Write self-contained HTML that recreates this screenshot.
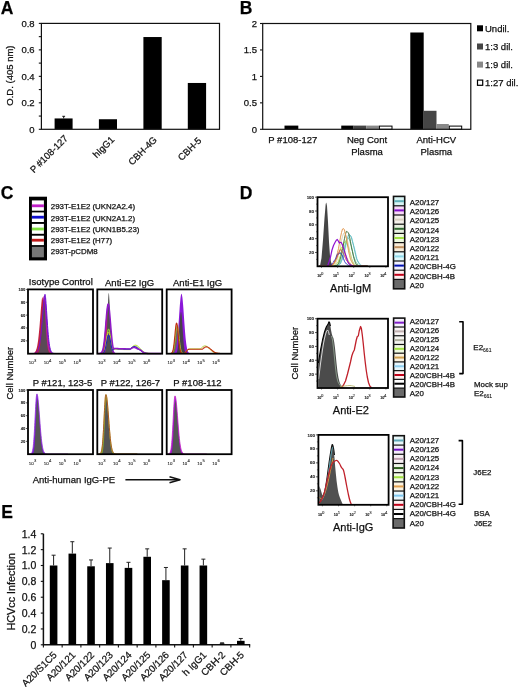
<!DOCTYPE html>
<html><head><meta charset="utf-8"><style>
html,body{margin:0;padding:0;background:#fff;}
svg{display:block;will-change:transform;}
text{font-family:"Liberation Sans",sans-serif;}

text{stroke:#111;stroke-width:0.25px;}
</style></head><body>
<svg width="520" height="687" viewBox="0 0 520 687" font-family="Liberation Sans, sans-serif">
<rect width="520" height="687" fill="#fff"/>
<text x="0.8" y="13.6" font-size="17.5" text-anchor="start" font-weight="bold" fill="#000" >A</text>
<text x="239.7" y="13.6" font-size="17.5" text-anchor="start" font-weight="bold" fill="#000" >B</text>
<text x="0.7" y="198.7" font-size="17.5" text-anchor="start" font-weight="bold" fill="#000" >C</text>
<text x="239.7" y="198.8" font-size="17.5" text-anchor="start" font-weight="bold" fill="#000" >D</text>
<text x="1.2" y="517.8" font-size="17.5" text-anchor="start" font-weight="bold" fill="#000" >E</text>
<line x1="38.8" y1="129.3" x2="41.4" y2="129.3" stroke="#111" stroke-width="1.1"/>
<line x1="38.8" y1="116.06250000000001" x2="41.4" y2="116.06250000000001" stroke="#111" stroke-width="1.1"/>
<line x1="38.8" y1="102.82500000000002" x2="41.4" y2="102.82500000000002" stroke="#111" stroke-width="1.1"/>
<line x1="38.8" y1="89.5875" x2="41.4" y2="89.5875" stroke="#111" stroke-width="1.1"/>
<line x1="38.8" y1="76.35000000000001" x2="41.4" y2="76.35000000000001" stroke="#111" stroke-width="1.1"/>
<line x1="38.8" y1="63.11250000000001" x2="41.4" y2="63.11250000000001" stroke="#111" stroke-width="1.1"/>
<line x1="38.8" y1="49.875000000000014" x2="41.4" y2="49.875000000000014" stroke="#111" stroke-width="1.1"/>
<line x1="38.8" y1="36.63750000000002" x2="41.4" y2="36.63750000000002" stroke="#111" stroke-width="1.1"/>
<line x1="38.8" y1="23.400000000000006" x2="41.4" y2="23.400000000000006" stroke="#111" stroke-width="1.1"/>
<text x="34.6" y="132.70000000000002" font-size="9.5" text-anchor="end" font-weight="normal" fill="#111" >0</text>
<text x="34.6" y="106.22500000000002" font-size="9.5" text-anchor="end" font-weight="normal" fill="#111" >0.2</text>
<text x="34.6" y="79.75000000000001" font-size="9.5" text-anchor="end" font-weight="normal" fill="#111" >0.4</text>
<text x="34.6" y="53.27500000000001" font-size="9.5" text-anchor="end" font-weight="normal" fill="#111" >0.6</text>
<text x="34.6" y="26.800000000000004" font-size="9.5" text-anchor="end" font-weight="normal" fill="#111" >0.8</text>
<rect x="54.6" y="118.44525000000002" width="17.999999999999993" height="10.854749999999996" fill="#000" stroke="none" stroke-width="0"/>
<rect x="98.9" y="119.2395" width="18.099999999999994" height="10.060500000000005" fill="#000" stroke="none" stroke-width="0"/>
<rect x="143.4" y="37.03462500000002" width="18.299999999999983" height="92.26537499999999" fill="#000" stroke="none" stroke-width="0"/>
<rect x="187.8" y="82.96875000000001" width="18.299999999999983" height="46.33125" fill="#000" stroke="none" stroke-width="0"/>
<line x1="63.7" y1="118.44525000000002" x2="63.7" y2="116.3" stroke="#111" stroke-width="1"/>
<line x1="62.3" y1="116.3" x2="65.1" y2="116.3" stroke="#111" stroke-width="1"/>
<rect x="41.4" y="23.4" width="178.1" height="105.9" fill="none" stroke="#111" stroke-width="1.2"/>
<text x="0" y="0" font-size="9.5" text-anchor="middle" font-weight="normal" fill="#111" transform="translate(12.6,75.6) rotate(-90)">O.D. (405 nm)</text>
<text x="0" y="0" font-size="9.5" text-anchor="end" font-weight="normal" fill="#111" transform="translate(68.5,139.0) rotate(-45)">P #108-127</text>
<text x="0" y="0" font-size="9.5" text-anchor="end" font-weight="normal" fill="#111" transform="translate(115,140.3) rotate(-45)">hIgG1</text>
<text x="0" y="0" font-size="9.5" text-anchor="end" font-weight="normal" fill="#111" transform="translate(157.6,140.4) rotate(-45)">CBH-4G</text>
<text x="0" y="0" font-size="9.5" text-anchor="end" font-weight="normal" fill="#111" transform="translate(202,141.2) rotate(-45)">CBH-5</text>
<line x1="260" y1="129.3" x2="262.7" y2="129.3" stroke="#111" stroke-width="1.1"/>
<text x="257" y="132.60000000000002" font-size="9.5" text-anchor="end" font-weight="normal" fill="#111" >0</text>
<line x1="260" y1="102.85000000000001" x2="262.7" y2="102.85000000000001" stroke="#111" stroke-width="1.1"/>
<text x="257" y="106.15" font-size="9.5" text-anchor="end" font-weight="normal" fill="#111" >0.5</text>
<line x1="260" y1="76.4" x2="262.7" y2="76.4" stroke="#111" stroke-width="1.1"/>
<text x="257" y="79.7" font-size="9.5" text-anchor="end" font-weight="normal" fill="#111" >1</text>
<line x1="260" y1="49.95" x2="262.7" y2="49.95" stroke="#111" stroke-width="1.1"/>
<text x="257" y="53.25" font-size="9.5" text-anchor="end" font-weight="normal" fill="#111" >1.5</text>
<line x1="260" y1="23.5" x2="262.7" y2="23.5" stroke="#111" stroke-width="1.1"/>
<text x="257" y="26.8" font-size="9.5" text-anchor="end" font-weight="normal" fill="#111" >2</text>
<rect x="284.5" y="125.59700000000001" width="13.8" height="3.703000000000003" fill="#000" stroke="none" stroke-width="0"/>
<rect x="341.25" y="125.59700000000001" width="12.350000000000023" height="3.703000000000003" fill="#000" stroke="none" stroke-width="0"/>
<rect x="353.6" y="125.59700000000001" width="12.599999999999966" height="3.703000000000003" fill="#454545" stroke="none" stroke-width="0"/>
<rect x="366.2" y="125.59700000000001" width="12.699999999999989" height="3.703000000000003" fill="#888" stroke="none" stroke-width="0"/>
<rect x="379.4" y="126.09700000000001" width="12.600000000000023" height="3.203000000000003" fill="#fff" stroke="#000" stroke-width="1"/>
<rect x="410.3" y="32.492999999999995" width="13.399999999999977" height="96.80700000000002" fill="#000" stroke="none" stroke-width="0"/>
<rect x="423.7" y="110.78500000000001" width="12.800000000000011" height="18.515" fill="#454545" stroke="none" stroke-width="0"/>
<rect x="436.5" y="124.01" width="12.300000000000011" height="5.290000000000006" fill="#888" stroke="none" stroke-width="0"/>
<rect x="449.3" y="126.09700000000001" width="12.399999999999977" height="3.203000000000003" fill="#fff" stroke="#000" stroke-width="1"/>
<rect x="262.7" y="23.5" width="208.10000000000002" height="105.80000000000001" fill="none" stroke="#111" stroke-width="1.2"/>
<rect x="477" y="25.3" width="6" height="6" fill="#000" stroke="none" stroke-width="0"/>
<text x="485" y="32" font-size="9.5" text-anchor="start" font-weight="normal" fill="#111" >Undil.</text>
<rect x="477" y="43.5" width="6" height="6" fill="#454545" stroke="none" stroke-width="0"/>
<text x="485" y="50" font-size="9.5" text-anchor="start" font-weight="normal" fill="#111" >1:3 dil.</text>
<rect x="477" y="61.6" width="6" height="6" fill="#888" stroke="none" stroke-width="0"/>
<text x="485" y="68" font-size="9.5" text-anchor="start" font-weight="normal" fill="#111" >1:9 dil.</text>
<rect x="477.5" y="80.1" width="5.2" height="5.2" fill="#fff" stroke="#000" stroke-width="1.2"/>
<text x="485" y="86" font-size="9.5" text-anchor="start" font-weight="normal" fill="#111" >1:27 dil.</text>
<text x="292.8" y="143.2" font-size="9.5" text-anchor="middle" font-weight="normal" fill="#111" >P #108-127</text>
<text x="367" y="142.9" font-size="9.5" text-anchor="middle" font-weight="normal" fill="#111" >Neg Cont</text>
<text x="367" y="154.5" font-size="9.5" text-anchor="middle" font-weight="normal" fill="#111" >Plasma</text>
<text x="436.3" y="142.9" font-size="9.5" text-anchor="middle" font-weight="normal" fill="#111" >Anti-HCV</text>
<text x="436.3" y="154.5" font-size="9.5" text-anchor="middle" font-weight="normal" fill="#111" >Plasma</text>
<rect x="29" y="196.7" width="18" height="63.7" fill="#000" stroke="none" stroke-width="0"/>
<rect x="31.9" y="200.4" width="12" height="10.299999999999983" fill="#fff" stroke="none" stroke-width="0"/>
<rect x="31.9" y="204.4" width="12" height="2.8" fill="#c020c8" stroke="none" stroke-width="0"/>
<rect x="31.9" y="212.4" width="12" height="9.599999999999994" fill="#fff" stroke="none" stroke-width="0"/>
<rect x="31.9" y="215.79999999999998" width="12" height="2.8" fill="#1010d0" stroke="none" stroke-width="0"/>
<rect x="31.9" y="223.9" width="12" height="9.900000000000006" fill="#fff" stroke="none" stroke-width="0"/>
<rect x="31.9" y="227.6" width="12" height="2.8" fill="#80e040" stroke="none" stroke-width="0"/>
<rect x="31.9" y="235.7" width="12" height="9.400000000000006" fill="#fff" stroke="none" stroke-width="0"/>
<rect x="31.9" y="238.79999999999998" width="12" height="2.8" fill="#c01818" stroke="none" stroke-width="0"/>
<rect x="31.9" y="246.8" width="12" height="10.5" fill="#777" stroke="none" stroke-width="0"/>
<text x="50.8" y="209.4" font-size="7.9" text-anchor="start" font-weight="normal" fill="#111" >293T-E1E2 (UKN2A2.4)</text>
<text x="50.8" y="220.6" font-size="7.9" text-anchor="start" font-weight="normal" fill="#111" >293T-E1E2 (UKN2A1.2)</text>
<text x="50.8" y="231.9" font-size="7.9" text-anchor="start" font-weight="normal" fill="#111" >293T-E1E2 (UKN1B5.23)</text>
<text x="50.8" y="243" font-size="7.9" text-anchor="start" font-weight="normal" fill="#111" >293T-E1E2 (H77)</text>
<text x="50.8" y="254" font-size="7.9" text-anchor="start" font-weight="normal" fill="#111" >293T-pCDM8</text>
<text x="60.8" y="285" font-size="9.5" text-anchor="middle" font-weight="normal" fill="#111" >Isotype Control</text>
<text x="129.6" y="285.6" font-size="9.5" text-anchor="middle" font-weight="normal" fill="#111" >Anti-E2 IgG</text>
<text x="197.6" y="285.6" font-size="9.5" text-anchor="middle" font-weight="normal" fill="#111" >Anti-E1 IgG</text>
<text x="62.5" y="386.3" font-size="9.5" text-anchor="middle" font-weight="normal" fill="#111" >P #121, 123-5</text>
<text x="130.4" y="386.3" font-size="9.5" text-anchor="middle" font-weight="normal" fill="#111" >P #122, 126-7</text>
<text x="197.4" y="386.3" font-size="9.5" text-anchor="middle" font-weight="normal" fill="#111" >P #108-112</text>
<path d="M29.00,353.5 L29.00,353.50 C29.08,353.50 29.32,353.50 29.49,353.50 C29.65,353.50 29.81,353.50 29.98,353.50 C30.14,353.50 30.30,353.50 30.46,353.50 C30.62,353.50 30.79,353.50 30.95,353.50 C31.11,353.49 31.27,353.49 31.44,353.49 C31.60,353.49 31.76,353.49 31.93,353.49 C32.09,353.48 32.25,353.48 32.41,353.48 C32.58,353.47 32.74,353.47 32.90,353.46 C33.06,353.45 33.23,353.45 33.39,353.43 C33.55,353.42 33.71,353.41 33.88,353.39 C34.04,353.38 34.20,353.36 34.36,353.33 C34.52,353.31 34.69,353.28 34.85,353.24 C35.01,353.20 35.17,353.15 35.34,353.09 C35.50,353.03 35.66,352.97 35.83,352.88 C35.99,352.79 36.15,352.70 36.31,352.57 C36.48,352.45 36.64,352.31 36.80,352.13 C36.96,351.95 37.12,351.76 37.29,351.51 C37.45,351.27 37.61,350.99 37.77,350.66 C37.94,350.33 38.10,349.96 38.26,349.51 C38.43,349.06 38.59,348.57 38.75,347.99 C38.91,347.40 39.07,346.76 39.24,346.01 C39.40,345.27 39.56,344.44 39.73,343.51 C39.89,342.58 40.05,341.55 40.21,340.41 C40.38,339.27 40.54,338.02 40.70,336.66 C40.86,335.30 41.02,333.82 41.19,332.25 C41.35,330.68 41.51,328.98 41.67,327.22 C41.84,325.45 42.00,323.57 42.16,321.66 C42.33,319.75 42.49,317.73 42.65,315.76 C42.81,313.78 42.98,311.72 43.14,309.78 C43.30,307.84 43.46,305.87 43.62,304.10 C43.79,302.33 43.95,300.59 44.11,299.18 C44.27,297.76 44.44,296.39 44.60,295.60 C44.76,294.81 44.92,294.09 45.09,294.44 C45.25,294.80 45.41,296.23 45.58,297.75 C45.74,299.27 45.90,301.43 46.06,303.58 C46.23,305.74 46.39,308.26 46.55,310.69 C46.71,313.12 46.88,315.72 47.04,318.16 C47.20,320.61 47.36,323.07 47.52,325.34 C47.69,327.61 47.85,329.80 48.01,331.79 C48.18,333.78 48.34,335.62 48.50,337.28 C48.66,338.94 48.82,340.41 48.99,341.74 C49.15,343.06 49.31,344.20 49.48,345.21 C49.64,346.22 49.80,347.07 49.96,347.82 C50.12,348.57 50.29,349.17 50.45,349.71 C50.61,350.25 50.77,350.67 50.94,351.04 C51.10,351.41 51.26,351.69 51.42,351.94 C51.59,352.19 51.75,352.37 51.91,352.54 C52.08,352.70 52.24,352.81 52.40,352.92 C52.56,353.02 52.73,353.09 52.89,353.16 C53.05,353.22 53.21,353.26 53.38,353.30 C53.54,353.34 53.70,353.37 53.86,353.39 C54.02,353.41 54.19,353.43 54.35,353.44 C54.51,353.45 54.67,353.46 54.84,353.47 C55.00,353.47 55.16,353.48 55.33,353.48 C55.49,353.49 55.65,353.49 55.81,353.49 C55.98,353.49 56.14,353.49 56.30,353.50 C56.46,353.50 56.62,353.50 56.79,353.50 C56.95,353.50 57.11,353.50 57.27,353.50 C57.44,353.50 57.60,353.50 57.76,353.50 C57.93,353.50 58.09,353.50 58.25,353.50 C58.41,353.50 58.57,353.50 58.74,353.50 C58.90,353.50 59.06,353.50 59.23,353.50 C59.39,353.50 59.55,353.50 59.71,353.50 C59.88,353.50 60.04,353.50 60.20,353.50 C60.36,353.50 60.52,353.50 60.69,353.50 C60.85,353.50 61.01,353.50 61.17,353.50 C61.34,353.50 61.50,353.50 61.66,353.50 C61.83,353.50 61.99,353.50 62.15,353.50 C62.31,353.50 62.48,353.50 62.64,353.50 C62.80,353.50 62.96,353.50 63.12,353.50 C63.29,353.50 63.45,353.50 63.61,353.50 C63.77,353.50 63.94,353.50 64.10,353.50 C64.26,353.50 64.43,353.50 64.59,353.50 C64.75,353.50 64.91,353.50 65.08,353.50 C65.24,353.50 65.40,353.50 65.56,353.50 C65.72,353.50 65.89,353.50 66.05,353.50 C66.21,353.50 66.38,353.50 66.54,353.50 C66.70,353.50 66.86,353.50 67.03,353.50 C67.19,353.50 67.35,353.50 67.51,353.50 C67.67,353.50 67.92,353.50 68.00,353.50 L68.00,353.5 Z" fill="#8a10d8" stroke="none" stroke-width="1" stroke-linejoin="round" />
<path d="M29.00,353.5 L29.00,353.50 C29.08,353.50 29.32,353.50 29.49,353.50 C29.65,353.50 29.81,353.50 29.98,353.50 C30.14,353.50 30.30,353.50 30.46,353.50 C30.62,353.50 30.79,353.50 30.95,353.49 C31.11,353.49 31.27,353.49 31.44,353.49 C31.60,353.49 31.76,353.49 31.93,353.48 C32.09,353.48 32.25,353.48 32.41,353.47 C32.58,353.47 32.74,353.46 32.90,353.45 C33.06,353.44 33.23,353.43 33.39,353.41 C33.55,353.40 33.71,353.38 33.88,353.36 C34.04,353.33 34.20,353.31 34.36,353.27 C34.52,353.23 34.69,353.19 34.85,353.13 C35.01,353.07 35.17,353.00 35.34,352.91 C35.50,352.82 35.66,352.72 35.83,352.58 C35.99,352.45 36.15,352.30 36.31,352.10 C36.48,351.91 36.64,351.69 36.80,351.41 C36.96,351.14 37.12,350.83 37.29,350.44 C37.45,350.06 37.61,349.62 37.77,349.10 C37.94,348.58 38.10,347.99 38.26,347.30 C38.43,346.60 38.59,345.83 38.75,344.93 C38.91,344.04 39.07,343.04 39.24,341.91 C39.40,340.79 39.56,339.55 39.73,338.17 C39.89,336.80 40.05,335.29 40.21,333.67 C40.38,332.05 40.54,330.29 40.70,328.44 C40.86,326.59 41.02,324.61 41.19,322.60 C41.35,320.58 41.51,318.45 41.67,316.36 C41.84,314.27 42.00,312.10 42.16,310.07 C42.33,308.04 42.49,305.99 42.65,304.20 C42.81,302.42 42.98,300.67 43.14,299.36 C43.30,298.06 43.46,296.75 43.62,296.36 C43.79,295.97 43.95,296.27 44.11,297.03 C44.27,297.79 44.44,299.35 44.60,300.93 C44.76,302.50 44.92,304.49 45.09,306.47 C45.25,308.46 45.41,310.70 45.58,312.86 C45.74,315.03 45.90,317.31 46.06,319.46 C46.23,321.62 46.39,323.79 46.55,325.81 C46.71,327.83 46.88,329.78 47.04,331.58 C47.20,333.38 47.36,335.06 47.52,336.59 C47.69,338.12 47.85,339.52 48.01,340.78 C48.18,342.04 48.34,343.16 48.50,344.16 C48.66,345.16 48.82,346.02 48.99,346.80 C49.15,347.57 49.31,348.22 49.48,348.80 C49.64,349.38 49.80,349.85 49.96,350.27 C50.12,350.70 50.29,351.03 50.45,351.33 C50.61,351.63 50.77,351.87 50.94,352.07 C51.10,352.28 51.26,352.44 51.42,352.58 C51.59,352.72 51.75,352.83 51.91,352.92 C52.08,353.01 52.24,353.08 52.40,353.14 C52.56,353.20 52.73,353.24 52.89,353.28 C53.05,353.32 53.21,353.35 53.38,353.37 C53.54,353.39 53.70,353.41 53.86,353.42 C54.02,353.44 54.19,353.45 54.35,353.46 C54.51,353.46 54.67,353.47 54.84,353.48 C55.00,353.48 55.16,353.48 55.33,353.49 C55.49,353.49 55.65,353.49 55.81,353.49 C55.98,353.49 56.14,353.50 56.30,353.50 C56.46,353.50 56.62,353.50 56.79,353.50 C56.95,353.50 57.11,353.50 57.27,353.50 C57.44,353.50 57.60,353.50 57.76,353.50 C57.93,353.50 58.09,353.50 58.25,353.50 C58.41,353.50 58.57,353.50 58.74,353.50 C58.90,353.50 59.06,353.50 59.23,353.50 C59.39,353.50 59.55,353.50 59.71,353.50 C59.88,353.50 60.04,353.50 60.20,353.50 C60.36,353.50 60.52,353.50 60.69,353.50 C60.85,353.50 61.01,353.50 61.17,353.50 C61.34,353.50 61.50,353.50 61.66,353.50 C61.83,353.50 61.99,353.50 62.15,353.50 C62.31,353.50 62.48,353.50 62.64,353.50 C62.80,353.50 62.96,353.50 63.12,353.50 C63.29,353.50 63.45,353.50 63.61,353.50 C63.77,353.50 63.94,353.50 64.10,353.50 C64.26,353.50 64.43,353.50 64.59,353.50 C64.75,353.50 64.91,353.50 65.08,353.50 C65.24,353.50 65.40,353.50 65.56,353.50 C65.72,353.50 65.89,353.50 66.05,353.50 C66.21,353.50 66.38,353.50 66.54,353.50 C66.70,353.50 66.86,353.50 67.03,353.50 C67.19,353.50 67.35,353.50 67.51,353.50 C67.67,353.50 67.92,353.50 68.00,353.50 L68.00,353.5 Z" fill="#c02090" stroke="none" stroke-width="1" stroke-linejoin="round" />
<path d="M29.00,353.5 L29.00,353.50 C29.08,353.50 29.32,353.50 29.49,353.50 C29.65,353.49 29.81,353.49 29.98,353.49 C30.14,353.49 30.30,353.49 30.46,353.48 C30.62,353.48 30.79,353.48 30.95,353.47 C31.11,353.47 31.27,353.46 31.44,353.45 C31.60,353.45 31.76,353.44 31.93,353.42 C32.09,353.41 32.25,353.39 32.41,353.37 C32.58,353.35 32.74,353.32 32.90,353.29 C33.06,353.25 33.23,353.21 33.39,353.15 C33.55,353.10 33.71,353.04 33.88,352.95 C34.04,352.87 34.20,352.77 34.36,352.65 C34.52,352.52 34.69,352.38 34.85,352.20 C35.01,352.02 35.17,351.81 35.34,351.55 C35.50,351.29 35.66,351.00 35.83,350.63 C35.99,350.27 36.15,349.86 36.31,349.37 C36.48,348.87 36.64,348.32 36.80,347.66 C36.96,347.00 37.12,346.27 37.29,345.41 C37.45,344.56 37.61,343.61 37.77,342.54 C37.94,341.46 38.10,340.27 38.26,338.95 C38.43,337.63 38.59,336.19 38.75,334.62 C38.91,333.06 39.07,331.36 39.24,329.57 C39.40,327.78 39.56,325.86 39.73,323.90 C39.89,321.94 40.05,319.85 40.21,317.80 C40.38,315.75 40.54,313.61 40.70,311.61 C40.86,309.60 41.02,307.55 41.19,305.76 C41.35,303.96 41.51,302.19 41.67,300.83 C41.84,299.47 42.00,298.11 42.16,297.59 C42.33,297.08 42.49,297.09 42.65,297.75 C42.81,298.42 42.98,299.99 43.14,301.57 C43.30,303.15 43.46,305.20 43.62,307.24 C43.79,309.28 43.95,311.60 44.11,313.82 C44.27,316.05 44.44,318.40 44.60,320.61 C44.76,322.82 44.92,325.04 45.09,327.09 C45.25,329.14 45.41,331.11 45.58,332.91 C45.74,334.72 45.90,336.39 46.06,337.90 C46.23,339.42 46.39,340.78 46.55,342.00 C46.71,343.22 46.88,344.29 47.04,345.24 C47.20,346.19 47.36,347.00 47.52,347.71 C47.69,348.43 47.85,349.02 48.01,349.55 C48.18,350.07 48.34,350.49 48.50,350.86 C48.66,351.23 48.82,351.52 48.99,351.78 C49.15,352.04 49.31,352.23 49.48,352.40 C49.64,352.58 49.80,352.70 49.96,352.82 C50.12,352.93 50.29,353.01 50.45,353.08 C50.61,353.16 50.77,353.21 50.94,353.25 C51.10,353.30 51.26,353.33 51.42,353.35 C51.59,353.38 51.75,353.40 51.91,353.42 C52.08,353.43 52.24,353.44 52.40,353.45 C52.56,353.46 52.73,353.47 52.89,353.47 C53.05,353.48 53.21,353.48 53.38,353.49 C53.54,353.49 53.70,353.49 53.86,353.49 C54.02,353.49 54.19,353.50 54.35,353.50 C54.51,353.50 54.67,353.50 54.84,353.50 C55.00,353.50 55.16,353.50 55.33,353.50 C55.49,353.50 55.65,353.50 55.81,353.50 C55.98,353.50 56.14,353.50 56.30,353.50 C56.46,353.50 56.62,353.50 56.79,353.50 C56.95,353.50 57.11,353.50 57.27,353.50 C57.44,353.50 57.60,353.50 57.76,353.50 C57.93,353.50 58.09,353.50 58.25,353.50 C58.41,353.50 58.57,353.50 58.74,353.50 C58.90,353.50 59.06,353.50 59.23,353.50 C59.39,353.50 59.55,353.50 59.71,353.50 C59.88,353.50 60.04,353.50 60.20,353.50 C60.36,353.50 60.52,353.50 60.69,353.50 C60.85,353.50 61.01,353.50 61.17,353.50 C61.34,353.50 61.50,353.50 61.66,353.50 C61.83,353.50 61.99,353.50 62.15,353.50 C62.31,353.50 62.48,353.50 62.64,353.50 C62.80,353.50 62.96,353.50 63.12,353.50 C63.29,353.50 63.45,353.50 63.61,353.50 C63.77,353.50 63.94,353.50 64.10,353.50 C64.26,353.50 64.43,353.50 64.59,353.50 C64.75,353.50 64.91,353.50 65.08,353.50 C65.24,353.50 65.40,353.50 65.56,353.50 C65.72,353.50 65.89,353.50 66.05,353.50 C66.21,353.50 66.38,353.50 66.54,353.50 C66.70,353.50 66.86,353.50 67.03,353.50 C67.19,353.50 67.35,353.50 67.51,353.50 C67.67,353.50 67.92,353.50 68.00,353.50 L68.00,353.5 Z" fill="#c02040" stroke="none" stroke-width="1" stroke-linejoin="round" />
<path d="M29.00,353.5 L29.00,353.50 C29.08,353.50 29.32,353.50 29.49,353.50 C29.65,353.50 29.81,353.50 29.98,353.50 C30.14,353.50 30.30,353.50 30.46,353.50 C30.62,353.50 30.79,353.50 30.95,353.50 C31.11,353.50 31.27,353.50 31.44,353.50 C31.60,353.50 31.76,353.50 31.93,353.50 C32.09,353.50 32.25,353.50 32.41,353.50 C32.58,353.50 32.74,353.50 32.90,353.50 C33.06,353.50 33.23,353.50 33.39,353.50 C33.55,353.50 33.71,353.50 33.88,353.50 C34.04,353.50 34.20,353.50 34.36,353.50 C34.52,353.50 34.69,353.50 34.85,353.50 C35.01,353.49 35.17,353.49 35.34,353.49 C35.50,353.49 35.66,353.48 35.83,353.47 C35.99,353.47 36.15,353.46 36.31,353.44 C36.48,353.43 36.64,353.41 36.80,353.38 C36.96,353.35 37.12,353.31 37.29,353.25 C37.45,353.19 37.61,353.12 37.77,353.01 C37.94,352.89 38.10,352.77 38.26,352.57 C38.43,352.37 38.59,352.14 38.75,351.81 C38.91,351.47 39.07,351.09 39.24,350.56 C39.40,350.02 39.56,349.41 39.73,348.60 C39.89,347.80 40.05,346.87 40.21,345.71 C40.38,344.55 40.54,343.22 40.70,341.65 C40.86,340.09 41.02,338.30 41.19,336.31 C41.35,334.32 41.51,332.08 41.67,329.73 C41.84,327.39 42.00,324.79 42.16,322.25 C42.33,319.72 42.49,316.98 42.65,314.53 C42.81,312.07 42.98,309.54 43.14,307.54 C43.30,305.54 43.46,303.59 43.62,302.54 C43.79,301.48 43.95,300.76 44.11,301.22 C44.27,301.68 44.44,303.41 44.60,305.30 C44.76,307.20 44.92,309.94 45.09,312.59 C45.25,315.24 45.41,318.36 45.58,321.21 C45.74,324.05 45.90,327.04 46.06,329.67 C46.23,332.30 46.39,334.81 46.55,336.99 C46.71,339.17 46.88,341.09 47.04,342.74 C47.20,344.39 47.36,345.74 47.52,346.89 C47.69,348.04 47.85,348.91 48.01,349.66 C48.18,350.41 48.34,350.94 48.50,351.39 C48.66,351.85 48.82,352.14 48.99,352.41 C49.15,352.67 49.31,352.82 49.48,352.96 C49.64,353.10 49.80,353.18 49.96,353.25 C50.12,353.32 50.29,353.35 50.45,353.39 C50.61,353.42 50.77,353.44 50.94,353.45 C51.10,353.47 51.26,353.47 51.42,353.48 C51.59,353.49 51.75,353.49 51.91,353.49 C52.08,353.50 52.24,353.50 52.40,353.50 C52.56,353.50 52.73,353.50 52.89,353.50 C53.05,353.50 53.21,353.50 53.38,353.50 C53.54,353.50 53.70,353.50 53.86,353.50 C54.02,353.50 54.19,353.50 54.35,353.50 C54.51,353.50 54.67,353.50 54.84,353.50 C55.00,353.50 55.16,353.50 55.33,353.50 C55.49,353.50 55.65,353.50 55.81,353.50 C55.98,353.50 56.14,353.50 56.30,353.50 C56.46,353.50 56.62,353.50 56.79,353.50 C56.95,353.50 57.11,353.50 57.27,353.50 C57.44,353.50 57.60,353.50 57.76,353.50 C57.93,353.50 58.09,353.50 58.25,353.50 C58.41,353.50 58.57,353.50 58.74,353.50 C58.90,353.50 59.06,353.50 59.23,353.50 C59.39,353.50 59.55,353.50 59.71,353.50 C59.88,353.50 60.04,353.50 60.20,353.50 C60.36,353.50 60.52,353.50 60.69,353.50 C60.85,353.50 61.01,353.50 61.17,353.50 C61.34,353.50 61.50,353.50 61.66,353.50 C61.83,353.50 61.99,353.50 62.15,353.50 C62.31,353.50 62.48,353.50 62.64,353.50 C62.80,353.50 62.96,353.50 63.12,353.50 C63.29,353.50 63.45,353.50 63.61,353.50 C63.77,353.50 63.94,353.50 64.10,353.50 C64.26,353.50 64.43,353.50 64.59,353.50 C64.75,353.50 64.91,353.50 65.08,353.50 C65.24,353.50 65.40,353.50 65.56,353.50 C65.72,353.50 65.89,353.50 66.05,353.50 C66.21,353.50 66.38,353.50 66.54,353.50 C66.70,353.50 66.86,353.50 67.03,353.50 C67.19,353.50 67.35,353.50 67.51,353.50 C67.67,353.50 67.92,353.50 68.00,353.50 L68.00,353.5 Z" fill="#5a4a55" stroke="none" stroke-width="1" stroke-linejoin="round" />
<path d="M29.00,353.50 C29.08,353.50 29.32,353.50 29.49,353.50 C29.65,353.50 29.81,353.50 29.98,353.50 C30.14,353.50 30.30,353.50 30.46,353.50 C30.62,353.50 30.79,353.50 30.95,353.50 C31.11,353.49 31.27,353.49 31.44,353.49 C31.60,353.49 31.76,353.49 31.93,353.49 C32.09,353.48 32.25,353.48 32.41,353.48 C32.58,353.47 32.74,353.47 32.90,353.46 C33.06,353.45 33.23,353.45 33.39,353.43 C33.55,353.42 33.71,353.41 33.88,353.39 C34.04,353.38 34.20,353.36 34.36,353.33 C34.52,353.31 34.69,353.28 34.85,353.24 C35.01,353.20 35.17,353.15 35.34,353.09 C35.50,353.03 35.66,352.97 35.83,352.88 C35.99,352.79 36.15,352.70 36.31,352.57 C36.48,352.45 36.64,352.31 36.80,352.13 C36.96,351.95 37.12,351.76 37.29,351.51 C37.45,351.27 37.61,350.99 37.77,350.66 C37.94,350.33 38.10,349.96 38.26,349.51 C38.43,349.06 38.59,348.57 38.75,347.99 C38.91,347.40 39.07,346.76 39.24,346.01 C39.40,345.27 39.56,344.44 39.73,343.51 C39.89,342.58 40.05,341.55 40.21,340.41 C40.38,339.27 40.54,338.02 40.70,336.66 C40.86,335.30 41.02,333.82 41.19,332.25 C41.35,330.68 41.51,328.98 41.67,327.22 C41.84,325.45 42.00,323.57 42.16,321.66 C42.33,319.75 42.49,317.73 42.65,315.76 C42.81,313.78 42.98,311.72 43.14,309.78 C43.30,307.84 43.46,305.87 43.62,304.10 C43.79,302.33 43.95,300.59 44.11,299.18 C44.27,297.76 44.44,296.39 44.60,295.60 C44.76,294.81 44.92,294.09 45.09,294.44 C45.25,294.80 45.41,296.23 45.58,297.75 C45.74,299.27 45.90,301.43 46.06,303.58 C46.23,305.74 46.39,308.26 46.55,310.69 C46.71,313.12 46.88,315.72 47.04,318.16 C47.20,320.61 47.36,323.07 47.52,325.34 C47.69,327.61 47.85,329.80 48.01,331.79 C48.18,333.78 48.34,335.62 48.50,337.28 C48.66,338.94 48.82,340.41 48.99,341.74 C49.15,343.06 49.31,344.20 49.48,345.21 C49.64,346.22 49.80,347.07 49.96,347.82 C50.12,348.57 50.29,349.17 50.45,349.71 C50.61,350.25 50.77,350.67 50.94,351.04 C51.10,351.41 51.26,351.69 51.42,351.94 C51.59,352.19 51.75,352.37 51.91,352.54 C52.08,352.70 52.24,352.81 52.40,352.92 C52.56,353.02 52.73,353.09 52.89,353.16 C53.05,353.22 53.21,353.26 53.38,353.30 C53.54,353.34 53.70,353.37 53.86,353.39 C54.02,353.41 54.19,353.43 54.35,353.44 C54.51,353.45 54.67,353.46 54.84,353.47 C55.00,353.47 55.16,353.48 55.33,353.48 C55.49,353.49 55.65,353.49 55.81,353.49 C55.98,353.49 56.14,353.49 56.30,353.50 C56.46,353.50 56.62,353.50 56.79,353.50 C56.95,353.50 57.11,353.50 57.27,353.50 C57.44,353.50 57.60,353.50 57.76,353.50 C57.93,353.50 58.09,353.50 58.25,353.50 C58.41,353.50 58.57,353.50 58.74,353.50 C58.90,353.50 59.06,353.50 59.23,353.50 C59.39,353.50 59.55,353.50 59.71,353.50 C59.88,353.50 60.04,353.50 60.20,353.50 C60.36,353.50 60.52,353.50 60.69,353.50 C60.85,353.50 61.01,353.50 61.17,353.50 C61.34,353.50 61.50,353.50 61.66,353.50 C61.83,353.50 61.99,353.50 62.15,353.50 C62.31,353.50 62.48,353.50 62.64,353.50 C62.80,353.50 62.96,353.50 63.12,353.50 C63.29,353.50 63.45,353.50 63.61,353.50 C63.77,353.50 63.94,353.50 64.10,353.50 C64.26,353.50 64.43,353.50 64.59,353.50 C64.75,353.50 64.91,353.50 65.08,353.50 C65.24,353.50 65.40,353.50 65.56,353.50 C65.72,353.50 65.89,353.50 66.05,353.50 C66.21,353.50 66.38,353.50 66.54,353.50 C66.70,353.50 66.86,353.50 67.03,353.50 C67.19,353.50 67.35,353.50 67.51,353.50 C67.67,353.50 67.92,353.50 68.00,353.50" fill="none" stroke="#7010d0" stroke-width="1" stroke-linejoin="round" />
<path d="M98.30,353.5 L98.30,353.49 C98.42,353.48 98.77,353.47 99.00,353.46 C99.23,353.44 99.46,353.42 99.70,353.38 C99.93,353.33 100.16,353.28 100.40,353.17 C100.63,353.06 100.86,352.95 101.10,352.71 C101.33,352.47 101.56,352.21 101.79,351.75 C102.03,351.29 102.26,350.76 102.49,349.94 C102.73,349.12 102.96,348.16 103.19,346.84 C103.43,345.53 103.66,343.97 103.89,342.07 C104.12,340.17 104.36,337.91 104.59,335.46 C104.82,333.01 105.06,330.15 105.29,327.35 C105.52,324.55 105.75,321.41 105.99,318.67 C106.22,315.93 106.45,313.06 106.69,310.88 C106.92,308.70 107.15,306.74 107.39,305.60 C107.62,304.45 107.85,303.87 108.08,304.03 C108.32,304.19 108.55,305.14 108.78,306.57 C109.02,307.99 109.25,310.23 109.48,312.59 C109.72,314.96 109.95,317.94 110.18,320.75 C110.41,323.55 110.65,326.66 110.88,329.41 C111.11,332.15 111.35,334.89 111.58,337.22 C111.81,339.55 112.04,341.64 112.28,343.39 C112.51,345.14 112.74,346.55 112.98,347.73 C113.21,348.91 113.44,349.76 113.68,350.48 C113.91,351.20 114.14,351.65 114.37,352.05 C114.61,352.44 114.84,352.66 115.07,352.86 C115.31,353.06 115.54,353.15 115.77,353.24 C116.01,353.33 116.24,353.36 116.47,353.40 C116.70,353.44 116.94,353.45 117.17,353.47 C117.40,353.48 117.64,353.48 117.87,353.49 C118.10,353.49 118.33,353.50 118.57,353.50 C118.80,353.50 119.03,353.50 119.27,353.50 C119.50,353.50 119.73,353.50 119.97,353.50 C120.20,353.50 120.43,353.50 120.66,353.50 C120.90,353.50 121.13,353.50 121.36,353.50 C121.60,353.50 121.83,353.50 122.06,353.50 C122.30,353.50 122.53,353.50 122.76,353.50 C122.99,353.50 123.23,353.50 123.46,353.50 C123.69,353.50 123.93,353.50 124.16,353.50 C124.39,353.50 124.62,353.50 124.86,353.50 C125.09,353.50 125.32,353.50 125.56,353.50 C125.79,353.50 126.02,353.50 126.26,353.50 C126.49,353.50 126.72,353.50 126.95,353.50 C127.19,353.50 127.42,353.50 127.65,353.50 C127.89,353.50 128.12,353.50 128.35,353.50 C128.59,353.50 128.82,353.50 129.05,353.50 C129.28,353.50 129.52,353.50 129.75,353.50 C129.98,353.50 130.22,353.50 130.45,353.50 C130.68,353.50 130.91,353.50 131.15,353.50 C131.38,353.50 131.61,353.50 131.85,353.50 C132.08,353.50 132.31,353.50 132.55,353.50 C132.78,353.50 133.01,353.50 133.24,353.50 C133.48,353.50 133.71,353.50 133.94,353.50 C134.18,353.50 134.41,353.50 134.64,353.50 C134.88,353.50 135.11,353.50 135.34,353.50 C135.57,353.50 135.81,353.50 136.04,353.50 C136.27,353.50 136.51,353.50 136.74,353.50 C136.97,353.50 137.20,353.50 137.44,353.50 C137.67,353.50 137.90,353.50 138.14,353.50 C138.37,353.50 138.60,353.50 138.84,353.50 C139.07,353.50 139.30,353.50 139.53,353.50 C139.77,353.50 140.00,353.50 140.23,353.50 C140.47,353.50 140.70,353.50 140.93,353.50 C141.17,353.50 141.40,353.50 141.63,353.50 C141.86,353.50 142.10,353.50 142.33,353.50 C142.56,353.50 142.80,353.50 143.03,353.50 C143.26,353.50 143.49,353.50 143.73,353.50 C143.96,353.50 144.19,353.50 144.43,353.50 C144.66,353.50 144.89,353.50 145.13,353.50 C145.36,353.50 145.59,353.50 145.82,353.50 C146.06,353.50 146.29,353.50 146.52,353.50 C146.76,353.50 146.99,353.50 147.22,353.50 C147.46,353.50 147.69,353.50 147.92,353.50 C148.15,353.50 148.39,353.50 148.62,353.50 C148.85,353.50 149.09,353.50 149.32,353.50 C149.55,353.50 149.78,353.50 150.02,353.50 C150.25,353.50 150.48,353.50 150.72,353.50 C150.95,353.50 151.18,353.50 151.42,353.50 C151.65,353.50 151.88,353.50 152.11,353.50 C152.35,353.50 152.58,353.50 152.81,353.50 C153.05,353.50 153.28,353.50 153.51,353.50 C153.75,353.50 153.98,353.50 154.21,353.50 C154.44,353.50 154.68,353.50 154.91,353.50 C155.14,353.50 155.38,353.50 155.61,353.50 C155.84,353.50 156.07,353.50 156.31,353.50 C156.54,353.50 156.77,353.50 157.01,353.50 C157.24,353.50 157.47,353.50 157.71,353.50 C157.94,353.50 158.17,353.50 158.40,353.50 C158.64,353.50 158.87,353.50 159.10,353.50 C159.34,353.50 159.57,353.50 159.80,353.50 C160.04,353.50 160.27,353.50 160.50,353.50 C160.73,353.50 161.08,353.50 161.20,353.50 L161.20,353.5 Z" fill="#9018c8" stroke="none" stroke-width="1" stroke-linejoin="round" />
<path d="M98.30,353.5 L98.30,353.50 C98.42,353.50 98.77,353.50 99.00,353.49 C99.23,353.49 99.46,353.49 99.70,353.47 C99.93,353.45 100.16,353.44 100.40,353.39 C100.63,353.34 100.86,353.30 101.10,353.16 C101.33,353.02 101.56,352.89 101.79,352.56 C102.03,352.23 102.26,351.87 102.49,351.19 C102.73,350.51 102.96,349.70 103.19,348.46 C103.43,347.23 103.66,345.71 103.89,343.79 C104.12,341.87 104.36,339.48 104.59,336.93 C104.82,334.37 105.06,331.28 105.29,328.47 C105.52,325.65 105.75,322.46 105.99,320.04 C106.22,317.61 106.45,315.24 106.69,313.91 C106.92,312.57 107.15,311.84 107.39,312.04 C107.62,312.23 107.85,313.42 108.08,315.07 C108.32,316.73 108.55,319.39 108.78,321.98 C109.02,324.57 109.25,327.81 109.48,330.62 C109.72,333.42 109.95,336.38 110.18,338.80 C110.41,341.22 110.65,343.39 110.88,345.14 C111.11,346.89 111.35,348.21 111.58,349.29 C111.81,350.37 112.04,351.05 112.28,351.63 C112.51,352.20 112.74,352.49 112.98,352.76 C113.21,353.03 113.44,353.13 113.68,353.24 C113.91,353.35 114.14,353.38 114.37,353.42 C114.61,353.46 114.84,353.47 115.07,353.48 C115.31,353.49 115.54,353.49 115.77,353.49 C116.01,353.50 116.24,353.50 116.47,353.50 C116.70,353.50 116.94,353.50 117.17,353.50 C117.40,353.50 117.64,353.50 117.87,353.50 C118.10,353.50 118.33,353.50 118.57,353.50 C118.80,353.50 119.03,353.50 119.27,353.50 C119.50,353.50 119.73,353.50 119.97,353.50 C120.20,353.50 120.43,353.50 120.66,353.50 C120.90,353.50 121.13,353.50 121.36,353.50 C121.60,353.50 121.83,353.50 122.06,353.50 C122.30,353.50 122.53,353.50 122.76,353.50 C122.99,353.50 123.23,353.50 123.46,353.50 C123.69,353.50 123.93,353.50 124.16,353.50 C124.39,353.50 124.62,353.50 124.86,353.50 C125.09,353.50 125.32,353.50 125.56,353.50 C125.79,353.50 126.02,353.50 126.26,353.50 C126.49,353.50 126.72,353.50 126.95,353.50 C127.19,353.50 127.42,353.50 127.65,353.50 C127.89,353.50 128.12,353.50 128.35,353.50 C128.59,353.50 128.82,353.50 129.05,353.50 C129.28,353.50 129.52,353.50 129.75,353.50 C129.98,353.50 130.22,353.50 130.45,353.50 C130.68,353.50 130.91,353.50 131.15,353.50 C131.38,353.50 131.61,353.50 131.85,353.50 C132.08,353.50 132.31,353.50 132.55,353.50 C132.78,353.50 133.01,353.50 133.24,353.50 C133.48,353.50 133.71,353.50 133.94,353.50 C134.18,353.50 134.41,353.50 134.64,353.50 C134.88,353.50 135.11,353.50 135.34,353.50 C135.57,353.50 135.81,353.50 136.04,353.50 C136.27,353.50 136.51,353.50 136.74,353.50 C136.97,353.50 137.20,353.50 137.44,353.50 C137.67,353.50 137.90,353.50 138.14,353.50 C138.37,353.50 138.60,353.50 138.84,353.50 C139.07,353.50 139.30,353.50 139.53,353.50 C139.77,353.50 140.00,353.50 140.23,353.50 C140.47,353.50 140.70,353.50 140.93,353.50 C141.17,353.50 141.40,353.50 141.63,353.50 C141.86,353.50 142.10,353.50 142.33,353.50 C142.56,353.50 142.80,353.50 143.03,353.50 C143.26,353.50 143.49,353.50 143.73,353.50 C143.96,353.50 144.19,353.50 144.43,353.50 C144.66,353.50 144.89,353.50 145.13,353.50 C145.36,353.50 145.59,353.50 145.82,353.50 C146.06,353.50 146.29,353.50 146.52,353.50 C146.76,353.50 146.99,353.50 147.22,353.50 C147.46,353.50 147.69,353.50 147.92,353.50 C148.15,353.50 148.39,353.50 148.62,353.50 C148.85,353.50 149.09,353.50 149.32,353.50 C149.55,353.50 149.78,353.50 150.02,353.50 C150.25,353.50 150.48,353.50 150.72,353.50 C150.95,353.50 151.18,353.50 151.42,353.50 C151.65,353.50 151.88,353.50 152.11,353.50 C152.35,353.50 152.58,353.50 152.81,353.50 C153.05,353.50 153.28,353.50 153.51,353.50 C153.75,353.50 153.98,353.50 154.21,353.50 C154.44,353.50 154.68,353.50 154.91,353.50 C155.14,353.50 155.38,353.50 155.61,353.50 C155.84,353.50 156.07,353.50 156.31,353.50 C156.54,353.50 156.77,353.50 157.01,353.50 C157.24,353.50 157.47,353.50 157.71,353.50 C157.94,353.50 158.17,353.50 158.40,353.50 C158.64,353.50 158.87,353.50 159.10,353.50 C159.34,353.50 159.57,353.50 159.80,353.50 C160.04,353.50 160.27,353.50 160.50,353.50 C160.73,353.50 161.08,353.50 161.20,353.50 L161.20,353.5 Z" fill="#c02070" stroke="none" stroke-width="1" stroke-linejoin="round" />
<path d="M98.30,353.5 L98.30,353.50 C98.42,353.50 98.77,353.50 99.00,353.50 C99.23,353.50 99.46,353.50 99.70,353.50 C99.93,353.50 100.16,353.50 100.40,353.50 C100.63,353.50 100.86,353.50 101.10,353.50 C101.33,353.50 101.56,353.50 101.79,353.50 C102.03,353.50 102.26,353.50 102.49,353.50 C102.73,353.50 102.96,353.50 103.19,353.49 C103.43,353.49 103.66,353.50 103.89,353.45 C104.12,353.40 104.36,353.44 104.59,353.18 C104.82,352.93 105.06,352.84 105.29,351.92 C105.52,351.01 105.75,350.10 105.99,347.67 C106.22,345.24 106.45,341.97 106.69,337.36 C106.92,332.75 107.15,326.00 107.39,320.03 C107.62,314.05 107.85,306.01 108.08,301.50 C108.32,297.00 108.55,293.13 108.78,293.00 C109.02,292.88 109.25,296.43 109.48,300.78 C109.72,305.13 109.95,313.11 110.18,319.09 C110.41,325.07 110.65,331.97 110.88,336.68 C111.11,341.39 111.35,344.82 111.58,347.34 C111.81,349.86 112.04,350.84 112.28,351.81 C112.51,352.78 112.74,352.88 112.98,353.15 C113.21,353.43 113.44,353.39 113.68,353.45 C113.91,353.50 114.14,353.49 114.37,353.49 C114.61,353.50 114.84,353.50 115.07,353.50 C115.31,353.50 115.54,353.50 115.77,353.50 C116.01,353.50 116.24,353.50 116.47,353.50 C116.70,353.50 116.94,353.50 117.17,353.50 C117.40,353.50 117.64,353.50 117.87,353.50 C118.10,353.50 118.33,353.50 118.57,353.50 C118.80,353.50 119.03,353.50 119.27,353.50 C119.50,353.50 119.73,353.50 119.97,353.50 C120.20,353.50 120.43,353.50 120.66,353.50 C120.90,353.50 121.13,353.50 121.36,353.50 C121.60,353.50 121.83,353.50 122.06,353.50 C122.30,353.50 122.53,353.50 122.76,353.50 C122.99,353.50 123.23,353.50 123.46,353.50 C123.69,353.50 123.93,353.50 124.16,353.50 C124.39,353.50 124.62,353.50 124.86,353.50 C125.09,353.50 125.32,353.50 125.56,353.50 C125.79,353.50 126.02,353.50 126.26,353.50 C126.49,353.50 126.72,353.50 126.95,353.50 C127.19,353.50 127.42,353.50 127.65,353.50 C127.89,353.50 128.12,353.50 128.35,353.50 C128.59,353.50 128.82,353.50 129.05,353.50 C129.28,353.50 129.52,353.50 129.75,353.50 C129.98,353.50 130.22,353.50 130.45,353.50 C130.68,353.50 130.91,353.50 131.15,353.50 C131.38,353.50 131.61,353.50 131.85,353.50 C132.08,353.50 132.31,353.50 132.55,353.50 C132.78,353.50 133.01,353.50 133.24,353.50 C133.48,353.50 133.71,353.50 133.94,353.50 C134.18,353.50 134.41,353.50 134.64,353.50 C134.88,353.50 135.11,353.50 135.34,353.50 C135.57,353.50 135.81,353.50 136.04,353.50 C136.27,353.50 136.51,353.50 136.74,353.50 C136.97,353.50 137.20,353.50 137.44,353.50 C137.67,353.50 137.90,353.50 138.14,353.50 C138.37,353.50 138.60,353.50 138.84,353.50 C139.07,353.50 139.30,353.50 139.53,353.50 C139.77,353.50 140.00,353.50 140.23,353.50 C140.47,353.50 140.70,353.50 140.93,353.50 C141.17,353.50 141.40,353.50 141.63,353.50 C141.86,353.50 142.10,353.50 142.33,353.50 C142.56,353.50 142.80,353.50 143.03,353.50 C143.26,353.50 143.49,353.50 143.73,353.50 C143.96,353.50 144.19,353.50 144.43,353.50 C144.66,353.50 144.89,353.50 145.13,353.50 C145.36,353.50 145.59,353.50 145.82,353.50 C146.06,353.50 146.29,353.50 146.52,353.50 C146.76,353.50 146.99,353.50 147.22,353.50 C147.46,353.50 147.69,353.50 147.92,353.50 C148.15,353.50 148.39,353.50 148.62,353.50 C148.85,353.50 149.09,353.50 149.32,353.50 C149.55,353.50 149.78,353.50 150.02,353.50 C150.25,353.50 150.48,353.50 150.72,353.50 C150.95,353.50 151.18,353.50 151.42,353.50 C151.65,353.50 151.88,353.50 152.11,353.50 C152.35,353.50 152.58,353.50 152.81,353.50 C153.05,353.50 153.28,353.50 153.51,353.50 C153.75,353.50 153.98,353.50 154.21,353.50 C154.44,353.50 154.68,353.50 154.91,353.50 C155.14,353.50 155.38,353.50 155.61,353.50 C155.84,353.50 156.07,353.50 156.31,353.50 C156.54,353.50 156.77,353.50 157.01,353.50 C157.24,353.50 157.47,353.50 157.71,353.50 C157.94,353.50 158.17,353.50 158.40,353.50 C158.64,353.50 158.87,353.50 159.10,353.50 C159.34,353.50 159.57,353.50 159.80,353.50 C160.04,353.50 160.27,353.50 160.50,353.50 C160.73,353.50 161.08,353.50 161.20,353.50 L161.20,353.5 Z" fill="#505050" stroke="none" stroke-width="1" stroke-linejoin="round" />
<path d="M98.30,353.50 C98.42,353.50 98.77,353.50 99.00,353.50 C99.23,353.50 99.46,353.50 99.70,353.50 C99.93,353.50 100.16,353.50 100.40,353.49 C100.63,353.49 100.86,353.49 101.10,353.48 C101.33,353.47 101.56,353.46 101.79,353.43 C102.03,353.39 102.26,353.36 102.49,353.27 C102.73,353.18 102.96,353.08 103.19,352.87 C103.43,352.65 103.66,352.41 103.89,351.97 C104.12,351.53 104.36,351.00 104.59,350.22 C104.82,349.44 105.06,348.47 105.29,347.28 C105.52,346.08 105.75,344.61 105.99,343.06 C106.22,341.51 106.45,339.65 106.69,338.00 C106.92,336.34 107.15,334.49 107.39,333.12 C107.62,331.76 107.85,330.47 108.08,329.80 C108.32,329.13 108.55,328.86 108.78,329.10 C109.02,329.35 109.25,330.19 109.48,331.27 C109.72,332.35 109.95,334.00 110.18,335.58 C110.41,337.15 110.65,339.07 110.88,340.71 C111.11,342.35 111.35,344.04 111.58,345.42 C111.81,346.80 112.04,348.19 112.28,348.98 C112.51,349.77 112.74,350.09 112.98,350.15 C113.21,350.21 113.44,349.54 113.68,349.35 C113.91,349.16 114.14,349.09 114.37,349.02 C114.61,348.96 114.84,348.96 115.07,348.95 C115.31,348.94 115.54,348.96 115.77,348.97 C116.01,348.98 116.24,349.00 116.47,349.02 C116.70,349.04 116.94,349.06 117.17,349.08 C117.40,349.10 117.64,349.11 117.87,349.13 C118.10,349.15 118.33,349.16 118.57,349.18 C118.80,349.19 119.03,349.21 119.27,349.22 C119.50,349.23 119.73,349.24 119.97,349.26 C120.20,349.27 120.43,349.28 120.66,349.29 C120.90,349.30 121.13,349.31 121.36,349.32 C121.60,349.32 121.83,349.33 122.06,349.34 C122.30,349.35 122.53,349.35 122.76,349.36 C122.99,349.37 123.23,349.37 123.46,349.38 C123.69,349.38 123.93,349.39 124.16,349.39 C124.39,349.40 124.62,349.40 124.86,349.41 C125.09,349.41 125.32,349.42 125.56,349.42 C125.79,349.42 126.02,349.43 126.26,349.43 C126.49,349.43 126.72,349.44 126.95,349.44 C127.19,349.44 127.42,349.45 127.65,349.45 C127.89,349.45 128.12,349.45 128.35,349.45 C128.59,349.46 128.82,349.46 129.05,349.46 C129.28,349.46 129.52,349.55 129.75,349.47 C129.98,349.38 130.22,349.17 130.45,348.96 C130.68,348.75 130.91,348.45 131.15,348.19 C131.38,347.94 131.61,347.69 131.85,347.45 C132.08,347.20 132.31,346.96 132.55,346.75 C132.78,346.53 133.01,346.32 133.24,346.14 C133.48,345.96 133.71,345.79 133.94,345.66 C134.18,345.53 134.41,345.42 134.64,345.34 C134.88,345.27 135.11,345.22 135.34,345.20 C135.57,345.19 135.81,345.21 136.04,345.26 C136.27,345.31 136.51,345.39 136.74,345.50 C136.97,345.60 137.20,345.74 137.44,345.90 C137.67,346.07 137.90,346.26 138.14,346.46 C138.37,346.66 138.60,346.89 138.84,347.12 C139.07,347.35 139.30,347.60 139.53,347.85 C139.77,348.10 140.00,348.36 140.23,348.61 C140.47,348.86 140.70,349.12 140.93,349.37 C141.17,349.61 141.40,349.86 141.63,350.09 C141.86,350.31 142.10,350.54 142.33,350.74 C142.56,350.95 142.80,351.15 143.03,351.33 C143.26,351.51 143.49,351.67 143.73,351.82 C143.96,351.98 144.19,352.11 144.43,352.24 C144.66,352.36 144.89,352.47 145.13,352.57 C145.36,352.67 145.59,352.75 145.82,352.83 C146.06,352.91 146.29,352.97 146.52,353.03 C146.76,353.09 146.99,353.13 147.22,353.18 C147.46,353.22 147.69,353.25 147.92,353.28 C148.15,353.31 148.39,353.34 148.62,353.36 C148.85,353.38 149.09,353.39 149.32,353.41 C149.55,353.42 149.78,353.43 150.02,353.44 C150.25,353.45 150.48,353.46 150.72,353.47 C150.95,353.47 151.18,353.48 151.42,353.48 C151.65,353.48 151.88,353.49 152.11,353.49 C152.35,353.49 152.58,353.49 152.81,353.49 C153.05,353.49 153.28,353.50 153.51,353.50 C153.75,353.50 153.98,353.50 154.21,353.50 C154.44,353.50 154.68,353.50 154.91,353.50 C155.14,353.50 155.38,353.50 155.61,353.50 C155.84,353.50 156.07,353.50 156.31,353.50 C156.54,353.50 156.77,353.50 157.01,353.50 C157.24,353.50 157.47,353.50 157.71,353.50 C157.94,353.50 158.17,353.50 158.40,353.50 C158.64,353.50 158.87,353.50 159.10,353.50 C159.34,353.50 159.57,353.50 159.80,353.50 C160.04,353.50 160.27,353.50 160.50,353.50 C160.73,353.50 161.08,353.50 161.20,353.50" fill="none" stroke="#a0e030" stroke-width="1" stroke-linejoin="round" />
<path d="M98.30,353.50 C98.42,353.50 98.77,353.50 99.00,353.50 C99.23,353.50 99.46,353.50 99.70,353.50 C99.93,353.50 100.16,353.50 100.40,353.50 C100.63,353.49 100.86,353.49 101.10,353.48 C101.33,353.47 101.56,353.46 101.79,353.43 C102.03,353.40 102.26,353.38 102.49,353.30 C102.73,353.22 102.96,353.13 103.19,352.94 C103.43,352.75 103.66,352.54 103.89,352.16 C104.12,351.77 104.36,351.31 104.59,350.62 C104.82,349.93 105.06,349.09 105.29,348.04 C105.52,346.99 105.75,345.70 105.99,344.34 C106.22,342.98 106.45,341.35 106.69,339.89 C106.92,338.44 107.15,336.82 107.39,335.62 C107.62,334.42 107.85,333.29 108.08,332.70 C108.32,332.11 108.55,331.88 108.78,332.09 C109.02,332.31 109.25,333.05 109.48,333.99 C109.72,334.94 109.95,336.39 110.18,337.77 C110.41,339.15 110.65,340.83 110.88,342.27 C111.11,343.71 111.35,345.20 111.58,346.41 C111.81,347.62 112.04,348.89 112.28,349.54 C112.51,350.18 112.74,350.29 112.98,350.29 C113.21,350.28 113.44,349.70 113.68,349.52 C113.91,349.34 114.14,349.27 114.37,349.21 C114.61,349.15 114.84,349.15 115.07,349.14 C115.31,349.14 115.54,349.15 115.77,349.17 C116.01,349.18 116.24,349.20 116.47,349.22 C116.70,349.24 116.94,349.26 117.17,349.28 C117.40,349.30 117.64,349.31 117.87,349.33 C118.10,349.35 118.33,349.36 118.57,349.38 C118.80,349.39 119.03,349.41 119.27,349.42 C119.50,349.43 119.73,349.44 119.97,349.46 C120.20,349.47 120.43,349.48 120.66,349.49 C120.90,349.50 121.13,349.51 121.36,349.52 C121.60,349.52 121.83,349.53 122.06,349.54 C122.30,349.55 122.53,349.55 122.76,349.56 C122.99,349.57 123.23,349.57 123.46,349.58 C123.69,349.58 123.93,349.59 124.16,349.59 C124.39,349.60 124.62,349.60 124.86,349.61 C125.09,349.61 125.32,349.62 125.56,349.62 C125.79,349.62 126.02,349.63 126.26,349.63 C126.49,349.63 126.72,349.64 126.95,349.64 C127.19,349.64 127.42,349.65 127.65,349.65 C127.89,349.65 128.12,349.65 128.35,349.65 C128.59,349.66 128.82,349.67 129.05,349.66 C129.28,349.65 129.52,349.72 129.75,349.59 C129.98,349.46 130.22,349.13 130.45,348.90 C130.68,348.67 130.91,348.44 131.15,348.22 C131.38,348.00 131.61,347.77 131.85,347.57 C132.08,347.37 132.31,347.17 132.55,347.00 C132.78,346.82 133.01,346.66 133.24,346.53 C133.48,346.39 133.71,346.28 133.94,346.20 C134.18,346.11 134.41,346.05 134.64,346.02 C134.88,345.99 135.11,345.99 135.34,346.02 C135.57,346.05 135.81,346.11 136.04,346.19 C136.27,346.27 136.51,346.38 136.74,346.52 C136.97,346.65 137.20,346.81 137.44,346.98 C137.67,347.16 137.90,347.35 138.14,347.56 C138.37,347.76 138.60,347.98 138.84,348.20 C139.07,348.42 139.30,348.66 139.53,348.89 C139.77,349.11 140.00,349.35 140.23,349.57 C140.47,349.80 140.70,350.02 140.93,350.23 C141.17,350.45 141.40,350.65 141.63,350.85 C141.86,351.04 142.10,351.22 142.33,351.39 C142.56,351.56 142.80,351.72 143.03,351.86 C143.26,352.01 143.49,352.14 143.73,352.26 C143.96,352.38 144.19,352.49 144.43,352.58 C144.66,352.68 144.89,352.76 145.13,352.83 C145.36,352.91 145.59,352.97 145.82,353.03 C146.06,353.09 146.29,353.13 146.52,353.17 C146.76,353.22 146.99,353.25 147.22,353.28 C147.46,353.31 147.69,353.33 147.92,353.35 C148.15,353.38 148.39,353.39 148.62,353.41 C148.85,353.42 149.09,353.43 149.32,353.44 C149.55,353.45 149.78,353.46 150.02,353.46 C150.25,353.47 150.48,353.47 150.72,353.48 C150.95,353.48 151.18,353.48 151.42,353.49 C151.65,353.49 151.88,353.49 152.11,353.49 C152.35,353.49 152.58,353.49 152.81,353.50 C153.05,353.50 153.28,353.50 153.51,353.50 C153.75,353.50 153.98,353.50 154.21,353.50 C154.44,353.50 154.68,353.50 154.91,353.50 C155.14,353.50 155.38,353.50 155.61,353.50 C155.84,353.50 156.07,353.50 156.31,353.50 C156.54,353.50 156.77,353.50 157.01,353.50 C157.24,353.50 157.47,353.50 157.71,353.50 C157.94,353.50 158.17,353.50 158.40,353.50 C158.64,353.50 158.87,353.50 159.10,353.50 C159.34,353.50 159.57,353.50 159.80,353.50 C160.04,353.50 160.27,353.50 160.50,353.50 C160.73,353.50 161.08,353.50 161.20,353.50" fill="none" stroke="#e0d040" stroke-width="0.8" stroke-linejoin="round" />
<path d="M98.30,353.50 C98.42,353.50 98.77,353.50 99.00,353.50 C99.23,353.50 99.46,353.50 99.70,353.50 C99.93,353.50 100.16,353.50 100.40,353.50 C100.63,353.49 100.86,353.49 101.10,353.48 C101.33,353.48 101.56,353.47 101.79,353.44 C102.03,353.42 102.26,353.40 102.49,353.33 C102.73,353.25 102.96,353.19 103.19,353.02 C103.43,352.86 103.66,352.68 103.89,352.34 C104.12,352.01 104.36,351.61 104.59,351.02 C104.82,350.43 105.06,349.70 105.29,348.80 C105.52,347.90 105.75,346.78 105.99,345.62 C106.22,344.45 106.45,343.04 106.69,341.79 C106.92,340.54 107.15,339.15 107.39,338.11 C107.62,337.08 107.85,336.11 108.08,335.60 C108.32,335.10 108.55,334.89 108.78,335.08 C109.02,335.26 109.25,335.90 109.48,336.72 C109.72,337.53 109.95,338.78 110.18,339.96 C110.41,341.15 110.65,342.60 110.88,343.84 C111.11,345.08 111.35,346.36 111.58,347.40 C111.81,348.44 112.04,349.66 112.28,350.09 C112.51,350.51 112.74,350.12 112.98,349.95 C113.21,349.78 113.44,349.30 113.68,349.10 C113.91,348.90 114.14,348.81 114.37,348.74 C114.61,348.67 114.84,348.66 115.07,348.65 C115.31,348.64 115.54,348.66 115.77,348.67 C116.01,348.68 116.24,348.70 116.47,348.72 C116.70,348.74 116.94,348.76 117.17,348.78 C117.40,348.80 117.64,348.81 117.87,348.83 C118.10,348.85 118.33,348.86 118.57,348.88 C118.80,348.89 119.03,348.91 119.27,348.92 C119.50,348.93 119.73,348.94 119.97,348.96 C120.20,348.97 120.43,348.98 120.66,348.99 C120.90,349.00 121.13,349.01 121.36,349.02 C121.60,349.02 121.83,349.03 122.06,349.04 C122.30,349.05 122.53,349.05 122.76,349.06 C122.99,349.07 123.23,349.07 123.46,349.08 C123.69,349.08 123.93,349.09 124.16,349.09 C124.39,349.10 124.62,349.10 124.86,349.11 C125.09,349.11 125.32,349.12 125.56,349.12 C125.79,349.12 126.02,349.13 126.26,349.13 C126.49,349.13 126.72,349.14 126.95,349.14 C127.19,349.14 127.42,349.15 127.65,349.15 C127.89,349.15 128.12,349.15 128.35,349.15 C128.59,349.16 128.82,349.16 129.05,349.16 C129.28,349.16 129.52,349.20 129.75,349.17 C129.98,349.14 130.22,349.12 130.45,348.98 C130.68,348.85 130.91,348.54 131.15,348.34 C131.38,348.13 131.61,347.93 131.85,347.75 C132.08,347.57 132.31,347.39 132.55,347.25 C132.78,347.10 133.01,346.97 133.24,346.88 C133.48,346.78 133.71,346.70 133.94,346.66 C134.18,346.61 134.41,346.59 134.64,346.60 C134.88,346.62 135.11,346.66 135.34,346.72 C135.57,346.79 135.81,346.89 136.04,347.01 C136.27,347.13 136.51,347.28 136.74,347.44 C136.97,347.60 137.20,347.79 137.44,347.98 C137.67,348.17 137.90,348.38 138.14,348.60 C138.37,348.81 138.60,349.07 138.84,349.25 C139.07,349.44 139.30,349.59 139.53,349.72 C139.77,349.85 140.00,349.91 140.23,350.04 C140.47,350.16 140.70,350.32 140.93,350.48 C141.17,350.65 141.40,350.84 141.63,351.03 C141.86,351.22 142.10,351.44 142.33,351.63 C142.56,351.82 142.80,352.02 143.03,352.19 C143.26,352.35 143.49,352.51 143.73,352.64 C143.96,352.77 144.19,352.88 144.43,352.96 C144.66,353.04 144.89,353.08 145.13,353.13 C145.36,353.17 145.59,353.21 145.82,353.25 C146.06,353.28 146.29,353.31 146.52,353.34 C146.76,353.36 146.99,353.38 147.22,353.39 C147.46,353.41 147.69,353.42 147.92,353.43 C148.15,353.45 148.39,353.45 148.62,353.46 C148.85,353.47 149.09,353.47 149.32,353.48 C149.55,353.48 149.78,353.48 150.02,353.49 C150.25,353.49 150.48,353.49 150.72,353.49 C150.95,353.49 151.18,353.49 151.42,353.50 C151.65,353.50 151.88,353.50 152.11,353.50 C152.35,353.50 152.58,353.50 152.81,353.50 C153.05,353.50 153.28,353.50 153.51,353.50 C153.75,353.50 153.98,353.50 154.21,353.50 C154.44,353.50 154.68,353.50 154.91,353.50 C155.14,353.50 155.38,353.50 155.61,353.50 C155.84,353.50 156.07,353.50 156.31,353.50 C156.54,353.50 156.77,353.50 157.01,353.50 C157.24,353.50 157.47,353.50 157.71,353.50 C157.94,353.50 158.17,353.50 158.40,353.50 C158.64,353.50 158.87,353.50 159.10,353.50 C159.34,353.50 159.57,353.50 159.80,353.50 C160.04,353.50 160.27,353.50 160.50,353.50 C160.73,353.50 161.08,353.50 161.20,353.50" fill="none" stroke="#2020c0" stroke-width="1.1" stroke-linejoin="round" />
<path d="M98.30,353.49 C98.42,353.49 98.77,353.48 99.00,353.47 C99.23,353.45 99.46,353.44 99.70,353.41 C99.93,353.37 100.16,353.34 100.40,353.25 C100.63,353.16 100.86,353.07 101.10,352.88 C101.33,352.69 101.56,352.48 101.79,352.09 C102.03,351.71 102.26,351.27 102.49,350.57 C102.73,349.87 102.96,349.04 103.19,347.89 C103.43,346.73 103.66,345.35 103.89,343.62 C104.12,341.90 104.36,339.84 104.59,337.53 C104.82,335.22 105.06,332.51 105.29,329.78 C105.52,327.05 105.75,323.94 105.99,321.13 C106.22,318.32 106.45,315.32 106.69,312.92 C106.92,310.53 107.15,308.25 107.39,306.77 C107.62,305.29 107.85,304.28 108.08,304.06 C108.32,303.84 108.55,304.35 108.78,305.44 C109.02,306.53 109.25,308.44 109.48,310.58 C109.72,312.73 109.95,315.56 110.18,318.29 C110.41,321.02 110.65,324.16 110.88,326.96 C111.11,329.77 111.35,332.65 111.58,335.13 C111.81,337.60 112.04,339.89 112.28,341.81 C112.51,343.74 112.74,345.50 112.98,346.67 C113.21,347.84 113.44,348.54 113.68,348.84 C113.91,349.14 114.14,348.54 114.37,348.46 C114.61,348.38 114.84,348.37 115.07,348.36 C115.31,348.35 115.54,348.36 115.77,348.37 C116.01,348.38 116.24,348.41 116.47,348.42 C116.70,348.44 116.94,348.46 117.17,348.48 C117.40,348.50 117.64,348.51 117.87,348.53 C118.10,348.55 118.33,348.56 118.57,348.58 C118.80,348.59 119.03,348.61 119.27,348.62 C119.50,348.63 119.73,348.64 119.97,348.66 C120.20,348.67 120.43,348.68 120.66,348.69 C120.90,348.70 121.13,348.71 121.36,348.72 C121.60,348.72 121.83,348.73 122.06,348.74 C122.30,348.75 122.53,348.75 122.76,348.76 C122.99,348.77 123.23,348.77 123.46,348.78 C123.69,348.78 123.93,348.79 124.16,348.79 C124.39,348.80 124.62,348.80 124.86,348.81 C125.09,348.81 125.32,348.82 125.56,348.82 C125.79,348.82 126.02,348.83 126.26,348.83 C126.49,348.83 126.72,348.84 126.95,348.84 C127.19,348.84 127.42,348.85 127.65,348.85 C127.89,348.85 128.12,348.85 128.35,348.85 C128.59,348.86 128.82,348.86 129.05,348.86 C129.28,348.86 129.52,348.86 129.75,348.87 C129.98,348.87 130.22,348.91 130.45,348.87 C130.68,348.83 130.91,348.75 131.15,348.64 C131.38,348.52 131.61,348.31 131.85,348.18 C132.08,348.04 132.31,347.92 132.55,347.82 C132.78,347.72 133.01,347.64 133.24,347.59 C133.48,347.53 133.71,347.50 133.94,347.50 C134.18,347.50 134.41,347.52 134.64,347.56 C134.88,347.61 135.11,347.68 135.34,347.77 C135.57,347.86 135.81,347.98 136.04,348.11 C136.27,348.24 136.51,348.41 136.74,348.56 C136.97,348.71 137.20,348.92 137.44,349.01 C137.67,349.10 137.90,349.06 138.14,349.09 C138.37,349.13 138.60,349.17 138.84,349.23 C139.07,349.29 139.30,349.36 139.53,349.46 C139.77,349.55 140.00,349.66 140.23,349.80 C140.47,349.93 140.70,350.09 140.93,350.27 C141.17,350.45 141.40,350.66 141.63,350.86 C141.86,351.07 142.10,351.29 142.33,351.50 C142.56,351.71 142.80,351.92 143.03,352.10 C143.26,352.28 143.49,352.44 143.73,352.58 C143.96,352.71 144.19,352.83 144.43,352.92 C144.66,353.02 144.89,353.09 145.13,353.15 C145.36,353.21 145.59,353.26 145.82,353.29 C146.06,353.33 146.29,353.36 146.52,353.38 C146.76,353.40 146.99,353.42 147.22,353.43 C147.46,353.44 147.69,353.45 147.92,353.46 C148.15,353.47 148.39,353.47 148.62,353.48 C148.85,353.48 149.09,353.48 149.32,353.49 C149.55,353.49 149.78,353.49 150.02,353.49 C150.25,353.49 150.48,353.49 150.72,353.50 C150.95,353.50 151.18,353.50 151.42,353.50 C151.65,353.50 151.88,353.50 152.11,353.50 C152.35,353.50 152.58,353.50 152.81,353.50 C153.05,353.50 153.28,353.50 153.51,353.50 C153.75,353.50 153.98,353.50 154.21,353.50 C154.44,353.50 154.68,353.50 154.91,353.50 C155.14,353.50 155.38,353.50 155.61,353.50 C155.84,353.50 156.07,353.50 156.31,353.50 C156.54,353.50 156.77,353.50 157.01,353.50 C157.24,353.50 157.47,353.50 157.71,353.50 C157.94,353.50 158.17,353.50 158.40,353.50 C158.64,353.50 158.87,353.50 159.10,353.50 C159.34,353.50 159.57,353.50 159.80,353.50 C160.04,353.50 160.27,353.50 160.50,353.50 C160.73,353.50 161.08,353.50 161.20,353.50" fill="none" stroke="#9018c8" stroke-width="1.4" stroke-linejoin="round" />
<path d="M167.70,353.5 L167.70,353.50 C167.82,353.50 168.17,353.50 168.40,353.50 C168.63,353.50 168.86,353.50 169.10,353.49 C169.33,353.49 169.56,353.49 169.80,353.47 C170.03,353.45 170.26,353.44 170.50,353.39 C170.73,353.33 170.96,353.29 171.19,353.15 C171.43,353.00 171.66,352.86 171.89,352.52 C172.13,352.18 172.36,351.80 172.59,351.13 C172.83,350.46 173.06,349.64 173.29,348.50 C173.52,347.36 173.76,345.93 173.99,344.29 C174.22,342.65 174.46,340.61 174.69,338.67 C174.92,336.72 175.15,334.44 175.39,332.64 C175.62,330.84 175.85,328.98 176.09,327.87 C176.32,326.77 176.55,326.02 176.79,326.00 C177.02,325.98 177.25,326.66 177.48,327.73 C177.72,328.79 177.95,330.62 178.18,332.40 C178.42,334.18 178.65,336.47 178.88,338.42 C179.12,340.36 179.35,342.42 179.58,344.08 C179.81,345.74 180.05,347.20 180.28,348.36 C180.51,349.52 180.75,350.36 180.98,351.05 C181.21,351.74 181.44,352.13 181.68,352.48 C181.91,352.83 182.14,352.98 182.38,353.13 C182.61,353.28 182.84,353.33 183.08,353.38 C183.31,353.44 183.54,353.45 183.77,353.47 C184.01,353.49 184.24,353.49 184.47,353.49 C184.71,353.50 184.94,353.50 185.17,353.50 C185.41,353.50 185.64,353.50 185.87,353.50 C186.10,353.50 186.34,353.50 186.57,353.50 C186.80,353.50 187.04,353.50 187.27,353.50 C187.50,353.50 187.73,353.50 187.97,353.50 C188.20,353.50 188.43,353.50 188.67,353.50 C188.90,353.50 189.13,353.50 189.37,353.50 C189.60,353.50 189.83,353.50 190.06,353.50 C190.30,353.50 190.53,353.50 190.76,353.50 C191.00,353.50 191.23,353.50 191.46,353.50 C191.70,353.50 191.93,353.50 192.16,353.50 C192.39,353.50 192.63,353.50 192.86,353.50 C193.09,353.50 193.33,353.50 193.56,353.50 C193.79,353.50 194.02,353.50 194.26,353.50 C194.49,353.50 194.72,353.50 194.96,353.50 C195.19,353.50 195.42,353.50 195.66,353.50 C195.89,353.50 196.12,353.50 196.35,353.50 C196.59,353.50 196.82,353.50 197.05,353.50 C197.29,353.50 197.52,353.50 197.75,353.50 C197.99,353.50 198.22,353.50 198.45,353.50 C198.68,353.50 198.92,353.50 199.15,353.50 C199.38,353.50 199.62,353.50 199.85,353.50 C200.08,353.50 200.31,353.50 200.55,353.50 C200.78,353.50 201.01,353.50 201.25,353.50 C201.48,353.50 201.71,353.50 201.95,353.50 C202.18,353.50 202.41,353.50 202.64,353.50 C202.88,353.50 203.11,353.50 203.34,353.50 C203.58,353.50 203.81,353.50 204.04,353.50 C204.28,353.50 204.51,353.50 204.74,353.50 C204.97,353.50 205.21,353.50 205.44,353.50 C205.67,353.50 205.91,353.50 206.14,353.50 C206.37,353.50 206.60,353.50 206.84,353.50 C207.07,353.50 207.30,353.50 207.54,353.50 C207.77,353.50 208.00,353.50 208.24,353.50 C208.47,353.50 208.70,353.50 208.93,353.50 C209.17,353.50 209.40,353.50 209.63,353.50 C209.87,353.50 210.10,353.50 210.33,353.50 C210.57,353.50 210.80,353.50 211.03,353.50 C211.26,353.50 211.50,353.50 211.73,353.50 C211.96,353.50 212.20,353.50 212.43,353.50 C212.66,353.50 212.89,353.50 213.13,353.50 C213.36,353.50 213.59,353.50 213.83,353.50 C214.06,353.50 214.29,353.50 214.53,353.50 C214.76,353.50 214.99,353.50 215.22,353.50 C215.46,353.50 215.69,353.50 215.92,353.50 C216.16,353.50 216.39,353.50 216.62,353.50 C216.86,353.50 217.09,353.50 217.32,353.50 C217.55,353.50 217.79,353.50 218.02,353.50 C218.25,353.50 218.49,353.50 218.72,353.50 C218.95,353.50 219.18,353.50 219.42,353.50 C219.65,353.50 219.88,353.50 220.12,353.50 C220.35,353.50 220.58,353.50 220.82,353.50 C221.05,353.50 221.28,353.50 221.51,353.50 C221.75,353.50 221.98,353.50 222.21,353.50 C222.45,353.50 222.68,353.50 222.91,353.50 C223.15,353.50 223.38,353.50 223.61,353.50 C223.84,353.50 224.08,353.50 224.31,353.50 C224.54,353.50 224.78,353.50 225.01,353.50 C225.24,353.50 225.47,353.50 225.71,353.50 C225.94,353.50 226.17,353.50 226.41,353.50 C226.64,353.50 226.87,353.50 227.11,353.50 C227.34,353.50 227.57,353.50 227.80,353.50 C228.04,353.50 228.27,353.50 228.50,353.50 C228.74,353.50 228.97,353.50 229.20,353.50 C229.44,353.50 229.67,353.50 229.90,353.50 C230.13,353.50 230.48,353.50 230.60,353.50 L230.60,353.5 Z" fill="#6a6a58" stroke="none" stroke-width="1" stroke-linejoin="round" />
<path d="M167.70,353.5 L167.70,353.50 C167.82,353.50 168.17,353.50 168.40,353.50 C168.63,353.50 168.86,353.50 169.10,353.50 C169.33,353.50 169.56,353.50 169.80,353.50 C170.03,353.50 170.26,353.50 170.50,353.50 C170.73,353.49 170.96,353.49 171.19,353.49 C171.43,353.48 171.66,353.48 171.89,353.46 C172.13,353.45 172.36,353.43 172.59,353.40 C172.83,353.36 173.06,353.32 173.29,353.23 C173.52,353.14 173.76,353.04 173.99,352.84 C174.22,352.65 174.46,352.43 174.69,352.04 C174.92,351.65 175.15,351.21 175.39,350.49 C175.62,349.78 175.85,348.95 176.09,347.77 C176.32,346.59 176.55,345.20 176.79,343.41 C177.02,341.63 177.25,339.51 177.48,337.07 C177.72,334.62 177.95,331.75 178.18,328.74 C178.42,325.73 178.65,322.28 178.88,318.99 C179.12,315.71 179.35,312.11 179.58,309.03 C179.81,305.95 180.05,302.83 180.28,300.50 C180.51,298.18 180.75,296.17 180.98,295.08 C181.21,293.99 181.44,293.57 181.68,293.95 C181.91,294.33 182.14,295.59 182.38,297.36 C182.61,299.13 182.84,301.77 183.08,304.55 C183.31,307.33 183.54,310.78 183.77,314.03 C184.01,317.28 184.24,320.87 184.47,324.07 C184.71,327.26 184.94,330.45 185.17,333.20 C185.41,335.95 185.64,338.44 185.87,340.55 C186.10,342.66 186.34,344.40 186.57,345.86 C186.80,347.33 187.04,348.41 187.27,349.33 C187.50,350.26 187.73,350.87 187.97,351.40 C188.20,351.93 188.43,352.24 188.67,352.52 C188.90,352.80 189.13,352.94 189.37,353.08 C189.60,353.21 189.83,353.27 190.06,353.33 C190.30,353.39 190.53,353.41 190.76,353.44 C191.00,353.46 191.23,353.47 191.46,353.48 C191.70,353.49 191.93,353.49 192.16,353.49 C192.39,353.50 192.63,353.50 192.86,353.50 C193.09,353.50 193.33,353.50 193.56,353.50 C193.79,353.50 194.02,353.50 194.26,353.50 C194.49,353.50 194.72,353.50 194.96,353.50 C195.19,353.50 195.42,353.50 195.66,353.50 C195.89,353.50 196.12,353.50 196.35,353.50 C196.59,353.50 196.82,353.50 197.05,353.50 C197.29,353.50 197.52,353.50 197.75,353.50 C197.99,353.50 198.22,353.50 198.45,353.50 C198.68,353.50 198.92,353.50 199.15,353.50 C199.38,353.50 199.62,353.50 199.85,353.50 C200.08,353.50 200.31,353.50 200.55,353.50 C200.78,353.50 201.01,353.50 201.25,353.50 C201.48,353.50 201.71,353.50 201.95,353.50 C202.18,353.50 202.41,353.50 202.64,353.50 C202.88,353.50 203.11,353.50 203.34,353.50 C203.58,353.50 203.81,353.50 204.04,353.50 C204.28,353.50 204.51,353.50 204.74,353.50 C204.97,353.50 205.21,353.50 205.44,353.50 C205.67,353.50 205.91,353.50 206.14,353.50 C206.37,353.50 206.60,353.50 206.84,353.50 C207.07,353.50 207.30,353.50 207.54,353.50 C207.77,353.50 208.00,353.50 208.24,353.50 C208.47,353.50 208.70,353.50 208.93,353.50 C209.17,353.50 209.40,353.50 209.63,353.50 C209.87,353.50 210.10,353.50 210.33,353.50 C210.57,353.50 210.80,353.50 211.03,353.50 C211.26,353.50 211.50,353.50 211.73,353.50 C211.96,353.50 212.20,353.50 212.43,353.50 C212.66,353.50 212.89,353.50 213.13,353.50 C213.36,353.50 213.59,353.50 213.83,353.50 C214.06,353.50 214.29,353.50 214.53,353.50 C214.76,353.50 214.99,353.50 215.22,353.50 C215.46,353.50 215.69,353.50 215.92,353.50 C216.16,353.50 216.39,353.50 216.62,353.50 C216.86,353.50 217.09,353.50 217.32,353.50 C217.55,353.50 217.79,353.50 218.02,353.50 C218.25,353.50 218.49,353.50 218.72,353.50 C218.95,353.50 219.18,353.50 219.42,353.50 C219.65,353.50 219.88,353.50 220.12,353.50 C220.35,353.50 220.58,353.50 220.82,353.50 C221.05,353.50 221.28,353.50 221.51,353.50 C221.75,353.50 221.98,353.50 222.21,353.50 C222.45,353.50 222.68,353.50 222.91,353.50 C223.15,353.50 223.38,353.50 223.61,353.50 C223.84,353.50 224.08,353.50 224.31,353.50 C224.54,353.50 224.78,353.50 225.01,353.50 C225.24,353.50 225.47,353.50 225.71,353.50 C225.94,353.50 226.17,353.50 226.41,353.50 C226.64,353.50 226.87,353.50 227.11,353.50 C227.34,353.50 227.57,353.50 227.80,353.50 C228.04,353.50 228.27,353.50 228.50,353.50 C228.74,353.50 228.97,353.50 229.20,353.50 C229.44,353.50 229.67,353.50 229.90,353.50 C230.13,353.50 230.48,353.50 230.60,353.50 L230.60,353.5 Z" fill="#8a18d8" stroke="none" stroke-width="1" stroke-linejoin="round" />
<path d="M167.70,353.5 L167.70,353.50 C167.82,353.50 168.17,353.50 168.40,353.50 C168.63,353.50 168.86,353.50 169.10,353.50 C169.33,353.50 169.56,353.50 169.80,353.50 C170.03,353.50 170.26,353.50 170.50,353.50 C170.73,353.50 170.96,353.50 171.19,353.50 C171.43,353.50 171.66,353.50 171.89,353.50 C172.13,353.50 172.36,353.50 172.59,353.50 C172.83,353.50 173.06,353.50 173.29,353.50 C173.52,353.50 173.76,353.50 173.99,353.50 C174.22,353.49 174.46,353.50 174.69,353.48 C174.92,353.47 175.15,353.47 175.39,353.41 C175.62,353.35 175.85,353.33 176.09,353.13 C176.32,352.93 176.55,352.76 176.79,352.21 C177.02,351.65 177.25,351.04 177.48,349.79 C177.72,348.53 177.95,346.95 178.18,344.69 C178.42,342.43 178.65,339.42 178.88,336.22 C179.12,333.02 179.35,328.86 179.58,325.49 C179.81,322.12 180.05,318.24 180.28,316.00 C180.51,313.75 180.75,312.08 180.98,312.00 C181.21,311.93 181.44,313.42 181.68,315.56 C181.91,317.70 182.14,321.50 182.38,324.84 C182.61,328.18 182.84,332.37 183.08,335.61 C183.31,338.85 183.54,341.95 183.77,344.27 C184.01,346.60 184.24,348.26 184.47,349.57 C184.71,350.87 184.94,351.53 185.17,352.11 C185.41,352.70 185.64,352.88 185.87,353.10 C186.10,353.31 186.34,353.34 186.57,353.40 C186.80,353.47 187.04,353.47 187.27,353.48 C187.50,353.50 187.73,353.49 187.97,353.50 C188.20,353.50 188.43,353.50 188.67,353.50 C188.90,353.50 189.13,353.50 189.37,353.50 C189.60,353.50 189.83,353.50 190.06,353.50 C190.30,353.50 190.53,353.50 190.76,353.50 C191.00,353.50 191.23,353.50 191.46,353.50 C191.70,353.50 191.93,353.50 192.16,353.50 C192.39,353.50 192.63,353.50 192.86,353.50 C193.09,353.50 193.33,353.50 193.56,353.50 C193.79,353.50 194.02,353.50 194.26,353.50 C194.49,353.50 194.72,353.50 194.96,353.50 C195.19,353.50 195.42,353.50 195.66,353.50 C195.89,353.50 196.12,353.50 196.35,353.50 C196.59,353.50 196.82,353.50 197.05,353.50 C197.29,353.50 197.52,353.50 197.75,353.50 C197.99,353.50 198.22,353.50 198.45,353.50 C198.68,353.50 198.92,353.50 199.15,353.50 C199.38,353.50 199.62,353.50 199.85,353.50 C200.08,353.50 200.31,353.50 200.55,353.50 C200.78,353.50 201.01,353.50 201.25,353.50 C201.48,353.50 201.71,353.50 201.95,353.50 C202.18,353.50 202.41,353.50 202.64,353.50 C202.88,353.50 203.11,353.50 203.34,353.50 C203.58,353.50 203.81,353.50 204.04,353.50 C204.28,353.50 204.51,353.50 204.74,353.50 C204.97,353.50 205.21,353.50 205.44,353.50 C205.67,353.50 205.91,353.50 206.14,353.50 C206.37,353.50 206.60,353.50 206.84,353.50 C207.07,353.50 207.30,353.50 207.54,353.50 C207.77,353.50 208.00,353.50 208.24,353.50 C208.47,353.50 208.70,353.50 208.93,353.50 C209.17,353.50 209.40,353.50 209.63,353.50 C209.87,353.50 210.10,353.50 210.33,353.50 C210.57,353.50 210.80,353.50 211.03,353.50 C211.26,353.50 211.50,353.50 211.73,353.50 C211.96,353.50 212.20,353.50 212.43,353.50 C212.66,353.50 212.89,353.50 213.13,353.50 C213.36,353.50 213.59,353.50 213.83,353.50 C214.06,353.50 214.29,353.50 214.53,353.50 C214.76,353.50 214.99,353.50 215.22,353.50 C215.46,353.50 215.69,353.50 215.92,353.50 C216.16,353.50 216.39,353.50 216.62,353.50 C216.86,353.50 217.09,353.50 217.32,353.50 C217.55,353.50 217.79,353.50 218.02,353.50 C218.25,353.50 218.49,353.50 218.72,353.50 C218.95,353.50 219.18,353.50 219.42,353.50 C219.65,353.50 219.88,353.50 220.12,353.50 C220.35,353.50 220.58,353.50 220.82,353.50 C221.05,353.50 221.28,353.50 221.51,353.50 C221.75,353.50 221.98,353.50 222.21,353.50 C222.45,353.50 222.68,353.50 222.91,353.50 C223.15,353.50 223.38,353.50 223.61,353.50 C223.84,353.50 224.08,353.50 224.31,353.50 C224.54,353.50 224.78,353.50 225.01,353.50 C225.24,353.50 225.47,353.50 225.71,353.50 C225.94,353.50 226.17,353.50 226.41,353.50 C226.64,353.50 226.87,353.50 227.11,353.50 C227.34,353.50 227.57,353.50 227.80,353.50 C228.04,353.50 228.27,353.50 228.50,353.50 C228.74,353.50 228.97,353.50 229.20,353.50 C229.44,353.50 229.67,353.50 229.90,353.50 C230.13,353.50 230.48,353.50 230.60,353.50 L230.60,353.5 Z" fill="#48404a" stroke="none" stroke-width="1" stroke-linejoin="round" />
<path d="M167.70,353.50 C167.82,353.50 168.17,353.50 168.40,353.50 C168.63,353.50 168.86,353.50 169.10,353.50 C169.33,353.50 169.56,353.50 169.80,353.49 C170.03,353.49 170.26,353.49 170.50,353.47 C170.73,353.46 170.96,353.45 171.19,353.39 C171.43,353.33 171.66,353.29 171.89,353.13 C172.13,352.97 172.36,352.81 172.59,352.42 C172.83,352.04 173.06,351.59 173.29,350.80 C173.52,350.01 173.76,349.03 173.99,347.69 C174.22,346.34 174.46,344.62 174.69,342.73 C174.92,340.84 175.15,338.46 175.39,336.33 C175.62,334.20 175.85,331.73 176.09,329.96 C176.32,328.20 176.55,326.51 176.79,325.75 C177.02,324.98 177.25,324.82 177.48,325.35 C177.72,325.89 177.95,327.33 178.18,328.95 C178.42,330.57 178.65,332.97 178.88,335.08 C179.12,337.20 179.35,339.65 179.58,341.62 C179.81,343.59 180.05,345.45 180.28,346.91 C180.51,348.36 180.75,349.47 180.98,350.35 C181.21,351.24 181.44,351.76 181.68,352.21 C181.91,352.66 182.14,352.85 182.38,353.04 C182.61,353.24 182.84,353.29 183.08,353.36 C183.31,353.43 183.54,353.48 183.77,353.46 C184.01,353.45 184.24,353.38 184.47,353.29 C184.71,353.20 184.94,353.13 185.17,352.95 C185.41,352.77 185.64,352.52 185.87,352.21 C186.10,351.90 186.34,351.45 186.57,351.08 C186.80,350.71 187.04,350.29 187.27,350.00 C187.50,349.72 187.73,349.51 187.97,349.36 C188.20,349.20 188.43,349.14 188.67,349.07 C188.90,349.01 189.13,348.99 189.37,348.96 C189.60,348.94 189.83,348.93 190.06,348.92 C190.30,348.91 190.53,348.91 190.76,348.91 C191.00,348.90 191.23,348.90 191.46,348.90 C191.70,348.90 191.93,348.90 192.16,348.90 C192.39,348.90 192.63,348.90 192.86,348.90 C193.09,348.90 193.33,348.90 193.56,348.90 C193.79,348.90 194.02,348.90 194.26,348.90 C194.49,348.90 194.72,348.90 194.96,348.90 C195.19,348.90 195.42,348.90 195.66,348.90 C195.89,348.90 196.12,348.90 196.35,348.90 C196.59,348.90 196.82,348.90 197.05,348.90 C197.29,348.90 197.52,348.90 197.75,348.90 C197.99,348.90 198.22,348.90 198.45,348.90 C198.68,348.90 198.92,348.90 199.15,348.90 C199.38,348.90 199.62,348.91 199.85,348.90 C200.08,348.89 200.31,348.97 200.55,348.84 C200.78,348.71 201.01,348.36 201.25,348.13 C201.48,347.90 201.71,347.67 201.95,347.46 C202.18,347.25 202.41,347.05 202.64,346.87 C202.88,346.70 203.11,346.53 203.34,346.40 C203.58,346.26 203.81,346.15 204.04,346.07 C204.28,345.99 204.51,345.93 204.74,345.91 C204.97,345.89 205.21,345.90 205.44,345.94 C205.67,345.97 205.91,346.04 206.14,346.14 C206.37,346.23 206.60,346.36 206.84,346.51 C207.07,346.65 207.30,346.83 207.54,347.02 C207.77,347.20 208.00,347.41 208.24,347.63 C208.47,347.85 208.70,348.08 208.93,348.31 C209.17,348.55 209.40,348.79 209.63,349.03 C209.87,349.26 210.10,349.51 210.33,349.73 C210.57,349.95 210.80,350.15 211.03,350.35 C211.26,350.55 211.50,350.75 211.73,350.95 C211.96,351.15 212.20,351.38 212.43,351.55 C212.66,351.73 212.89,351.87 213.13,352.01 C213.36,352.15 213.59,352.28 213.83,352.39 C214.06,352.50 214.29,352.60 214.53,352.69 C214.76,352.78 214.99,352.86 215.22,352.92 C215.46,352.99 215.69,353.05 215.92,353.10 C216.16,353.15 216.39,353.19 216.62,353.23 C216.86,353.27 217.09,353.30 217.32,353.32 C217.55,353.35 217.79,353.37 218.02,353.38 C218.25,353.40 218.49,353.42 218.72,353.43 C218.95,353.44 219.18,353.45 219.42,353.46 C219.65,353.46 219.88,353.47 220.12,353.47 C220.35,353.48 220.58,353.48 220.82,353.48 C221.05,353.49 221.28,353.49 221.51,353.49 C221.75,353.49 221.98,353.49 222.21,353.49 C222.45,353.50 222.68,353.50 222.91,353.50 C223.15,353.50 223.38,353.50 223.61,353.50 C223.84,353.50 224.08,353.50 224.31,353.50 C224.54,353.50 224.78,353.50 225.01,353.50 C225.24,353.50 225.47,353.50 225.71,353.50 C225.94,353.50 226.17,353.50 226.41,353.50 C226.64,353.50 226.87,353.50 227.11,353.50 C227.34,353.50 227.57,353.50 227.80,353.50 C228.04,353.50 228.27,353.50 228.50,353.50 C228.74,353.50 228.97,353.50 229.20,353.50 C229.44,353.50 229.67,353.50 229.90,353.50 C230.13,353.50 230.48,353.50 230.60,353.50" fill="none" stroke="#b0d030" stroke-width="1" stroke-linejoin="round" />
<path d="M167.70,353.50 C167.82,353.50 168.17,353.50 168.40,353.50 C168.63,353.50 168.86,353.50 169.10,353.50 C169.33,353.50 169.56,353.50 169.80,353.49 C170.03,353.48 170.26,353.48 170.50,353.45 C170.73,353.42 170.96,353.41 171.19,353.31 C171.43,353.20 171.66,353.12 171.89,352.84 C172.13,352.56 172.36,352.26 172.59,351.61 C172.83,350.95 173.06,350.16 173.29,348.91 C173.52,347.66 173.76,346.05 173.99,344.11 C174.22,342.18 174.46,339.66 174.69,337.29 C174.92,334.91 175.15,332.00 175.39,329.85 C175.62,327.69 175.85,325.47 176.09,324.36 C176.32,323.25 176.55,322.76 176.79,323.18 C177.02,323.60 177.25,325.10 177.48,326.86 C177.72,328.62 177.95,331.36 178.18,333.73 C178.42,336.11 178.65,338.91 178.88,341.11 C179.12,343.32 179.35,345.37 179.58,346.95 C179.81,348.52 180.05,349.66 180.28,350.57 C180.51,351.48 180.75,351.97 180.98,352.39 C181.21,352.82 181.44,352.98 181.68,353.15 C181.91,353.32 182.14,353.35 182.38,353.41 C182.61,353.46 182.84,353.46 183.08,353.48 C183.31,353.49 183.54,353.52 183.77,353.50 C184.01,353.47 184.24,353.39 184.47,353.30 C184.71,353.22 184.94,353.15 185.17,352.98 C185.41,352.82 185.64,352.59 185.87,352.30 C186.10,352.00 186.34,351.58 186.57,351.24 C186.80,350.89 187.04,350.50 187.27,350.23 C187.50,349.96 187.73,349.77 187.97,349.63 C188.20,349.48 188.43,349.42 188.67,349.36 C188.90,349.30 189.13,349.28 189.37,349.26 C189.60,349.23 189.83,349.23 190.06,349.22 C190.30,349.21 190.53,349.21 190.76,349.21 C191.00,349.20 191.23,349.20 191.46,349.20 C191.70,349.20 191.93,349.20 192.16,349.20 C192.39,349.20 192.63,349.20 192.86,349.20 C193.09,349.20 193.33,349.20 193.56,349.20 C193.79,349.20 194.02,349.20 194.26,349.20 C194.49,349.20 194.72,349.20 194.96,349.20 C195.19,349.20 195.42,349.20 195.66,349.20 C195.89,349.20 196.12,349.20 196.35,349.20 C196.59,349.20 196.82,349.20 197.05,349.20 C197.29,349.20 197.52,349.20 197.75,349.20 C197.99,349.20 198.22,349.20 198.45,349.20 C198.68,349.20 198.92,349.20 199.15,349.20 C199.38,349.20 199.62,349.20 199.85,349.20 C200.08,349.20 200.31,349.20 200.55,349.20 C200.78,349.20 201.01,349.20 201.25,349.20 C201.48,349.20 201.71,349.25 201.95,349.20 C202.18,349.16 202.41,349.07 202.64,348.93 C202.88,348.78 203.11,348.53 203.34,348.34 C203.58,348.15 203.81,347.97 204.04,347.81 C204.28,347.66 204.51,347.51 204.74,347.39 C204.97,347.26 205.21,347.16 205.44,347.08 C205.67,347.00 205.91,346.95 206.14,346.92 C206.37,346.89 206.60,346.89 206.84,346.92 C207.07,346.94 207.30,347.00 207.54,347.07 C207.77,347.15 208.00,347.25 208.24,347.37 C208.47,347.49 208.70,347.64 208.93,347.80 C209.17,347.96 209.40,348.14 209.63,348.32 C209.87,348.51 210.10,348.71 210.33,348.91 C210.57,349.11 210.80,349.32 211.03,349.52 C211.26,349.73 211.50,349.94 211.73,350.14 C211.96,350.34 212.20,350.54 212.43,350.73 C212.66,350.92 212.89,351.10 213.13,351.27 C213.36,351.44 213.59,351.60 213.83,351.75 C214.06,351.89 214.29,352.03 214.53,352.15 C214.76,352.28 214.99,352.39 215.22,352.49 C215.46,352.59 215.69,352.68 215.92,352.76 C216.16,352.84 216.39,352.91 216.62,352.97 C216.86,353.04 217.09,353.09 217.32,353.13 C217.55,353.18 217.79,353.22 218.02,353.25 C218.25,353.28 218.49,353.31 218.72,353.33 C218.95,353.36 219.18,353.38 219.42,353.39 C219.65,353.41 219.88,353.42 220.12,353.43 C220.35,353.44 220.58,353.45 220.82,353.46 C221.05,353.47 221.28,353.47 221.51,353.47 C221.75,353.48 221.98,353.48 222.21,353.49 C222.45,353.49 222.68,353.49 222.91,353.49 C223.15,353.49 223.38,353.49 223.61,353.50 C223.84,353.50 224.08,353.50 224.31,353.50 C224.54,353.50 224.78,353.50 225.01,353.50 C225.24,353.50 225.47,353.50 225.71,353.50 C225.94,353.50 226.17,353.50 226.41,353.50 C226.64,353.50 226.87,353.50 227.11,353.50 C227.34,353.50 227.57,353.50 227.80,353.50 C228.04,353.50 228.27,353.50 228.50,353.50 C228.74,353.50 228.97,353.50 229.20,353.50 C229.44,353.50 229.67,353.50 229.90,353.50 C230.13,353.50 230.48,353.50 230.60,353.50" fill="none" stroke="#c03010" stroke-width="1.1" stroke-linejoin="round" />
<path d="M29.00,454.0 L29.00,454.00 C29.11,453.99 29.43,453.99 29.65,453.98 C29.87,453.97 30.08,453.97 30.30,453.93 C30.52,453.89 30.73,453.86 30.95,453.75 C31.17,453.63 31.38,453.53 31.60,453.21 C31.82,452.90 32.03,452.58 32.25,451.87 C32.47,451.15 32.68,450.33 32.90,448.92 C33.12,447.51 33.33,445.78 33.55,443.38 C33.77,440.98 33.98,437.98 34.20,434.52 C34.42,431.06 34.63,426.77 34.85,422.63 C35.07,418.49 35.28,413.60 35.50,409.66 C35.72,405.72 35.93,401.58 36.15,398.99 C36.37,396.39 36.58,394.72 36.80,394.09 C37.02,393.47 37.23,394.31 37.45,395.23 C37.67,396.16 37.88,397.76 38.10,399.64 C38.32,401.53 38.53,404.01 38.75,406.55 C38.97,409.10 39.18,412.07 39.40,414.92 C39.62,417.76 39.83,420.82 40.05,423.62 C40.27,426.42 40.48,429.22 40.70,431.71 C40.92,434.21 41.13,436.54 41.35,438.57 C41.57,440.61 41.78,442.39 42.00,443.92 C42.22,445.46 42.43,446.71 42.65,447.79 C42.87,448.86 43.08,449.68 43.30,450.39 C43.52,451.09 43.73,451.58 43.95,452.02 C44.17,452.45 44.38,452.72 44.60,452.97 C44.82,453.22 45.03,453.36 45.25,453.50 C45.47,453.63 45.68,453.70 45.90,453.77 C46.12,453.83 46.33,453.87 46.55,453.90 C46.77,453.93 46.98,453.94 47.20,453.96 C47.42,453.97 47.63,453.98 47.85,453.98 C48.07,453.99 48.28,453.99 48.50,453.99 C48.72,454.00 48.93,454.00 49.15,454.00 C49.37,454.00 49.58,454.00 49.80,454.00 C50.02,454.00 50.23,454.00 50.45,454.00 C50.67,454.00 50.88,454.00 51.10,454.00 C51.32,454.00 51.53,454.00 51.75,454.00 C51.97,454.00 52.18,454.00 52.40,454.00 C52.62,454.00 52.83,454.00 53.05,454.00 C53.27,454.00 53.48,454.00 53.70,454.00 C53.92,454.00 54.13,454.00 54.35,454.00 C54.57,454.00 54.78,454.00 55.00,454.00 C55.22,454.00 55.43,454.00 55.65,454.00 C55.87,454.00 56.08,454.00 56.30,454.00 C56.52,454.00 56.73,454.00 56.95,454.00 C57.17,454.00 57.38,454.00 57.60,454.00 C57.82,454.00 58.03,454.00 58.25,454.00 C58.47,454.00 58.68,454.00 58.90,454.00 C59.12,454.00 59.33,454.00 59.55,454.00 C59.77,454.00 59.98,454.00 60.20,454.00 C60.42,454.00 60.63,454.00 60.85,454.00 C61.07,454.00 61.28,454.00 61.50,454.00 C61.72,454.00 61.93,454.00 62.15,454.00 C62.37,454.00 62.58,454.00 62.80,454.00 C63.02,454.00 63.23,454.00 63.45,454.00 C63.67,454.00 63.88,454.00 64.10,454.00 C64.32,454.00 64.53,454.00 64.75,454.00 C64.97,454.00 65.18,454.00 65.40,454.00 C65.62,454.00 65.83,454.00 66.05,454.00 C66.27,454.00 66.48,454.00 66.70,454.00 C66.92,454.00 67.13,454.00 67.35,454.00 C67.57,454.00 67.89,454.00 68.00,454.00 L68.00,454.0 Z" fill="#7a18e0" stroke="none" stroke-width="1" stroke-linejoin="round" />
<path d="M29.00,454.0 L29.00,454.00 C29.11,454.00 29.43,454.00 29.65,454.00 C29.87,454.00 30.08,454.00 30.30,454.00 C30.52,454.00 30.73,454.00 30.95,454.00 C31.17,454.00 31.38,454.00 31.60,453.99 C31.82,453.97 32.03,453.98 32.25,453.92 C32.47,453.85 32.68,453.85 32.90,453.61 C33.12,453.37 33.33,453.20 33.55,452.48 C33.77,451.75 33.98,450.99 34.20,449.26 C34.42,447.53 34.63,445.33 34.85,442.11 C35.07,438.88 35.28,434.49 35.50,429.93 C35.72,425.37 35.93,419.34 36.15,414.75 C36.37,410.16 36.58,405.00 36.80,402.40 C37.02,399.79 37.23,399.11 37.45,399.13 C37.67,399.15 37.88,400.75 38.10,402.52 C38.32,404.29 38.53,406.97 38.75,409.74 C38.97,412.51 39.18,415.95 39.40,419.13 C39.62,422.31 39.83,425.78 40.05,428.82 C40.27,431.85 40.48,434.83 40.70,437.34 C40.92,439.85 41.13,442.06 41.35,443.90 C41.57,445.74 41.78,447.18 42.00,448.39 C42.22,449.59 42.43,450.43 42.65,451.14 C42.87,451.85 43.08,452.28 43.30,452.67 C43.52,453.05 43.73,453.24 43.95,453.43 C44.17,453.61 44.38,453.69 44.60,453.78 C44.82,453.86 45.03,453.89 45.25,453.92 C45.47,453.95 45.68,453.96 45.90,453.97 C46.12,453.99 46.33,453.99 46.55,453.99 C46.77,454.00 46.98,454.00 47.20,454.00 C47.42,454.00 47.63,454.00 47.85,454.00 C48.07,454.00 48.28,454.00 48.50,454.00 C48.72,454.00 48.93,454.00 49.15,454.00 C49.37,454.00 49.58,454.00 49.80,454.00 C50.02,454.00 50.23,454.00 50.45,454.00 C50.67,454.00 50.88,454.00 51.10,454.00 C51.32,454.00 51.53,454.00 51.75,454.00 C51.97,454.00 52.18,454.00 52.40,454.00 C52.62,454.00 52.83,454.00 53.05,454.00 C53.27,454.00 53.48,454.00 53.70,454.00 C53.92,454.00 54.13,454.00 54.35,454.00 C54.57,454.00 54.78,454.00 55.00,454.00 C55.22,454.00 55.43,454.00 55.65,454.00 C55.87,454.00 56.08,454.00 56.30,454.00 C56.52,454.00 56.73,454.00 56.95,454.00 C57.17,454.00 57.38,454.00 57.60,454.00 C57.82,454.00 58.03,454.00 58.25,454.00 C58.47,454.00 58.68,454.00 58.90,454.00 C59.12,454.00 59.33,454.00 59.55,454.00 C59.77,454.00 59.98,454.00 60.20,454.00 C60.42,454.00 60.63,454.00 60.85,454.00 C61.07,454.00 61.28,454.00 61.50,454.00 C61.72,454.00 61.93,454.00 62.15,454.00 C62.37,454.00 62.58,454.00 62.80,454.00 C63.02,454.00 63.23,454.00 63.45,454.00 C63.67,454.00 63.88,454.00 64.10,454.00 C64.32,454.00 64.53,454.00 64.75,454.00 C64.97,454.00 65.18,454.00 65.40,454.00 C65.62,454.00 65.83,454.00 66.05,454.00 C66.27,454.00 66.48,454.00 66.70,454.00 C66.92,454.00 67.13,454.00 67.35,454.00 C67.57,454.00 67.89,454.00 68.00,454.00 L68.00,454.0 Z" fill="#555" stroke="none" stroke-width="1" stroke-linejoin="round" />
<path d="M29.00,454.00 C29.11,453.99 29.43,453.99 29.65,453.98 C29.87,453.97 30.08,453.97 30.30,453.93 C30.52,453.89 30.73,453.86 30.95,453.75 C31.17,453.63 31.38,453.53 31.60,453.21 C31.82,452.90 32.03,452.58 32.25,451.87 C32.47,451.15 32.68,450.33 32.90,448.92 C33.12,447.51 33.33,445.78 33.55,443.38 C33.77,440.98 33.98,437.98 34.20,434.52 C34.42,431.06 34.63,426.77 34.85,422.63 C35.07,418.49 35.28,413.60 35.50,409.66 C35.72,405.72 35.93,401.58 36.15,398.99 C36.37,396.39 36.58,394.72 36.80,394.09 C37.02,393.47 37.23,394.31 37.45,395.23 C37.67,396.16 37.88,397.76 38.10,399.64 C38.32,401.53 38.53,404.01 38.75,406.55 C38.97,409.10 39.18,412.07 39.40,414.92 C39.62,417.76 39.83,420.82 40.05,423.62 C40.27,426.42 40.48,429.22 40.70,431.71 C40.92,434.21 41.13,436.54 41.35,438.57 C41.57,440.61 41.78,442.39 42.00,443.92 C42.22,445.46 42.43,446.71 42.65,447.79 C42.87,448.86 43.08,449.68 43.30,450.39 C43.52,451.09 43.73,451.58 43.95,452.02 C44.17,452.45 44.38,452.72 44.60,452.97 C44.82,453.22 45.03,453.36 45.25,453.50 C45.47,453.63 45.68,453.70 45.90,453.77 C46.12,453.83 46.33,453.87 46.55,453.90 C46.77,453.93 46.98,453.94 47.20,453.96 C47.42,453.97 47.63,453.98 47.85,453.98 C48.07,453.99 48.28,453.99 48.50,453.99 C48.72,454.00 48.93,454.00 49.15,454.00 C49.37,454.00 49.58,454.00 49.80,454.00 C50.02,454.00 50.23,454.00 50.45,454.00 C50.67,454.00 50.88,454.00 51.10,454.00 C51.32,454.00 51.53,454.00 51.75,454.00 C51.97,454.00 52.18,454.00 52.40,454.00 C52.62,454.00 52.83,454.00 53.05,454.00 C53.27,454.00 53.48,454.00 53.70,454.00 C53.92,454.00 54.13,454.00 54.35,454.00 C54.57,454.00 54.78,454.00 55.00,454.00 C55.22,454.00 55.43,454.00 55.65,454.00 C55.87,454.00 56.08,454.00 56.30,454.00 C56.52,454.00 56.73,454.00 56.95,454.00 C57.17,454.00 57.38,454.00 57.60,454.00 C57.82,454.00 58.03,454.00 58.25,454.00 C58.47,454.00 58.68,454.00 58.90,454.00 C59.12,454.00 59.33,454.00 59.55,454.00 C59.77,454.00 59.98,454.00 60.20,454.00 C60.42,454.00 60.63,454.00 60.85,454.00 C61.07,454.00 61.28,454.00 61.50,454.00 C61.72,454.00 61.93,454.00 62.15,454.00 C62.37,454.00 62.58,454.00 62.80,454.00 C63.02,454.00 63.23,454.00 63.45,454.00 C63.67,454.00 63.88,454.00 64.10,454.00 C64.32,454.00 64.53,454.00 64.75,454.00 C64.97,454.00 65.18,454.00 65.40,454.00 C65.62,454.00 65.83,454.00 66.05,454.00 C66.27,454.00 66.48,454.00 66.70,454.00 C66.92,454.00 67.13,454.00 67.35,454.00 C67.57,454.00 67.89,454.00 68.00,454.00" fill="none" stroke="#9030d0" stroke-width="0.8" stroke-linejoin="round" />
<path d="M98.30,454.0 L98.30,453.99 C98.41,453.99 98.73,453.99 98.95,453.97 C99.17,453.95 99.38,453.94 99.60,453.87 C99.82,453.80 100.03,453.76 100.25,453.57 C100.47,453.38 100.68,453.21 100.90,452.74 C101.12,452.28 101.33,451.78 101.55,450.79 C101.77,449.80 101.98,448.63 102.20,446.81 C102.42,444.98 102.63,442.72 102.85,439.84 C103.07,436.96 103.28,433.36 103.50,429.54 C103.72,425.72 103.93,421.06 104.15,416.91 C104.37,412.76 104.58,408.06 104.80,404.63 C105.02,401.20 105.23,397.99 105.45,396.33 C105.67,394.67 105.88,394.49 106.10,394.66 C106.32,394.84 106.53,395.99 106.75,397.38 C106.97,398.77 107.18,400.79 107.40,403.01 C107.62,405.22 107.83,407.96 108.05,410.67 C108.27,413.37 108.48,416.41 108.70,419.25 C108.92,422.09 109.13,425.04 109.35,427.70 C109.57,430.36 109.78,432.94 110.00,435.22 C110.22,437.49 110.43,439.55 110.65,441.34 C110.87,443.13 111.08,444.64 111.30,445.95 C111.52,447.25 111.73,448.28 111.95,449.17 C112.17,450.05 112.38,450.70 112.60,451.26 C112.82,451.82 113.03,452.20 113.25,452.54 C113.47,452.87 113.68,453.08 113.90,453.26 C114.12,453.45 114.33,453.55 114.55,453.65 C114.77,453.75 114.98,453.79 115.20,453.84 C115.42,453.89 115.63,453.91 115.85,453.93 C116.07,453.95 116.28,453.96 116.50,453.97 C116.72,453.98 116.93,453.99 117.15,453.99 C117.37,453.99 117.58,453.99 117.80,454.00 C118.02,454.00 118.23,454.00 118.45,454.00 C118.67,454.00 118.88,454.00 119.10,454.00 C119.32,454.00 119.53,454.00 119.75,454.00 C119.97,454.00 120.18,454.00 120.40,454.00 C120.62,454.00 120.83,454.00 121.05,454.00 C121.27,454.00 121.48,454.00 121.70,454.00 C121.92,454.00 122.13,454.00 122.35,454.00 C122.57,454.00 122.78,454.00 123.00,454.00 C123.22,454.00 123.43,454.00 123.65,454.00 C123.87,454.00 124.08,454.00 124.30,454.00 C124.52,454.00 124.73,454.00 124.95,454.00 C125.17,454.00 125.38,454.00 125.60,454.00 C125.82,454.00 126.03,454.00 126.25,454.00 C126.47,454.00 126.68,454.00 126.90,454.00 C127.12,454.00 127.33,454.00 127.55,454.00 C127.77,454.00 127.98,454.00 128.20,454.00 C128.42,454.00 128.63,454.00 128.85,454.00 C129.07,454.00 129.28,454.00 129.50,454.00 C129.72,454.00 129.93,454.00 130.15,454.00 C130.37,454.00 130.58,454.00 130.80,454.00 C131.02,454.00 131.23,454.00 131.45,454.00 C131.67,454.00 131.88,454.00 132.10,454.00 C132.32,454.00 132.53,454.00 132.75,454.00 C132.97,454.00 133.18,454.00 133.40,454.00 C133.62,454.00 133.83,454.00 134.05,454.00 C134.27,454.00 134.48,454.00 134.70,454.00 C134.92,454.00 135.13,454.00 135.35,454.00 C135.57,454.00 135.78,454.00 136.00,454.00 C136.22,454.00 136.43,454.00 136.65,454.00 C136.87,454.00 137.19,454.00 137.30,454.00 L137.30,454.0 Z" fill="#80b030" stroke="none" stroke-width="1" stroke-linejoin="round" />
<path d="M98.30,454.0 L98.30,454.00 C98.41,454.00 98.73,454.00 98.95,454.00 C99.17,454.00 99.38,454.00 99.60,454.00 C99.82,454.00 100.03,454.00 100.25,454.00 C100.47,453.99 100.68,454.00 100.90,453.97 C101.12,453.94 101.33,453.95 101.55,453.83 C101.77,453.71 101.98,453.66 102.20,453.25 C102.42,452.84 102.63,452.49 102.85,451.38 C103.07,450.28 103.28,448.98 103.50,446.62 C103.72,444.27 103.93,441.13 104.15,437.24 C104.37,433.35 104.58,428.06 104.80,423.30 C105.02,418.54 105.23,412.55 105.45,408.67 C105.67,404.80 105.88,401.39 106.10,400.05 C106.32,398.71 106.53,399.65 106.75,400.63 C106.97,401.60 107.18,403.63 107.40,405.90 C107.62,408.18 107.83,411.27 108.05,414.28 C108.27,417.29 108.48,420.80 108.70,423.94 C108.92,427.09 109.13,430.35 109.35,433.15 C109.57,435.95 109.78,438.56 110.00,440.75 C110.22,442.94 110.43,444.76 110.65,446.28 C110.87,447.80 111.08,448.93 111.30,449.88 C111.52,450.83 111.73,451.45 111.95,451.99 C112.17,452.52 112.38,452.82 112.60,453.10 C112.82,453.37 113.03,453.50 113.25,453.63 C113.47,453.76 113.68,453.81 113.90,453.86 C114.12,453.91 114.33,453.93 114.55,453.95 C114.77,453.97 114.98,453.98 115.20,453.98 C115.42,453.99 115.63,453.99 115.85,454.00 C116.07,454.00 116.28,454.00 116.50,454.00 C116.72,454.00 116.93,454.00 117.15,454.00 C117.37,454.00 117.58,454.00 117.80,454.00 C118.02,454.00 118.23,454.00 118.45,454.00 C118.67,454.00 118.88,454.00 119.10,454.00 C119.32,454.00 119.53,454.00 119.75,454.00 C119.97,454.00 120.18,454.00 120.40,454.00 C120.62,454.00 120.83,454.00 121.05,454.00 C121.27,454.00 121.48,454.00 121.70,454.00 C121.92,454.00 122.13,454.00 122.35,454.00 C122.57,454.00 122.78,454.00 123.00,454.00 C123.22,454.00 123.43,454.00 123.65,454.00 C123.87,454.00 124.08,454.00 124.30,454.00 C124.52,454.00 124.73,454.00 124.95,454.00 C125.17,454.00 125.38,454.00 125.60,454.00 C125.82,454.00 126.03,454.00 126.25,454.00 C126.47,454.00 126.68,454.00 126.90,454.00 C127.12,454.00 127.33,454.00 127.55,454.00 C127.77,454.00 127.98,454.00 128.20,454.00 C128.42,454.00 128.63,454.00 128.85,454.00 C129.07,454.00 129.28,454.00 129.50,454.00 C129.72,454.00 129.93,454.00 130.15,454.00 C130.37,454.00 130.58,454.00 130.80,454.00 C131.02,454.00 131.23,454.00 131.45,454.00 C131.67,454.00 131.88,454.00 132.10,454.00 C132.32,454.00 132.53,454.00 132.75,454.00 C132.97,454.00 133.18,454.00 133.40,454.00 C133.62,454.00 133.83,454.00 134.05,454.00 C134.27,454.00 134.48,454.00 134.70,454.00 C134.92,454.00 135.13,454.00 135.35,454.00 C135.57,454.00 135.78,454.00 136.00,454.00 C136.22,454.00 136.43,454.00 136.65,454.00 C136.87,454.00 137.19,454.00 137.30,454.00 L137.30,454.0 Z" fill="#555" stroke="none" stroke-width="1" stroke-linejoin="round" />
<path d="M98.30,453.99 C98.41,453.99 98.73,453.99 98.95,453.97 C99.17,453.95 99.38,453.94 99.60,453.87 C99.82,453.80 100.03,453.76 100.25,453.57 C100.47,453.38 100.68,453.21 100.90,452.74 C101.12,452.28 101.33,451.78 101.55,450.79 C101.77,449.80 101.98,448.63 102.20,446.81 C102.42,444.98 102.63,442.72 102.85,439.84 C103.07,436.96 103.28,433.36 103.50,429.54 C103.72,425.72 103.93,421.06 104.15,416.91 C104.37,412.76 104.58,408.06 104.80,404.63 C105.02,401.20 105.23,397.99 105.45,396.33 C105.67,394.67 105.88,394.49 106.10,394.66 C106.32,394.84 106.53,395.99 106.75,397.38 C106.97,398.77 107.18,400.79 107.40,403.01 C107.62,405.22 107.83,407.96 108.05,410.67 C108.27,413.37 108.48,416.41 108.70,419.25 C108.92,422.09 109.13,425.04 109.35,427.70 C109.57,430.36 109.78,432.94 110.00,435.22 C110.22,437.49 110.43,439.55 110.65,441.34 C110.87,443.13 111.08,444.64 111.30,445.95 C111.52,447.25 111.73,448.28 111.95,449.17 C112.17,450.05 112.38,450.70 112.60,451.26 C112.82,451.82 113.03,452.20 113.25,452.54 C113.47,452.87 113.68,453.08 113.90,453.26 C114.12,453.45 114.33,453.55 114.55,453.65 C114.77,453.75 114.98,453.79 115.20,453.84 C115.42,453.89 115.63,453.91 115.85,453.93 C116.07,453.95 116.28,453.96 116.50,453.97 C116.72,453.98 116.93,453.99 117.15,453.99 C117.37,453.99 117.58,453.99 117.80,454.00 C118.02,454.00 118.23,454.00 118.45,454.00 C118.67,454.00 118.88,454.00 119.10,454.00 C119.32,454.00 119.53,454.00 119.75,454.00 C119.97,454.00 120.18,454.00 120.40,454.00 C120.62,454.00 120.83,454.00 121.05,454.00 C121.27,454.00 121.48,454.00 121.70,454.00 C121.92,454.00 122.13,454.00 122.35,454.00 C122.57,454.00 122.78,454.00 123.00,454.00 C123.22,454.00 123.43,454.00 123.65,454.00 C123.87,454.00 124.08,454.00 124.30,454.00 C124.52,454.00 124.73,454.00 124.95,454.00 C125.17,454.00 125.38,454.00 125.60,454.00 C125.82,454.00 126.03,454.00 126.25,454.00 C126.47,454.00 126.68,454.00 126.90,454.00 C127.12,454.00 127.33,454.00 127.55,454.00 C127.77,454.00 127.98,454.00 128.20,454.00 C128.42,454.00 128.63,454.00 128.85,454.00 C129.07,454.00 129.28,454.00 129.50,454.00 C129.72,454.00 129.93,454.00 130.15,454.00 C130.37,454.00 130.58,454.00 130.80,454.00 C131.02,454.00 131.23,454.00 131.45,454.00 C131.67,454.00 131.88,454.00 132.10,454.00 C132.32,454.00 132.53,454.00 132.75,454.00 C132.97,454.00 133.18,454.00 133.40,454.00 C133.62,454.00 133.83,454.00 134.05,454.00 C134.27,454.00 134.48,454.00 134.70,454.00 C134.92,454.00 135.13,454.00 135.35,454.00 C135.57,454.00 135.78,454.00 136.00,454.00 C136.22,454.00 136.43,454.00 136.65,454.00 C136.87,454.00 137.19,454.00 137.30,454.00" fill="none" stroke="#d0c030" stroke-width="0.8" stroke-linejoin="round" />
<path d="M98.30,453.99 C98.41,453.99 98.73,453.99 98.95,453.97 C99.17,453.95 99.38,453.94 99.60,453.87 C99.82,453.80 100.03,453.76 100.25,453.57 C100.47,453.38 100.68,453.21 100.90,452.74 C101.12,452.28 101.33,451.78 101.55,450.79 C101.77,449.80 101.98,448.63 102.20,446.81 C102.42,444.98 102.63,442.72 102.85,439.84 C103.07,436.96 103.28,433.36 103.50,429.54 C103.72,425.72 103.93,421.06 104.15,416.91 C104.37,412.76 104.58,408.06 104.80,404.63 C105.02,401.20 105.23,397.99 105.45,396.33 C105.67,394.67 105.88,394.49 106.10,394.66 C106.32,394.84 106.53,395.99 106.75,397.38 C106.97,398.77 107.18,400.79 107.40,403.01 C107.62,405.22 107.83,407.96 108.05,410.67 C108.27,413.37 108.48,416.41 108.70,419.25 C108.92,422.09 109.13,425.04 109.35,427.70 C109.57,430.36 109.78,432.94 110.00,435.22 C110.22,437.49 110.43,439.55 110.65,441.34 C110.87,443.13 111.08,444.64 111.30,445.95 C111.52,447.25 111.73,448.28 111.95,449.17 C112.17,450.05 112.38,450.70 112.60,451.26 C112.82,451.82 113.03,452.20 113.25,452.54 C113.47,452.87 113.68,453.08 113.90,453.26 C114.12,453.45 114.33,453.55 114.55,453.65 C114.77,453.75 114.98,453.79 115.20,453.84 C115.42,453.89 115.63,453.91 115.85,453.93 C116.07,453.95 116.28,453.96 116.50,453.97 C116.72,453.98 116.93,453.99 117.15,453.99 C117.37,453.99 117.58,453.99 117.80,454.00 C118.02,454.00 118.23,454.00 118.45,454.00 C118.67,454.00 118.88,454.00 119.10,454.00 C119.32,454.00 119.53,454.00 119.75,454.00 C119.97,454.00 120.18,454.00 120.40,454.00 C120.62,454.00 120.83,454.00 121.05,454.00 C121.27,454.00 121.48,454.00 121.70,454.00 C121.92,454.00 122.13,454.00 122.35,454.00 C122.57,454.00 122.78,454.00 123.00,454.00 C123.22,454.00 123.43,454.00 123.65,454.00 C123.87,454.00 124.08,454.00 124.30,454.00 C124.52,454.00 124.73,454.00 124.95,454.00 C125.17,454.00 125.38,454.00 125.60,454.00 C125.82,454.00 126.03,454.00 126.25,454.00 C126.47,454.00 126.68,454.00 126.90,454.00 C127.12,454.00 127.33,454.00 127.55,454.00 C127.77,454.00 127.98,454.00 128.20,454.00 C128.42,454.00 128.63,454.00 128.85,454.00 C129.07,454.00 129.28,454.00 129.50,454.00 C129.72,454.00 129.93,454.00 130.15,454.00 C130.37,454.00 130.58,454.00 130.80,454.00 C131.02,454.00 131.23,454.00 131.45,454.00 C131.67,454.00 131.88,454.00 132.10,454.00 C132.32,454.00 132.53,454.00 132.75,454.00 C132.97,454.00 133.18,454.00 133.40,454.00 C133.62,454.00 133.83,454.00 134.05,454.00 C134.27,454.00 134.48,454.00 134.70,454.00 C134.92,454.00 135.13,454.00 135.35,454.00 C135.57,454.00 135.78,454.00 136.00,454.00 C136.22,454.00 136.43,454.00 136.65,454.00 C136.87,454.00 137.19,454.00 137.30,454.00" fill="none" stroke="#a04020" stroke-width="0.8" stroke-linejoin="round" />
<path d="M167.70,454.0 L167.70,453.98 C167.81,453.98 168.13,453.97 168.35,453.94 C168.57,453.90 168.78,453.88 169.00,453.78 C169.22,453.67 169.43,453.58 169.65,453.30 C169.87,453.02 170.08,452.73 170.30,452.08 C170.52,451.43 170.73,450.69 170.95,449.39 C171.17,448.08 171.38,446.50 171.60,444.26 C171.82,442.02 172.03,439.22 172.25,435.95 C172.47,432.67 172.68,428.61 172.90,424.63 C173.12,420.65 173.33,415.93 173.55,412.07 C173.77,408.21 173.98,404.10 174.20,401.45 C174.42,398.81 174.63,396.95 174.85,396.20 C175.07,395.46 175.28,396.18 175.50,396.99 C175.72,397.79 175.93,399.27 176.15,401.03 C176.37,402.79 176.58,405.13 176.80,407.56 C177.02,409.98 177.23,412.83 177.45,415.57 C177.67,418.31 177.88,421.28 178.10,424.00 C178.32,426.72 178.53,429.45 178.75,431.89 C178.97,434.33 179.18,436.62 179.40,438.63 C179.62,440.63 179.83,442.39 180.05,443.91 C180.27,445.43 180.48,446.68 180.70,447.75 C180.92,448.83 181.13,449.64 181.35,450.35 C181.57,451.06 181.78,451.55 182.00,451.99 C182.22,452.42 182.43,452.70 182.65,452.95 C182.87,453.20 183.08,453.35 183.30,453.49 C183.52,453.62 183.73,453.69 183.95,453.76 C184.17,453.83 184.38,453.86 184.60,453.90 C184.82,453.93 185.03,453.94 185.25,453.96 C185.47,453.97 185.68,453.98 185.90,453.98 C186.12,453.99 186.33,453.99 186.55,453.99 C186.77,454.00 186.98,454.00 187.20,454.00 C187.42,454.00 187.63,454.00 187.85,454.00 C188.07,454.00 188.28,454.00 188.50,454.00 C188.72,454.00 188.93,454.00 189.15,454.00 C189.37,454.00 189.58,454.00 189.80,454.00 C190.02,454.00 190.23,454.00 190.45,454.00 C190.67,454.00 190.88,454.00 191.10,454.00 C191.32,454.00 191.53,454.00 191.75,454.00 C191.97,454.00 192.18,454.00 192.40,454.00 C192.62,454.00 192.83,454.00 193.05,454.00 C193.27,454.00 193.48,454.00 193.70,454.00 C193.92,454.00 194.13,454.00 194.35,454.00 C194.57,454.00 194.78,454.00 195.00,454.00 C195.22,454.00 195.43,454.00 195.65,454.00 C195.87,454.00 196.08,454.00 196.30,454.00 C196.52,454.00 196.73,454.00 196.95,454.00 C197.17,454.00 197.38,454.00 197.60,454.00 C197.82,454.00 198.03,454.00 198.25,454.00 C198.47,454.00 198.68,454.00 198.90,454.00 C199.12,454.00 199.33,454.00 199.55,454.00 C199.77,454.00 199.98,454.00 200.20,454.00 C200.42,454.00 200.63,454.00 200.85,454.00 C201.07,454.00 201.28,454.00 201.50,454.00 C201.72,454.00 201.93,454.00 202.15,454.00 C202.37,454.00 202.58,454.00 202.80,454.00 C203.02,454.00 203.23,454.00 203.45,454.00 C203.67,454.00 203.88,454.00 204.10,454.00 C204.32,454.00 204.53,454.00 204.75,454.00 C204.97,454.00 205.18,454.00 205.40,454.00 C205.62,454.00 205.83,454.00 206.05,454.00 C206.27,454.00 206.59,454.00 206.70,454.00 L206.70,454.0 Z" fill="#a010d0" stroke="none" stroke-width="1" stroke-linejoin="round" />
<path d="M167.70,454.0 L167.70,454.00 C167.81,454.00 168.13,454.00 168.35,454.00 C168.57,454.00 168.78,454.00 169.00,454.00 C169.22,454.00 169.43,454.00 169.65,453.99 C169.87,453.98 170.08,453.98 170.30,453.93 C170.52,453.88 170.73,453.87 170.95,453.66 C171.17,453.45 171.38,453.31 171.60,452.67 C171.82,452.02 172.03,451.35 172.25,449.78 C172.47,448.21 172.68,446.23 172.90,443.24 C173.12,440.25 173.33,436.19 173.55,431.86 C173.77,427.54 173.98,421.78 174.20,417.29 C174.42,412.81 174.63,407.64 174.85,404.94 C175.07,402.23 175.28,401.21 175.50,401.05 C175.72,400.90 175.93,402.38 176.15,403.99 C176.37,405.60 176.58,408.10 176.80,410.71 C177.02,413.33 177.23,416.61 177.45,419.67 C177.67,422.72 177.88,426.09 178.10,429.04 C178.32,431.99 178.53,434.91 178.75,437.37 C178.97,439.84 179.18,442.03 179.40,443.85 C179.62,445.68 179.83,447.12 180.05,448.32 C180.27,449.53 180.48,450.37 180.70,451.09 C180.92,451.81 181.13,452.25 181.35,452.63 C181.57,453.02 181.78,453.22 182.00,453.41 C182.22,453.60 182.43,453.68 182.65,453.77 C182.87,453.85 183.08,453.88 183.30,453.92 C183.52,453.95 183.73,453.96 183.95,453.97 C184.17,453.98 184.38,453.99 184.60,453.99 C184.82,454.00 185.03,454.00 185.25,454.00 C185.47,454.00 185.68,454.00 185.90,454.00 C186.12,454.00 186.33,454.00 186.55,454.00 C186.77,454.00 186.98,454.00 187.20,454.00 C187.42,454.00 187.63,454.00 187.85,454.00 C188.07,454.00 188.28,454.00 188.50,454.00 C188.72,454.00 188.93,454.00 189.15,454.00 C189.37,454.00 189.58,454.00 189.80,454.00 C190.02,454.00 190.23,454.00 190.45,454.00 C190.67,454.00 190.88,454.00 191.10,454.00 C191.32,454.00 191.53,454.00 191.75,454.00 C191.97,454.00 192.18,454.00 192.40,454.00 C192.62,454.00 192.83,454.00 193.05,454.00 C193.27,454.00 193.48,454.00 193.70,454.00 C193.92,454.00 194.13,454.00 194.35,454.00 C194.57,454.00 194.78,454.00 195.00,454.00 C195.22,454.00 195.43,454.00 195.65,454.00 C195.87,454.00 196.08,454.00 196.30,454.00 C196.52,454.00 196.73,454.00 196.95,454.00 C197.17,454.00 197.38,454.00 197.60,454.00 C197.82,454.00 198.03,454.00 198.25,454.00 C198.47,454.00 198.68,454.00 198.90,454.00 C199.12,454.00 199.33,454.00 199.55,454.00 C199.77,454.00 199.98,454.00 200.20,454.00 C200.42,454.00 200.63,454.00 200.85,454.00 C201.07,454.00 201.28,454.00 201.50,454.00 C201.72,454.00 201.93,454.00 202.15,454.00 C202.37,454.00 202.58,454.00 202.80,454.00 C203.02,454.00 203.23,454.00 203.45,454.00 C203.67,454.00 203.88,454.00 204.10,454.00 C204.32,454.00 204.53,454.00 204.75,454.00 C204.97,454.00 205.18,454.00 205.40,454.00 C205.62,454.00 205.83,454.00 206.05,454.00 C206.27,454.00 206.59,454.00 206.70,454.00 L206.70,454.0 Z" fill="#555" stroke="none" stroke-width="1" stroke-linejoin="round" />
<path d="M167.70,453.98 C167.81,453.98 168.13,453.97 168.35,453.94 C168.57,453.90 168.78,453.88 169.00,453.78 C169.22,453.67 169.43,453.58 169.65,453.30 C169.87,453.02 170.08,452.73 170.30,452.08 C170.52,451.43 170.73,450.69 170.95,449.39 C171.17,448.08 171.38,446.50 171.60,444.26 C171.82,442.02 172.03,439.22 172.25,435.95 C172.47,432.67 172.68,428.61 172.90,424.63 C173.12,420.65 173.33,415.93 173.55,412.07 C173.77,408.21 173.98,404.10 174.20,401.45 C174.42,398.81 174.63,396.95 174.85,396.20 C175.07,395.46 175.28,396.18 175.50,396.99 C175.72,397.79 175.93,399.27 176.15,401.03 C176.37,402.79 176.58,405.13 176.80,407.56 C177.02,409.98 177.23,412.83 177.45,415.57 C177.67,418.31 177.88,421.28 178.10,424.00 C178.32,426.72 178.53,429.45 178.75,431.89 C178.97,434.33 179.18,436.62 179.40,438.63 C179.62,440.63 179.83,442.39 180.05,443.91 C180.27,445.43 180.48,446.68 180.70,447.75 C180.92,448.83 181.13,449.64 181.35,450.35 C181.57,451.06 181.78,451.55 182.00,451.99 C182.22,452.42 182.43,452.70 182.65,452.95 C182.87,453.20 183.08,453.35 183.30,453.49 C183.52,453.62 183.73,453.69 183.95,453.76 C184.17,453.83 184.38,453.86 184.60,453.90 C184.82,453.93 185.03,453.94 185.25,453.96 C185.47,453.97 185.68,453.98 185.90,453.98 C186.12,453.99 186.33,453.99 186.55,453.99 C186.77,454.00 186.98,454.00 187.20,454.00 C187.42,454.00 187.63,454.00 187.85,454.00 C188.07,454.00 188.28,454.00 188.50,454.00 C188.72,454.00 188.93,454.00 189.15,454.00 C189.37,454.00 189.58,454.00 189.80,454.00 C190.02,454.00 190.23,454.00 190.45,454.00 C190.67,454.00 190.88,454.00 191.10,454.00 C191.32,454.00 191.53,454.00 191.75,454.00 C191.97,454.00 192.18,454.00 192.40,454.00 C192.62,454.00 192.83,454.00 193.05,454.00 C193.27,454.00 193.48,454.00 193.70,454.00 C193.92,454.00 194.13,454.00 194.35,454.00 C194.57,454.00 194.78,454.00 195.00,454.00 C195.22,454.00 195.43,454.00 195.65,454.00 C195.87,454.00 196.08,454.00 196.30,454.00 C196.52,454.00 196.73,454.00 196.95,454.00 C197.17,454.00 197.38,454.00 197.60,454.00 C197.82,454.00 198.03,454.00 198.25,454.00 C198.47,454.00 198.68,454.00 198.90,454.00 C199.12,454.00 199.33,454.00 199.55,454.00 C199.77,454.00 199.98,454.00 200.20,454.00 C200.42,454.00 200.63,454.00 200.85,454.00 C201.07,454.00 201.28,454.00 201.50,454.00 C201.72,454.00 201.93,454.00 202.15,454.00 C202.37,454.00 202.58,454.00 202.80,454.00 C203.02,454.00 203.23,454.00 203.45,454.00 C203.67,454.00 203.88,454.00 204.10,454.00 C204.32,454.00 204.53,454.00 204.75,454.00 C204.97,454.00 205.18,454.00 205.40,454.00 C205.62,454.00 205.83,454.00 206.05,454.00 C206.27,454.00 206.59,454.00 206.70,454.00" fill="none" stroke="#c020c0" stroke-width="0.8" stroke-linejoin="round" />
<rect x="28" y="289.4" width="65" height="64.30000000000001" fill="none" stroke="#000" stroke-width="1.8"/>
<text x="25.4" y="290.9" font-size="4.2" text-anchor="end" font-weight="bold" fill="#222" style="stroke-width:0.08px" >100</text>
<line x1="26" y1="289.4" x2="28" y2="289.4" stroke="#111" stroke-width="0.7"/>
<text x="25.4" y="303.76" font-size="4.2" text-anchor="end" font-weight="bold" fill="#222" style="stroke-width:0.08px" >80</text>
<line x1="26" y1="302.26" x2="28" y2="302.26" stroke="#111" stroke-width="0.7"/>
<text x="25.4" y="316.62" font-size="4.2" text-anchor="end" font-weight="bold" fill="#222" style="stroke-width:0.08px" >60</text>
<line x1="26" y1="315.12" x2="28" y2="315.12" stroke="#111" stroke-width="0.7"/>
<text x="25.4" y="329.47999999999996" font-size="4.2" text-anchor="end" font-weight="bold" fill="#222" style="stroke-width:0.08px" >40</text>
<line x1="26" y1="327.97999999999996" x2="28" y2="327.97999999999996" stroke="#111" stroke-width="0.7"/>
<text x="25.4" y="342.34" font-size="4.2" text-anchor="end" font-weight="bold" fill="#222" style="stroke-width:0.08px" >20</text>
<line x1="26" y1="340.84" x2="28" y2="340.84" stroke="#111" stroke-width="0.7"/>
<text x="31.2" y="364.3" font-size="4.4" text-anchor="middle" font-weight="normal" fill="#222" style="stroke-width:0.08px" >10</text>
<text x="35.1" y="361.59999999999997" font-size="4.2" text-anchor="middle" font-weight="normal" fill="#222" style="stroke-width:0.08px" >3</text>
<text x="46.15" y="364.3" font-size="4.4" text-anchor="middle" font-weight="normal" fill="#222" style="stroke-width:0.08px" >10</text>
<text x="50.05" y="361.59999999999997" font-size="4.2" text-anchor="middle" font-weight="normal" fill="#222" style="stroke-width:0.08px" >4</text>
<text x="61.099999999999994" y="364.3" font-size="4.4" text-anchor="middle" font-weight="normal" fill="#222" style="stroke-width:0.08px" >10</text>
<text x="65.0" y="361.59999999999997" font-size="4.2" text-anchor="middle" font-weight="normal" fill="#222" style="stroke-width:0.08px" >5</text>
<text x="76.05" y="364.3" font-size="4.4" text-anchor="middle" font-weight="normal" fill="#222" style="stroke-width:0.08px" >10</text>
<text x="79.95" y="361.59999999999997" font-size="4.2" text-anchor="middle" font-weight="normal" fill="#222" style="stroke-width:0.08px" >6</text>
<rect x="97.3" y="289.4" width="64.89999999999999" height="64.30000000000001" fill="none" stroke="#000" stroke-width="1.8"/>
<text x="100.5" y="364.3" font-size="4.4" text-anchor="middle" font-weight="normal" fill="#222" style="stroke-width:0.08px" >10</text>
<text x="104.4" y="361.59999999999997" font-size="4.2" text-anchor="middle" font-weight="normal" fill="#222" style="stroke-width:0.08px" >3</text>
<text x="115.45" y="364.3" font-size="4.4" text-anchor="middle" font-weight="normal" fill="#222" style="stroke-width:0.08px" >10</text>
<text x="119.35000000000001" y="361.59999999999997" font-size="4.2" text-anchor="middle" font-weight="normal" fill="#222" style="stroke-width:0.08px" >4</text>
<text x="130.4" y="364.3" font-size="4.4" text-anchor="middle" font-weight="normal" fill="#222" style="stroke-width:0.08px" >10</text>
<text x="134.3" y="361.59999999999997" font-size="4.2" text-anchor="middle" font-weight="normal" fill="#222" style="stroke-width:0.08px" >5</text>
<text x="145.35" y="364.3" font-size="4.4" text-anchor="middle" font-weight="normal" fill="#222" style="stroke-width:0.08px" >10</text>
<text x="149.25" y="361.59999999999997" font-size="4.2" text-anchor="middle" font-weight="normal" fill="#222" style="stroke-width:0.08px" >6</text>
<rect x="166.7" y="289.4" width="64.9" height="64.30000000000001" fill="none" stroke="#000" stroke-width="1.8"/>
<text x="169.89999999999998" y="364.3" font-size="4.4" text-anchor="middle" font-weight="normal" fill="#222" style="stroke-width:0.08px" >10</text>
<text x="173.79999999999998" y="361.59999999999997" font-size="4.2" text-anchor="middle" font-weight="normal" fill="#222" style="stroke-width:0.08px" >3</text>
<text x="184.84999999999997" y="364.3" font-size="4.4" text-anchor="middle" font-weight="normal" fill="#222" style="stroke-width:0.08px" >10</text>
<text x="188.74999999999997" y="361.59999999999997" font-size="4.2" text-anchor="middle" font-weight="normal" fill="#222" style="stroke-width:0.08px" >4</text>
<text x="199.79999999999998" y="364.3" font-size="4.4" text-anchor="middle" font-weight="normal" fill="#222" style="stroke-width:0.08px" >10</text>
<text x="203.7" y="361.59999999999997" font-size="4.2" text-anchor="middle" font-weight="normal" fill="#222" style="stroke-width:0.08px" >5</text>
<text x="214.74999999999997" y="364.3" font-size="4.4" text-anchor="middle" font-weight="normal" fill="#222" style="stroke-width:0.08px" >10</text>
<text x="218.64999999999998" y="361.59999999999997" font-size="4.2" text-anchor="middle" font-weight="normal" fill="#222" style="stroke-width:0.08px" >6</text>
<rect x="28" y="390.0" width="65" height="64.19999999999999" fill="none" stroke="#000" stroke-width="1.8"/>
<text x="25.4" y="391.5" font-size="4.2" text-anchor="end" font-weight="bold" fill="#222" style="stroke-width:0.08px" >100</text>
<line x1="26" y1="390.0" x2="28" y2="390.0" stroke="#111" stroke-width="0.7"/>
<text x="25.4" y="404.34" font-size="4.2" text-anchor="end" font-weight="bold" fill="#222" style="stroke-width:0.08px" >80</text>
<line x1="26" y1="402.84" x2="28" y2="402.84" stroke="#111" stroke-width="0.7"/>
<text x="25.4" y="417.18" font-size="4.2" text-anchor="end" font-weight="bold" fill="#222" style="stroke-width:0.08px" >60</text>
<line x1="26" y1="415.68" x2="28" y2="415.68" stroke="#111" stroke-width="0.7"/>
<text x="25.4" y="430.02" font-size="4.2" text-anchor="end" font-weight="bold" fill="#222" style="stroke-width:0.08px" >40</text>
<line x1="26" y1="428.52" x2="28" y2="428.52" stroke="#111" stroke-width="0.7"/>
<text x="25.4" y="442.86" font-size="4.2" text-anchor="end" font-weight="bold" fill="#222" style="stroke-width:0.08px" >20</text>
<line x1="26" y1="441.36" x2="28" y2="441.36" stroke="#111" stroke-width="0.7"/>
<text x="31.2" y="464.8" font-size="4.4" text-anchor="middle" font-weight="normal" fill="#222" style="stroke-width:0.08px" >10</text>
<text x="35.1" y="462.09999999999997" font-size="4.2" text-anchor="middle" font-weight="normal" fill="#222" style="stroke-width:0.08px" >3</text>
<text x="46.15" y="464.8" font-size="4.4" text-anchor="middle" font-weight="normal" fill="#222" style="stroke-width:0.08px" >10</text>
<text x="50.05" y="462.09999999999997" font-size="4.2" text-anchor="middle" font-weight="normal" fill="#222" style="stroke-width:0.08px" >4</text>
<text x="61.099999999999994" y="464.8" font-size="4.4" text-anchor="middle" font-weight="normal" fill="#222" style="stroke-width:0.08px" >10</text>
<text x="65.0" y="462.09999999999997" font-size="4.2" text-anchor="middle" font-weight="normal" fill="#222" style="stroke-width:0.08px" >5</text>
<text x="76.05" y="464.8" font-size="4.4" text-anchor="middle" font-weight="normal" fill="#222" style="stroke-width:0.08px" >10</text>
<text x="79.95" y="462.09999999999997" font-size="4.2" text-anchor="middle" font-weight="normal" fill="#222" style="stroke-width:0.08px" >6</text>
<rect x="97.3" y="390.0" width="64.89999999999999" height="64.19999999999999" fill="none" stroke="#000" stroke-width="1.8"/>
<text x="100.5" y="464.8" font-size="4.4" text-anchor="middle" font-weight="normal" fill="#222" style="stroke-width:0.08px" >10</text>
<text x="104.4" y="462.09999999999997" font-size="4.2" text-anchor="middle" font-weight="normal" fill="#222" style="stroke-width:0.08px" >3</text>
<text x="115.45" y="464.8" font-size="4.4" text-anchor="middle" font-weight="normal" fill="#222" style="stroke-width:0.08px" >10</text>
<text x="119.35000000000001" y="462.09999999999997" font-size="4.2" text-anchor="middle" font-weight="normal" fill="#222" style="stroke-width:0.08px" >4</text>
<text x="130.4" y="464.8" font-size="4.4" text-anchor="middle" font-weight="normal" fill="#222" style="stroke-width:0.08px" >10</text>
<text x="134.3" y="462.09999999999997" font-size="4.2" text-anchor="middle" font-weight="normal" fill="#222" style="stroke-width:0.08px" >5</text>
<text x="145.35" y="464.8" font-size="4.4" text-anchor="middle" font-weight="normal" fill="#222" style="stroke-width:0.08px" >10</text>
<text x="149.25" y="462.09999999999997" font-size="4.2" text-anchor="middle" font-weight="normal" fill="#222" style="stroke-width:0.08px" >6</text>
<rect x="166.7" y="390.0" width="64.9" height="64.19999999999999" fill="none" stroke="#000" stroke-width="1.8"/>
<text x="169.89999999999998" y="464.8" font-size="4.4" text-anchor="middle" font-weight="normal" fill="#222" style="stroke-width:0.08px" >10</text>
<text x="173.79999999999998" y="462.09999999999997" font-size="4.2" text-anchor="middle" font-weight="normal" fill="#222" style="stroke-width:0.08px" >3</text>
<text x="184.84999999999997" y="464.8" font-size="4.4" text-anchor="middle" font-weight="normal" fill="#222" style="stroke-width:0.08px" >10</text>
<text x="188.74999999999997" y="462.09999999999997" font-size="4.2" text-anchor="middle" font-weight="normal" fill="#222" style="stroke-width:0.08px" >4</text>
<text x="199.79999999999998" y="464.8" font-size="4.4" text-anchor="middle" font-weight="normal" fill="#222" style="stroke-width:0.08px" >10</text>
<text x="203.7" y="462.09999999999997" font-size="4.2" text-anchor="middle" font-weight="normal" fill="#222" style="stroke-width:0.08px" >5</text>
<text x="214.74999999999997" y="464.8" font-size="4.4" text-anchor="middle" font-weight="normal" fill="#222" style="stroke-width:0.08px" >10</text>
<text x="218.64999999999998" y="462.09999999999997" font-size="4.2" text-anchor="middle" font-weight="normal" fill="#222" style="stroke-width:0.08px" >6</text>
<text x="0" y="0" font-size="9.5" text-anchor="middle" font-weight="normal" fill="#111" transform="translate(13.2,373.2) rotate(-90)">Cell Number</text>
<text x="32.7" y="483" font-size="9.5" text-anchor="start" font-weight="normal" fill="#111" >Anti-human IgG-PE</text>
<line x1="125.4" y1="479.8" x2="179.5" y2="479.8" stroke="#111" stroke-width="1.5"/>
<path d="M169.5,476.8 L180,479.8 L169.5,482.8" fill="none" stroke="#111" stroke-width="1.5" stroke-linejoin="round" />
<path d="M320,266.1 L320.00,266.10 L321.50,258.00 L323.00,240.00 L324.50,218.00 L325.70,204.00 L326.30,202.40 L327.00,206.00 L328.00,222.00 L329.00,242.00 L330.00,256.00 L331.00,262.00 L332.50,266.10 Z" fill="#454545" stroke="none" stroke-width="1" stroke-linejoin="round" />
<path d="M319.50,266.10 L320.50,266.10 L321.50,266.10 L322.50,266.10 L323.50,266.10 L324.50,266.10 L325.50,266.10 L326.50,266.10 L327.50,266.10 L328.50,266.10 L329.50,266.10 L330.50,266.10 L331.50,266.10 L332.50,266.09 L333.50,266.08 L334.50,266.05 L335.50,266.00 L336.50,265.88 L337.50,265.66 L338.50,265.26 L339.50,264.57 L340.50,263.20 L341.50,261.27 L342.50,259.77 L343.50,255.81 L344.50,252.87 L345.50,248.48 L346.50,243.78 L347.50,240.69 L348.50,237.04 L349.50,236.10 L350.50,235.51 L351.50,237.12 L352.50,240.56 L353.50,245.01 L354.50,248.09 L355.50,252.37 L356.50,256.70 L357.50,260.24 L358.50,261.96 L359.50,263.31 L360.50,264.57 L361.50,265.26 L362.50,265.66 L363.50,265.88 L364.50,266.00 L365.50,266.05 L366.50,266.08 L367.50,266.09" fill="none" stroke="#a8e8f4" stroke-width="0.9" stroke-linejoin="round" />
<path d="M319.50,266.10 L320.50,266.10 L321.50,266.10 L322.50,266.10 L323.50,266.10 L324.50,266.10 L325.50,266.10 L326.50,266.10 L327.50,266.10 L328.50,266.10 L329.50,266.10 L330.50,266.10 L331.50,266.10 L332.50,266.09 L333.50,266.08 L334.50,266.05 L335.50,265.98 L336.50,265.84 L337.50,265.57 L338.50,265.08 L339.50,264.24 L340.50,263.68 L341.50,260.22 L342.50,258.79 L343.50,254.37 L344.50,249.97 L345.50,245.41 L346.50,241.31 L347.50,238.39 L348.50,234.87 L349.50,234.63 L350.50,235.61 L351.50,237.68 L352.50,241.69 L353.50,245.32 L354.50,249.84 L355.50,254.24 L356.50,258.51 L357.50,260.83 L358.50,262.62 L359.50,264.24 L360.50,265.08 L361.50,265.57 L362.50,265.84 L363.50,265.98 L364.50,266.05 L365.50,266.08 L366.50,266.09 L367.50,266.10" fill="none" stroke="#50b0b0" stroke-width="0.9" stroke-linejoin="round" />
<path d="M319.50,266.10 L320.50,266.10 L321.50,266.10 L322.50,266.10 L323.50,266.10 L324.50,266.10 L325.50,266.10 L326.50,266.10 L327.50,266.10 L328.50,266.10 L329.50,266.10 L330.50,266.10 L331.50,266.09 L332.50,266.08 L333.50,266.06 L334.50,266.01 L335.50,265.89 L336.50,265.65 L337.50,265.20 L338.50,264.43 L339.50,263.30 L340.50,261.18 L341.50,258.28 L342.50,255.65 L343.50,251.49 L344.50,246.53 L345.50,243.10 L346.50,239.95 L347.50,238.82 L348.50,238.59 L349.50,239.57 L350.50,243.75 L351.50,246.33 L352.50,251.05 L353.50,255.59 L354.50,258.04 L355.50,261.24 L356.50,262.42 L357.50,264.43 L358.50,265.20 L359.50,265.65 L360.50,265.89 L361.50,266.01 L362.50,266.06 L363.50,266.08 L364.50,266.09 L365.50,266.10 L366.50,266.10 L367.50,266.10" fill="none" stroke="#70c8a0" stroke-width="0.9" stroke-linejoin="round" />
<path d="M319.50,266.10 L320.50,266.10 L321.50,266.10 L322.50,266.10 L323.50,266.10 L324.50,266.10 L325.50,266.10 L326.50,266.10 L327.50,266.10 L328.50,266.10 L329.50,266.09 L330.50,266.08 L331.50,266.05 L332.50,265.97 L333.50,265.82 L334.50,265.53 L335.50,265.00 L336.50,264.10 L337.50,262.97 L338.50,261.10 L339.50,258.07 L340.50,255.21 L341.50,250.58 L342.50,247.47 L343.50,244.10 L344.50,241.90 L345.50,240.93 L346.50,242.32 L347.50,244.66 L348.50,247.11 L349.50,251.14 L350.50,253.91 L351.50,258.27 L352.50,260.91 L353.50,263.49 L354.50,264.10 L355.50,265.00 L356.50,265.53 L357.50,265.82 L358.50,265.97 L359.50,266.05 L360.50,266.08 L361.50,266.09 L362.50,266.10 L363.50,266.10 L364.50,266.10 L365.50,266.10 L366.50,266.10 L367.50,266.10" fill="none" stroke="#a0e040" stroke-width="0.9" stroke-linejoin="round" />
<path d="M319.50,266.10 L320.50,266.10 L321.50,266.10 L322.50,266.10 L323.50,266.10 L324.50,266.10 L325.50,266.10 L326.50,266.10 L327.50,266.10 L328.50,266.10 L329.50,266.10 L330.50,266.10 L331.50,266.09 L332.50,266.07 L333.50,266.03 L334.50,265.93 L335.50,265.72 L336.50,265.30 L337.50,264.53 L338.50,263.74 L339.50,260.83 L340.50,258.01 L341.50,254.48 L342.50,248.60 L343.50,243.98 L344.50,238.34 L345.50,234.02 L346.50,231.35 L347.50,232.03 L348.50,232.78 L349.50,236.62 L350.50,241.74 L351.50,247.85 L352.50,251.69 L353.50,256.63 L354.50,260.18 L355.50,263.12 L356.50,264.60 L357.50,265.04 L358.50,265.58 L359.50,265.86 L360.50,266.00 L361.50,266.06 L362.50,266.08 L363.50,266.09 L364.50,266.10 L365.50,266.10 L366.50,266.10 L367.50,266.10" fill="none" stroke="#3a6a30" stroke-width="0.9" stroke-linejoin="round" />
<path d="M319.50,266.10 L320.50,266.10 L321.50,266.10 L322.50,266.10 L323.50,266.10 L324.50,266.10 L325.50,266.10 L326.50,266.10 L327.50,266.10 L328.50,266.09 L329.50,266.07 L330.50,266.03 L331.50,265.93 L332.50,265.73 L333.50,265.35 L334.50,264.65 L335.50,264.05 L336.50,261.27 L337.50,258.81 L338.50,255.13 L339.50,251.56 L340.50,246.76 L341.50,240.56 L342.50,236.37 L343.50,233.59 L344.50,232.57 L345.50,233.99 L346.50,237.03 L347.50,240.74 L348.50,245.23 L349.50,250.82 L350.50,255.14 L351.50,259.05 L352.50,262.35 L353.50,263.77 L354.50,264.65 L355.50,265.35 L356.50,265.73 L357.50,265.93 L358.50,266.03 L359.50,266.07 L360.50,266.09 L361.50,266.10 L362.50,266.10 L363.50,266.10 L364.50,266.10 L365.50,266.10 L366.50,266.10 L367.50,266.10" fill="none" stroke="#d8c8a8" stroke-width="0.9" stroke-linejoin="round" />
<path d="M319.50,266.10 L320.50,266.10 L321.50,266.10 L322.50,266.10 L323.50,266.10 L324.50,266.10 L325.50,266.10 L326.50,266.10 L327.50,266.09 L328.50,266.07 L329.50,266.02 L330.50,265.91 L331.50,265.68 L332.50,265.23 L333.50,264.40 L334.50,263.01 L335.50,260.95 L336.50,257.81 L337.50,252.50 L338.50,248.60 L339.50,242.64 L340.50,237.19 L341.50,232.48 L342.50,229.03 L343.50,228.55 L344.50,229.99 L345.50,234.80 L346.50,239.18 L347.50,244.99 L348.50,250.74 L349.50,255.39 L350.50,259.34 L351.50,261.49 L352.50,263.12 L353.50,264.95 L354.50,265.54 L355.50,265.84 L356.50,265.99 L357.50,266.05 L358.50,266.08 L359.50,266.09 L360.50,266.10 L361.50,266.10 L362.50,266.10 L363.50,266.10 L364.50,266.10 L365.50,266.10 L366.50,266.10 L367.50,266.10" fill="none" stroke="#e09040" stroke-width="0.9" stroke-linejoin="round" />
<path d="M319.50,266.10 L320.50,266.10 L321.50,266.10 L322.50,266.10 L323.50,266.10 L324.50,266.10 L325.50,266.10 L326.50,266.09 L327.50,266.07 L328.50,266.04 L329.50,265.96 L330.50,265.81 L331.50,265.52 L332.50,265.02 L333.50,264.21 L334.50,262.42 L335.50,260.63 L336.50,258.85 L337.50,255.73 L338.50,254.36 L339.50,251.39 L340.50,248.67 L341.50,247.74 L342.50,247.90 L343.50,249.01 L344.50,250.61 L345.50,254.32 L346.50,257.28 L347.50,259.01 L348.50,261.24 L349.50,262.32 L350.50,264.21 L351.50,265.02 L352.50,265.52 L353.50,265.81 L354.50,265.96 L355.50,266.04 L356.50,266.07 L357.50,266.09 L358.50,266.10 L359.50,266.10 L360.50,266.10 L361.50,266.10 L362.50,266.10 L363.50,266.10 L364.50,266.10 L365.50,266.10 L366.50,266.10 L367.50,266.10" fill="none" stroke="#c8d828" stroke-width="0.9" stroke-linejoin="round" />
<path d="M319.50,266.10 L320.50,266.10 L321.50,266.10 L322.50,266.10 L323.50,266.10 L324.50,266.09 L325.50,266.09 L326.50,266.06 L327.50,266.01 L328.50,265.90 L329.50,265.69 L330.50,265.31 L331.50,264.67 L332.50,263.06 L333.50,262.08 L334.50,260.21 L335.50,259.10 L336.50,255.97 L337.50,253.93 L338.50,254.17 L339.50,253.05 L340.50,252.88 L341.50,254.76 L342.50,255.75 L343.50,258.62 L344.50,261.35 L345.50,262.92 L346.50,264.01 L347.50,264.67 L348.50,265.31 L349.50,265.69 L350.50,265.90 L351.50,266.01 L352.50,266.06 L353.50,266.09 L354.50,266.09 L355.50,266.10 L356.50,266.10 L357.50,266.10 L358.50,266.10 L359.50,266.10 L360.50,266.10 L361.50,266.10 L362.50,266.10 L363.50,266.10 L364.50,266.10 L365.50,266.10 L366.50,266.10 L367.50,266.10" fill="none" stroke="#2030c0" stroke-width="0.9" stroke-linejoin="round" />
<path d="M319.50,266.10 L320.50,266.10 L321.50,266.10 L322.50,266.10 L323.50,266.10 L324.50,266.10 L325.50,266.09 L326.50,266.08 L327.50,266.06 L328.50,266.01 L329.50,265.89 L330.50,265.67 L331.50,265.27 L332.50,264.60 L333.50,263.18 L334.50,261.87 L335.50,259.61 L336.50,258.26 L337.50,255.39 L338.50,253.44 L339.50,250.88 L340.50,249.69 L341.50,250.63 L342.50,251.92 L343.50,253.55 L344.50,255.83 L345.50,258.34 L346.50,260.53 L347.50,261.65 L348.50,263.59 L349.50,264.60 L350.50,265.27 L351.50,265.67 L352.50,265.89 L353.50,266.01 L354.50,266.06 L355.50,266.08 L356.50,266.09 L357.50,266.10 L358.50,266.10 L359.50,266.10 L360.50,266.10 L361.50,266.10 L362.50,266.10 L363.50,266.10 L364.50,266.10 L365.50,266.10 L366.50,266.10 L367.50,266.10" fill="none" stroke="#d04050" stroke-width="0.9" stroke-linejoin="round" />
<path d="M327.50,266.10 L329.00,262.00 L330.50,257.00 L332.00,250.00 L333.50,245.50 L335.00,242.50 L336.30,240.20 L337.30,239.50 L338.30,241.00 L339.30,243.00 L340.40,242.30 L341.40,242.80 L342.50,245.00 L343.80,249.00 L345.00,253.00 L346.30,257.00 L347.60,261.00 L349.00,263.50 L351.00,265.00 L353.00,266.10" fill="none" stroke="#9010d0" stroke-width="1.2" stroke-linejoin="round" />
<path d="M318.4,387.6 L318.40,363.00 L319.50,356.00 L320.50,350.00 L321.50,345.00 L322.50,340.00 L323.50,336.00 L324.50,332.00 L325.50,329.00 L326.50,326.50 L327.50,325.00 L328.30,323.50 L329.00,321.80 L329.70,322.80 L330.40,326.00 L331.00,330.00 L331.80,334.00 L332.60,336.50 L333.40,338.00 L334.20,342.00 L335.00,348.00 L335.80,356.00 L336.60,364.00 L337.50,372.00 L338.50,378.00 L339.50,382.00 L340.70,385.00 L342.20,386.60 L344.50,387.40 L344.5,387.6 Z" fill="#4b4b4b" stroke="none" stroke-width="1" stroke-linejoin="round" />
<path d="M318.40,363.00 L319.50,356.00 L320.50,350.00 L321.50,345.00 L322.50,340.00 L323.50,336.00 L324.50,332.00 L325.50,329.00 L326.50,326.50 L327.50,325.00 L328.30,323.50 L329.00,321.80 L329.70,322.80 L330.40,326.00" fill="none" stroke="#000" stroke-width="1.1" stroke-linejoin="round" />
<path d="M318.60,379.00 L319.60,371.00 L320.60,363.00 L321.60,356.00 L322.60,349.00 L323.60,343.00 L324.60,338.00 L325.60,334.00 L326.60,331.00 L327.60,330.00 L328.50,331.50 L329.30,335.00" fill="none" stroke="#e8e8e8" stroke-width="0.9" stroke-linejoin="round" />
<path d="M331.50,336.00 L332.50,340.00 L333.50,348.00 L334.50,358.00 L335.50,368.00 L336.50,376.00 L338.00,382.00 L340.00,385.50 L343.00,387.00" fill="none" stroke="#a0b8a0" stroke-width="0.7" stroke-linejoin="round" />
<path d="M341.50,387.60 L343.50,385.00 L345.50,381.00 L347.50,374.00 L349.00,368.00 L350.50,362.00 L351.80,356.00 L353.00,352.50 L354.30,350.00 L355.30,345.00 L356.30,340.00 L357.30,336.50 L358.30,336.00 L359.20,331.00 L360.60,326.50 L361.40,328.50 L362.30,335.00 L363.20,343.00 L364.20,353.00 L365.20,362.00 L366.20,370.00 L367.30,377.00 L368.50,382.50 L369.80,386.00 L371.50,387.60" fill="none" stroke="#c0202a" stroke-width="1.3" stroke-linejoin="round" />
<path d="M340.00,386.50 C340.83,386.42 343.33,386.17 345.00,386.00 C346.67,385.83 348.33,385.42 350.00,385.50 C351.67,385.58 354.17,386.33 355.00,386.50" fill="none" stroke="#b0b060" stroke-width="0.8" stroke-linejoin="round" />
<path d="M319.3,504 L319.30,486.00 C319.50,486.50 319.97,487.50 320.50,489.00 C321.03,490.50 321.83,494.17 322.50,495.00 C323.17,495.83 323.83,495.83 324.50,494.00 C325.17,492.17 325.83,488.00 326.50,484.00 C327.17,480.00 327.83,474.83 328.50,470.00 C329.17,465.17 329.88,459.17 330.50,455.00 C331.12,450.83 331.70,446.00 332.20,445.00 C332.70,444.00 333.12,446.83 333.50,449.00 C333.88,451.17 334.17,454.50 334.50,458.00 C334.83,461.50 335.08,465.67 335.50,470.00 C335.92,474.33 336.42,479.83 337.00,484.00 C337.58,488.17 338.08,491.70 339.00,495.00 C339.92,498.30 341.92,502.33 342.50,503.80 L342.5,504 Z" fill="#505050" stroke="none" stroke-width="1" stroke-linejoin="round" />
<path d="M323.20,496.00 C323.50,495.00 324.37,493.00 325.00,490.00 C325.63,487.00 326.33,482.50 327.00,478.00 C327.67,473.50 328.33,467.67 329.00,463.00 C329.67,458.33 330.47,453.08 331.00,450.00 C331.53,446.92 331.78,444.83 332.20,444.50 C332.62,444.17 333.12,446.25 333.50,448.00 C333.88,449.75 334.33,453.83 334.50,455.00" fill="none" stroke="#111" stroke-width="1.1" stroke-linejoin="round" />
<path d="M319.30,497.00 C319.75,497.33 321.05,499.67 322.00,499.00 C322.95,498.33 324.00,495.83 325.00,493.00 C326.00,490.17 327.00,486.17 328.00,482.00 C329.00,477.83 330.17,472.00 331.00,468.00 C331.83,464.00 332.67,459.67 333.00,458.00" fill="none" stroke="#e0a040" stroke-width="0.9" stroke-linejoin="round" />
<path d="M322.00,500.00 C322.33,499.17 323.33,497.17 324.00,495.00 C324.67,492.83 325.33,490.17 326.00,487.00 C326.67,483.83 327.33,480.17 328.00,476.00 C328.67,471.83 329.42,466.00 330.00,462.00 C330.58,458.00 331.03,454.50 331.50,452.00 C331.97,449.50 332.58,447.83 332.80,447.00" fill="none" stroke="#60b8c8" stroke-width="0.8" stroke-linejoin="round" />
<path d="M319.30,503.00 C319.75,502.33 321.22,500.50 322.00,499.00 C322.78,497.50 323.33,496.17 324.00,494.00 C324.67,491.83 325.33,488.83 326.00,486.00 C326.67,483.17 327.33,479.83 328.00,477.00 C328.67,474.17 329.25,471.33 330.00,469.00 C330.75,466.67 331.67,464.33 332.50,463.00 C333.33,461.67 334.23,461.42 335.00,461.00 C335.77,460.58 336.35,460.08 337.10,460.50 C337.85,460.92 338.77,462.33 339.50,463.50 C340.23,464.67 340.85,466.42 341.50,467.50 C342.15,468.58 342.82,468.42 343.40,470.00 C343.98,471.58 344.48,474.50 345.00,477.00 C345.52,479.50 345.92,482.00 346.50,485.00 C347.08,488.00 347.92,492.33 348.50,495.00 C349.08,497.67 349.55,499.50 350.00,501.00 C350.45,502.50 351.00,503.50 351.20,504.00" fill="none" stroke="#c0202a" stroke-width="1.3" stroke-linejoin="round" />
<rect x="317.5" y="197.2" width="70.5" height="69.10000000000002" fill="none" stroke="#000" stroke-width="1.8"/>
<text x="314.0" y="198.79999999999998" font-size="4.4" text-anchor="end" font-weight="bold" fill="#222" style="stroke-width:0.08px" >100</text>
<line x1="315.0" y1="197.2" x2="317.5" y2="197.2" stroke="#111" stroke-width="0.7"/>
<line x1="316.0" y1="204.10999999999999" x2="317.5" y2="204.10999999999999" stroke="#111" stroke-width="0.5"/>
<text x="314.0" y="212.61999999999998" font-size="4.4" text-anchor="end" font-weight="bold" fill="#222" style="stroke-width:0.08px" >80</text>
<line x1="315.0" y1="211.01999999999998" x2="317.5" y2="211.01999999999998" stroke="#111" stroke-width="0.7"/>
<line x1="316.0" y1="217.92999999999998" x2="317.5" y2="217.92999999999998" stroke="#111" stroke-width="0.5"/>
<text x="314.0" y="226.44" font-size="4.4" text-anchor="end" font-weight="bold" fill="#222" style="stroke-width:0.08px" >60</text>
<line x1="315.0" y1="224.84" x2="317.5" y2="224.84" stroke="#111" stroke-width="0.7"/>
<line x1="316.0" y1="231.75" x2="317.5" y2="231.75" stroke="#111" stroke-width="0.5"/>
<text x="314.0" y="240.26" font-size="4.4" text-anchor="end" font-weight="bold" fill="#222" style="stroke-width:0.08px" >40</text>
<line x1="315.0" y1="238.66" x2="317.5" y2="238.66" stroke="#111" stroke-width="0.7"/>
<line x1="316.0" y1="245.57" x2="317.5" y2="245.57" stroke="#111" stroke-width="0.5"/>
<text x="314.0" y="254.08" font-size="4.4" text-anchor="end" font-weight="bold" fill="#222" style="stroke-width:0.08px" >20</text>
<line x1="315.0" y1="252.48000000000002" x2="317.5" y2="252.48000000000002" stroke="#111" stroke-width="0.7"/>
<line x1="316.0" y1="259.39000000000004" x2="317.5" y2="259.39000000000004" stroke="#111" stroke-width="0.5"/>
<text x="319.2" y="277.3" font-size="3.7" text-anchor="middle" font-weight="bold" fill="#222" style="stroke-width:0.08px" >10</text>
<text x="322.2" y="275.40000000000003" font-size="4.3" text-anchor="middle" font-weight="normal" fill="#222" style="stroke-width:0.08px" >0</text>
<line x1="321.5" y1="266.3" x2="321.5" y2="267.8" stroke="#111" stroke-width="0.6"/>
<text x="334.95" y="277.3" font-size="3.7" text-anchor="middle" font-weight="bold" fill="#222" style="stroke-width:0.08px" >10</text>
<text x="337.95" y="275.40000000000003" font-size="4.3" text-anchor="middle" font-weight="normal" fill="#222" style="stroke-width:0.08px" >1</text>
<line x1="337.6" y1="266.3" x2="337.6" y2="267.8" stroke="#111" stroke-width="0.6"/>
<text x="350.7" y="277.3" font-size="3.7" text-anchor="middle" font-weight="bold" fill="#222" style="stroke-width:0.08px" >10</text>
<text x="353.7" y="275.40000000000003" font-size="4.3" text-anchor="middle" font-weight="normal" fill="#222" style="stroke-width:0.08px" >2</text>
<line x1="353.7" y1="266.3" x2="353.7" y2="267.8" stroke="#111" stroke-width="0.6"/>
<text x="366.45" y="277.3" font-size="3.7" text-anchor="middle" font-weight="bold" fill="#222" style="stroke-width:0.08px" >10</text>
<text x="369.45" y="275.40000000000003" font-size="4.3" text-anchor="middle" font-weight="normal" fill="#222" style="stroke-width:0.08px" >3</text>
<line x1="369.8" y1="266.3" x2="369.8" y2="267.8" stroke="#111" stroke-width="0.6"/>
<text x="382.2" y="277.3" font-size="3.7" text-anchor="middle" font-weight="bold" fill="#222" style="stroke-width:0.08px" >10</text>
<text x="385.2" y="275.40000000000003" font-size="4.3" text-anchor="middle" font-weight="normal" fill="#222" style="stroke-width:0.08px" >4</text>
<line x1="385.9" y1="266.3" x2="385.9" y2="267.8" stroke="#111" stroke-width="0.6"/>
<rect x="317.5" y="318.7" width="70.5" height="69.30000000000001" fill="none" stroke="#000" stroke-width="1.8"/>
<text x="314.0" y="320.3" font-size="4.4" text-anchor="end" font-weight="bold" fill="#222" style="stroke-width:0.08px" >100</text>
<line x1="315.0" y1="318.7" x2="317.5" y2="318.7" stroke="#111" stroke-width="0.7"/>
<line x1="316.0" y1="325.63" x2="317.5" y2="325.63" stroke="#111" stroke-width="0.5"/>
<text x="314.0" y="334.16" font-size="4.4" text-anchor="end" font-weight="bold" fill="#222" style="stroke-width:0.08px" >80</text>
<line x1="315.0" y1="332.56" x2="317.5" y2="332.56" stroke="#111" stroke-width="0.7"/>
<line x1="316.0" y1="339.49" x2="317.5" y2="339.49" stroke="#111" stroke-width="0.5"/>
<text x="314.0" y="348.02000000000004" font-size="4.4" text-anchor="end" font-weight="bold" fill="#222" style="stroke-width:0.08px" >60</text>
<line x1="315.0" y1="346.42" x2="317.5" y2="346.42" stroke="#111" stroke-width="0.7"/>
<line x1="316.0" y1="353.35" x2="317.5" y2="353.35" stroke="#111" stroke-width="0.5"/>
<text x="314.0" y="361.88" font-size="4.4" text-anchor="end" font-weight="bold" fill="#222" style="stroke-width:0.08px" >40</text>
<line x1="315.0" y1="360.28" x2="317.5" y2="360.28" stroke="#111" stroke-width="0.7"/>
<line x1="316.0" y1="367.21" x2="317.5" y2="367.21" stroke="#111" stroke-width="0.5"/>
<text x="314.0" y="375.74" font-size="4.4" text-anchor="end" font-weight="bold" fill="#222" style="stroke-width:0.08px" >20</text>
<line x1="315.0" y1="374.14" x2="317.5" y2="374.14" stroke="#111" stroke-width="0.7"/>
<line x1="316.0" y1="381.07" x2="317.5" y2="381.07" stroke="#111" stroke-width="0.5"/>
<text x="319.2" y="399.0" font-size="3.7" text-anchor="middle" font-weight="bold" fill="#222" style="stroke-width:0.08px" >10</text>
<text x="322.2" y="397.1" font-size="4.3" text-anchor="middle" font-weight="normal" fill="#222" style="stroke-width:0.08px" >0</text>
<line x1="321.5" y1="388" x2="321.5" y2="389.5" stroke="#111" stroke-width="0.6"/>
<text x="334.95" y="399.0" font-size="3.7" text-anchor="middle" font-weight="bold" fill="#222" style="stroke-width:0.08px" >10</text>
<text x="337.95" y="397.1" font-size="4.3" text-anchor="middle" font-weight="normal" fill="#222" style="stroke-width:0.08px" >1</text>
<line x1="337.6" y1="388" x2="337.6" y2="389.5" stroke="#111" stroke-width="0.6"/>
<text x="350.7" y="399.0" font-size="3.7" text-anchor="middle" font-weight="bold" fill="#222" style="stroke-width:0.08px" >10</text>
<text x="353.7" y="397.1" font-size="4.3" text-anchor="middle" font-weight="normal" fill="#222" style="stroke-width:0.08px" >2</text>
<line x1="353.7" y1="388" x2="353.7" y2="389.5" stroke="#111" stroke-width="0.6"/>
<text x="366.45" y="399.0" font-size="3.7" text-anchor="middle" font-weight="bold" fill="#222" style="stroke-width:0.08px" >10</text>
<text x="369.45" y="397.1" font-size="4.3" text-anchor="middle" font-weight="normal" fill="#222" style="stroke-width:0.08px" >3</text>
<line x1="369.8" y1="388" x2="369.8" y2="389.5" stroke="#111" stroke-width="0.6"/>
<text x="382.2" y="399.0" font-size="3.7" text-anchor="middle" font-weight="bold" fill="#222" style="stroke-width:0.08px" >10</text>
<text x="385.2" y="397.1" font-size="4.3" text-anchor="middle" font-weight="normal" fill="#222" style="stroke-width:0.08px" >4</text>
<line x1="385.9" y1="388" x2="385.9" y2="389.5" stroke="#111" stroke-width="0.6"/>
<rect x="318.4" y="434.9" width="70.20000000000005" height="69.90000000000003" fill="none" stroke="#000" stroke-width="1.8"/>
<text x="314.9" y="436.5" font-size="4.4" text-anchor="end" font-weight="bold" fill="#222" style="stroke-width:0.08px" >100</text>
<line x1="315.9" y1="434.9" x2="318.4" y2="434.9" stroke="#111" stroke-width="0.7"/>
<line x1="316.9" y1="441.89" x2="318.4" y2="441.89" stroke="#111" stroke-width="0.5"/>
<text x="314.9" y="450.48" font-size="4.4" text-anchor="end" font-weight="bold" fill="#222" style="stroke-width:0.08px" >80</text>
<line x1="315.9" y1="448.88" x2="318.4" y2="448.88" stroke="#111" stroke-width="0.7"/>
<line x1="316.9" y1="455.87" x2="318.4" y2="455.87" stroke="#111" stroke-width="0.5"/>
<text x="314.9" y="464.46000000000004" font-size="4.4" text-anchor="end" font-weight="bold" fill="#222" style="stroke-width:0.08px" >60</text>
<line x1="315.9" y1="462.86" x2="318.4" y2="462.86" stroke="#111" stroke-width="0.7"/>
<line x1="316.9" y1="469.85" x2="318.4" y2="469.85" stroke="#111" stroke-width="0.5"/>
<text x="314.9" y="478.44" font-size="4.4" text-anchor="end" font-weight="bold" fill="#222" style="stroke-width:0.08px" >40</text>
<line x1="315.9" y1="476.84" x2="318.4" y2="476.84" stroke="#111" stroke-width="0.7"/>
<line x1="316.9" y1="483.83" x2="318.4" y2="483.83" stroke="#111" stroke-width="0.5"/>
<text x="314.9" y="492.42" font-size="4.4" text-anchor="end" font-weight="bold" fill="#222" style="stroke-width:0.08px" >20</text>
<line x1="315.9" y1="490.82" x2="318.4" y2="490.82" stroke="#111" stroke-width="0.7"/>
<line x1="316.9" y1="497.81" x2="318.4" y2="497.81" stroke="#111" stroke-width="0.5"/>
<text x="320.09999999999997" y="515.8" font-size="3.7" text-anchor="middle" font-weight="bold" fill="#222" style="stroke-width:0.08px" >10</text>
<text x="323.09999999999997" y="513.9" font-size="4.3" text-anchor="middle" font-weight="normal" fill="#222" style="stroke-width:0.08px" >0</text>
<line x1="322.4" y1="504.8" x2="322.4" y2="506.3" stroke="#111" stroke-width="0.6"/>
<text x="335.84999999999997" y="515.8" font-size="3.7" text-anchor="middle" font-weight="bold" fill="#222" style="stroke-width:0.08px" >10</text>
<text x="338.84999999999997" y="513.9" font-size="4.3" text-anchor="middle" font-weight="normal" fill="#222" style="stroke-width:0.08px" >1</text>
<line x1="338.5" y1="504.8" x2="338.5" y2="506.3" stroke="#111" stroke-width="0.6"/>
<text x="351.59999999999997" y="515.8" font-size="3.7" text-anchor="middle" font-weight="bold" fill="#222" style="stroke-width:0.08px" >10</text>
<text x="354.59999999999997" y="513.9" font-size="4.3" text-anchor="middle" font-weight="normal" fill="#222" style="stroke-width:0.08px" >2</text>
<line x1="354.59999999999997" y1="504.8" x2="354.59999999999997" y2="506.3" stroke="#111" stroke-width="0.6"/>
<text x="367.34999999999997" y="515.8" font-size="3.7" text-anchor="middle" font-weight="bold" fill="#222" style="stroke-width:0.08px" >10</text>
<text x="370.34999999999997" y="513.9" font-size="4.3" text-anchor="middle" font-weight="normal" fill="#222" style="stroke-width:0.08px" >3</text>
<line x1="370.7" y1="504.8" x2="370.7" y2="506.3" stroke="#111" stroke-width="0.6"/>
<text x="383.09999999999997" y="515.8" font-size="3.7" text-anchor="middle" font-weight="bold" fill="#222" style="stroke-width:0.08px" >10</text>
<text x="386.09999999999997" y="513.9" font-size="4.3" text-anchor="middle" font-weight="normal" fill="#222" style="stroke-width:0.08px" >4</text>
<line x1="386.79999999999995" y1="504.8" x2="386.79999999999995" y2="506.3" stroke="#111" stroke-width="0.6"/>
<text x="350" y="233.5" font-size="1" text-anchor="start" font-weight="normal" fill="#111" style="stroke-width:0.08px" ></text>
<text x="350.6" y="292.1" font-size="11" text-anchor="middle" font-weight="normal" fill="#111" >Anti-IgM</text>
<text x="350.9" y="414.0" font-size="11" text-anchor="middle" font-weight="normal" fill="#111" >Anti-E2</text>
<text x="353.2" y="530.9" font-size="11" text-anchor="middle" font-weight="normal" fill="#111" >Anti-IgG</text>
<text x="0" y="0" font-size="9.5" text-anchor="middle" font-weight="normal" fill="#111" transform="translate(298.4,353.2) rotate(-90)">Cell Number</text>
<rect x="392.7" y="195.6" width="12.8" height="94.00000000000003" fill="#111" stroke="none" stroke-width="0"/>
<rect x="394.3" y="197.2" width="9.6" height="8.000000000000004" fill="#d8f4f4" stroke="none" stroke-width="0"/>
<rect x="394.3" y="200.2" width="9.6" height="2" fill="#60b0b8" stroke="none" stroke-width="0"/>
<rect x="394.3" y="206.4" width="9.6" height="8.000000000000004" fill="#f8d8f8" stroke="none" stroke-width="0"/>
<rect x="394.3" y="209.4" width="9.6" height="2" fill="#8010c8" stroke="none" stroke-width="0"/>
<rect x="394.3" y="215.6" width="9.6" height="8.000000000000004" fill="#f4f0ea" stroke="none" stroke-width="0"/>
<rect x="394.3" y="218.6" width="9.6" height="2" fill="#d8d0c0" stroke="none" stroke-width="0"/>
<rect x="394.3" y="224.79999999999998" width="9.6" height="8.000000000000004" fill="#e8f0e0" stroke="none" stroke-width="0"/>
<rect x="394.3" y="227.79999999999998" width="9.6" height="2" fill="#306830" stroke="none" stroke-width="0"/>
<rect x="394.3" y="234.0" width="9.6" height="8.000000000000004" fill="#f0fae0" stroke="none" stroke-width="0"/>
<rect x="394.3" y="237.0" width="9.6" height="2" fill="#a0e040" stroke="none" stroke-width="0"/>
<rect x="394.3" y="243.20000000000002" width="9.6" height="8.000000000000004" fill="#f8ecd8" stroke="none" stroke-width="0"/>
<rect x="394.3" y="246.20000000000002" width="9.6" height="2" fill="#c09060" stroke="none" stroke-width="0"/>
<rect x="394.3" y="252.4" width="9.6" height="8.000000000000004" fill="#e0f8fc" stroke="none" stroke-width="0"/>
<rect x="394.3" y="255.40000000000003" width="9.6" height="2" fill="#90d8e8" stroke="none" stroke-width="0"/>
<rect x="394.3" y="261.6" width="9.6" height="8.000000000000004" fill="#f0f0ff" stroke="none" stroke-width="0"/>
<rect x="394.3" y="264.6" width="9.6" height="2" fill="#0010b0" stroke="none" stroke-width="0"/>
<rect x="394.3" y="270.80000000000007" width="9.6" height="8.000000000000004" fill="#fff0f0" stroke="none" stroke-width="0"/>
<rect x="394.3" y="273.80000000000007" width="9.6" height="2" fill="#c00018" stroke="none" stroke-width="0"/>
<rect x="394.3" y="280.00000000000006" width="9.6" height="8.000000000000004" fill="#6a6a6a" stroke="none" stroke-width="0"/>
<text x="409.8" y="205.1" font-size="7.9" text-anchor="start" font-weight="normal" fill="#111" >A20/127</text>
<text x="409.8" y="214.28" font-size="7.9" text-anchor="start" font-weight="normal" fill="#111" >A20/126</text>
<text x="409.8" y="223.45999999999998" font-size="7.9" text-anchor="start" font-weight="normal" fill="#111" >A20/125</text>
<text x="409.8" y="232.64" font-size="7.9" text-anchor="start" font-weight="normal" fill="#111" >A20/124</text>
<text x="409.8" y="241.82" font-size="7.9" text-anchor="start" font-weight="normal" fill="#111" >A20/123</text>
<text x="409.8" y="251.0" font-size="7.9" text-anchor="start" font-weight="normal" fill="#111" >A20/122</text>
<text x="409.8" y="260.18" font-size="7.9" text-anchor="start" font-weight="normal" fill="#111" >A20/121</text>
<text x="409.8" y="269.36" font-size="7.9" text-anchor="start" font-weight="normal" fill="#111" >A20/CBH-4G</text>
<text x="409.8" y="278.53999999999996" font-size="7.9" text-anchor="start" font-weight="normal" fill="#111" >A20/CBH-4B</text>
<text x="409.8" y="287.72" font-size="7.9" text-anchor="start" font-weight="normal" fill="#111" >A20</text>
<rect x="392.8" y="317.3" width="12.8" height="80.5" fill="#111" stroke="none" stroke-width="0"/>
<rect x="394.40000000000003" y="318.90000000000003" width="9.6" height="7.522222222222221" fill="#f4f0fa" stroke="none" stroke-width="0"/>
<rect x="394.40000000000003" y="321.6611111111111" width="9.6" height="2" fill="#8020c8" stroke="none" stroke-width="0"/>
<rect x="394.40000000000003" y="327.62222222222226" width="9.6" height="7.522222222222221" fill="#f8f4f4" stroke="none" stroke-width="0"/>
<rect x="394.40000000000003" y="330.3833333333333" width="9.6" height="2" fill="#c0b0b0" stroke="none" stroke-width="0"/>
<rect x="394.40000000000003" y="336.3444444444445" width="9.6" height="7.522222222222221" fill="#f4f4f0" stroke="none" stroke-width="0"/>
<rect x="394.40000000000003" y="339.10555555555555" width="9.6" height="2" fill="#b0b0a0" stroke="none" stroke-width="0"/>
<rect x="394.40000000000003" y="345.0666666666667" width="9.6" height="7.522222222222221" fill="#f0fae0" stroke="none" stroke-width="0"/>
<rect x="394.40000000000003" y="347.8277777777778" width="9.6" height="2" fill="#a0e040" stroke="none" stroke-width="0"/>
<rect x="394.40000000000003" y="353.7888888888889" width="9.6" height="7.522222222222221" fill="#fbf2e0" stroke="none" stroke-width="0"/>
<rect x="394.40000000000003" y="356.54999999999995" width="9.6" height="2" fill="#d0a050" stroke="none" stroke-width="0"/>
<rect x="394.40000000000003" y="362.5111111111111" width="9.6" height="7.522222222222221" fill="#e8f6fc" stroke="none" stroke-width="0"/>
<rect x="394.40000000000003" y="365.2722222222222" width="9.6" height="2" fill="#90d0f0" stroke="none" stroke-width="0"/>
<rect x="394.40000000000003" y="371.23333333333335" width="9.6" height="7.522222222222221" fill="#fff0f0" stroke="none" stroke-width="0"/>
<rect x="394.40000000000003" y="373.9944444444444" width="9.6" height="2" fill="#c00018" stroke="none" stroke-width="0"/>
<rect x="394.40000000000003" y="379.9555555555556" width="9.6" height="7.522222222222221" fill="#ffffff" stroke="none" stroke-width="0"/>
<rect x="394.40000000000003" y="382.71666666666664" width="9.6" height="2" fill="#000000" stroke="none" stroke-width="0"/>
<rect x="394.40000000000003" y="388.6777777777778" width="9.6" height="7.522222222222221" fill="#6a6a6a" stroke="none" stroke-width="0"/>
<text x="409.8" y="324.3" font-size="7.9" text-anchor="start" font-weight="normal" fill="#111" >A20/127</text>
<text x="409.8" y="333.22" font-size="7.9" text-anchor="start" font-weight="normal" fill="#111" >A20/126</text>
<text x="409.8" y="342.14" font-size="7.9" text-anchor="start" font-weight="normal" fill="#111" >A20/125</text>
<text x="409.8" y="351.06" font-size="7.9" text-anchor="start" font-weight="normal" fill="#111" >A20/124</text>
<text x="409.8" y="359.98" font-size="7.9" text-anchor="start" font-weight="normal" fill="#111" >A20/122</text>
<text x="409.8" y="368.90000000000003" font-size="7.9" text-anchor="start" font-weight="normal" fill="#111" >A20/121</text>
<text x="409.8" y="377.82" font-size="7.9" text-anchor="start" font-weight="normal" fill="#111" >A20/CBH-4B</text>
<text x="409.8" y="386.74" font-size="7.9" text-anchor="start" font-weight="normal" fill="#111" >A20/CBH-4B</text>
<text x="409.8" y="395.66" font-size="7.9" text-anchor="start" font-weight="normal" fill="#111" >A20</text>
<rect x="392.3" y="434.9" width="12.8" height="93.89999999999998" fill="#111" stroke="none" stroke-width="0"/>
<rect x="393.90000000000003" y="436.5" width="9.6" height="7.9899999999999975" fill="#e8f6f8" stroke="none" stroke-width="0"/>
<rect x="393.90000000000003" y="439.495" width="9.6" height="2" fill="#60a8b8" stroke="none" stroke-width="0"/>
<rect x="393.90000000000003" y="445.69" width="9.6" height="7.9899999999999975" fill="#f4ecfa" stroke="none" stroke-width="0"/>
<rect x="393.90000000000003" y="448.68499999999995" width="9.6" height="2" fill="#7010c0" stroke="none" stroke-width="0"/>
<rect x="393.90000000000003" y="454.88" width="9.6" height="7.9899999999999975" fill="#f8f0f4" stroke="none" stroke-width="0"/>
<rect x="393.90000000000003" y="457.875" width="9.6" height="2" fill="#c0a0b0" stroke="none" stroke-width="0"/>
<rect x="393.90000000000003" y="464.07" width="9.6" height="7.9899999999999975" fill="#eef4e8" stroke="none" stroke-width="0"/>
<rect x="393.90000000000003" y="467.06499999999994" width="9.6" height="2" fill="#306020" stroke="none" stroke-width="0"/>
<rect x="393.90000000000003" y="473.26" width="9.6" height="7.9899999999999975" fill="#f0fae0" stroke="none" stroke-width="0"/>
<rect x="393.90000000000003" y="476.255" width="9.6" height="2" fill="#a0e040" stroke="none" stroke-width="0"/>
<rect x="393.90000000000003" y="482.45" width="9.6" height="7.9899999999999975" fill="#fbf2e0" stroke="none" stroke-width="0"/>
<rect x="393.90000000000003" y="485.44499999999994" width="9.6" height="2" fill="#e0a050" stroke="none" stroke-width="0"/>
<rect x="393.90000000000003" y="491.64" width="9.6" height="7.9899999999999975" fill="#e8f6fc" stroke="none" stroke-width="0"/>
<rect x="393.90000000000003" y="494.635" width="9.6" height="2" fill="#80c8f0" stroke="none" stroke-width="0"/>
<rect x="393.90000000000003" y="500.83" width="9.6" height="7.9899999999999975" fill="#fff0f0" stroke="none" stroke-width="0"/>
<rect x="393.90000000000003" y="503.82499999999993" width="9.6" height="2" fill="#c00018" stroke="none" stroke-width="0"/>
<rect x="393.90000000000003" y="510.02" width="9.6" height="7.9899999999999975" fill="#ffffff" stroke="none" stroke-width="0"/>
<rect x="393.90000000000003" y="513.015" width="9.6" height="2" fill="#000000" stroke="none" stroke-width="0"/>
<rect x="393.90000000000003" y="519.2099999999999" width="9.6" height="7.9899999999999975" fill="#6a6a6a" stroke="none" stroke-width="0"/>
<text x="409.8" y="442.7" font-size="7.9" text-anchor="start" font-weight="normal" fill="#111" >A20/127</text>
<text x="409.8" y="451.92" font-size="7.9" text-anchor="start" font-weight="normal" fill="#111" >A20/126</text>
<text x="409.8" y="461.14" font-size="7.9" text-anchor="start" font-weight="normal" fill="#111" >A20/125</text>
<text x="409.8" y="470.36" font-size="7.9" text-anchor="start" font-weight="normal" fill="#111" >A20/124</text>
<text x="409.8" y="479.58" font-size="7.9" text-anchor="start" font-weight="normal" fill="#111" >A20/123</text>
<text x="409.8" y="488.8" font-size="7.9" text-anchor="start" font-weight="normal" fill="#111" >A20/122</text>
<text x="409.8" y="498.02" font-size="7.9" text-anchor="start" font-weight="normal" fill="#111" >A20/121</text>
<text x="409.8" y="507.24" font-size="7.9" text-anchor="start" font-weight="normal" fill="#111" >A20/CBH-4G</text>
<text x="409.8" y="516.46" font-size="7.9" text-anchor="start" font-weight="normal" fill="#111" >A20/CBH-4G</text>
<text x="409.8" y="525.68" font-size="7.9" text-anchor="start" font-weight="normal" fill="#111" >A20</text>
<path d="M459.2,321.7 L463,321.7 L463,373.6 L459.2,373.6" fill="none" stroke="#000" stroke-width="1.6" stroke-linejoin="round" />
<path d="M458.59999999999997,440.6 L462.4,440.6 L462.4,504.2 L458.59999999999997,504.2" fill="none" stroke="#000" stroke-width="1.6" stroke-linejoin="round" />
<text x="473.3" y="350" font-size="8" fill="#111">E2<tspan font-size="5" dy="1.8" style="stroke-width:0.1px">661</tspan></text>
<text x="474" y="386.6" font-size="7.9" text-anchor="start" font-weight="normal" fill="#111" >Mock sup</text>
<text x="474" y="395.7" font-size="8" fill="#111">E2<tspan font-size="5" dy="1.8" style="stroke-width:0.1px">661</tspan></text>
<text x="473.3" y="475.1" font-size="7.9" text-anchor="start" font-weight="normal" fill="#111" >J6E2</text>
<text x="474" y="516.4" font-size="7.9" text-anchor="start" font-weight="normal" fill="#111" >BSA</text>
<text x="474" y="525.7" font-size="7.9" text-anchor="start" font-weight="normal" fill="#111" >J6E2</text>
<line x1="43.4" y1="533.78" x2="43.4" y2="644.8" stroke="#111" stroke-width="1.5"/>
<line x1="42.699999999999996" y1="644.8" x2="250.2" y2="644.8" stroke="#111" stroke-width="1.5"/>
<line x1="40.8" y1="644.8" x2="43.4" y2="644.8" stroke="#111" stroke-width="1.1"/>
<text x="36.3" y="648.6999999999999" font-size="10.5" text-anchor="end" font-weight="normal" fill="#111" >0</text>
<line x1="40.8" y1="628.9399999999999" x2="43.4" y2="628.9399999999999" stroke="#111" stroke-width="1.1"/>
<text x="36.3" y="632.8399999999999" font-size="10.5" text-anchor="end" font-weight="normal" fill="#111" >0.2</text>
<line x1="40.8" y1="613.0799999999999" x2="43.4" y2="613.0799999999999" stroke="#111" stroke-width="1.1"/>
<text x="36.3" y="616.9799999999999" font-size="10.5" text-anchor="end" font-weight="normal" fill="#111" >0.4</text>
<line x1="40.8" y1="597.2199999999999" x2="43.4" y2="597.2199999999999" stroke="#111" stroke-width="1.1"/>
<text x="36.3" y="601.1199999999999" font-size="10.5" text-anchor="end" font-weight="normal" fill="#111" >0.6</text>
<line x1="40.8" y1="581.3599999999999" x2="43.4" y2="581.3599999999999" stroke="#111" stroke-width="1.1"/>
<text x="36.3" y="585.2599999999999" font-size="10.5" text-anchor="end" font-weight="normal" fill="#111" >0.8</text>
<line x1="40.8" y1="565.5" x2="43.4" y2="565.5" stroke="#111" stroke-width="1.1"/>
<text x="36.3" y="569.4" font-size="10.5" text-anchor="end" font-weight="normal" fill="#111" >1.0</text>
<line x1="40.8" y1="549.64" x2="43.4" y2="549.64" stroke="#111" stroke-width="1.1"/>
<text x="36.3" y="553.54" font-size="10.5" text-anchor="end" font-weight="normal" fill="#111" >1.2</text>
<line x1="40.8" y1="533.78" x2="43.4" y2="533.78" stroke="#111" stroke-width="1.1"/>
<text x="36.3" y="537.68" font-size="10.5" text-anchor="end" font-weight="normal" fill="#111" >1.4</text>
<line x1="43.4" y1="644.8" x2="43.4" y2="647.4" stroke="#111" stroke-width="1.1"/>
<line x1="62.15" y1="644.8" x2="62.15" y2="647.4" stroke="#111" stroke-width="1.1"/>
<line x1="80.9" y1="644.8" x2="80.9" y2="647.4" stroke="#111" stroke-width="1.1"/>
<line x1="99.65" y1="644.8" x2="99.65" y2="647.4" stroke="#111" stroke-width="1.1"/>
<line x1="118.4" y1="644.8" x2="118.4" y2="647.4" stroke="#111" stroke-width="1.1"/>
<line x1="137.15" y1="644.8" x2="137.15" y2="647.4" stroke="#111" stroke-width="1.1"/>
<line x1="155.9" y1="644.8" x2="155.9" y2="647.4" stroke="#111" stroke-width="1.1"/>
<line x1="174.65" y1="644.8" x2="174.65" y2="647.4" stroke="#111" stroke-width="1.1"/>
<line x1="193.4" y1="644.8" x2="193.4" y2="647.4" stroke="#111" stroke-width="1.1"/>
<line x1="212.15" y1="644.8" x2="212.15" y2="647.4" stroke="#111" stroke-width="1.1"/>
<line x1="230.9" y1="644.8" x2="230.9" y2="647.4" stroke="#111" stroke-width="1.1"/>
<line x1="249.65" y1="644.8" x2="249.65" y2="647.4" stroke="#111" stroke-width="1.1"/>
<rect x="49.800000000000004" y="565.5" width="7.6" height="79.29999999999995" fill="#000" stroke="none" stroke-width="0"/>
<line x1="53.6" y1="565.5" x2="53.6" y2="555.1909999999999" stroke="#222" stroke-width="1.0"/>
<line x1="51.6" y1="555.1909999999999" x2="55.6" y2="555.1909999999999" stroke="#222" stroke-width="1.0"/>
<text x="0" y="0" font-size="9.8" text-anchor="end" font-weight="normal" fill="#111" transform="translate(57.4,655.6) rotate(-45)">A20/S1C5</text>
<rect x="68.52" y="553.605" width="7.6" height="91.19499999999994" fill="#000" stroke="none" stroke-width="0"/>
<line x1="72.32" y1="553.605" x2="72.32" y2="541.7099999999999" stroke="#222" stroke-width="1.0"/>
<line x1="70.32" y1="541.7099999999999" x2="74.32" y2="541.7099999999999" stroke="#222" stroke-width="1.0"/>
<text x="0" y="0" font-size="9.8" text-anchor="end" font-weight="normal" fill="#111" transform="translate(76.11999999999999,655.6) rotate(-45)">A20/121</text>
<rect x="87.24" y="566.293" width="7.6" height="78.50699999999995" fill="#000" stroke="none" stroke-width="0"/>
<line x1="91.03999999999999" y1="566.293" x2="91.03999999999999" y2="559.949" stroke="#222" stroke-width="1.0"/>
<line x1="89.03999999999999" y1="559.949" x2="93.03999999999999" y2="559.949" stroke="#222" stroke-width="1.0"/>
<text x="0" y="0" font-size="9.8" text-anchor="end" font-weight="normal" fill="#111" transform="translate(94.83999999999999,655.6) rotate(-45)">A20/122</text>
<rect x="105.96" y="563.121" width="7.6" height="81.67899999999997" fill="#000" stroke="none" stroke-width="0"/>
<line x1="109.75999999999999" y1="563.121" x2="109.75999999999999" y2="548.054" stroke="#222" stroke-width="1.0"/>
<line x1="107.75999999999999" y1="548.054" x2="111.75999999999999" y2="548.054" stroke="#222" stroke-width="1.0"/>
<text x="0" y="0" font-size="9.8" text-anchor="end" font-weight="normal" fill="#111" transform="translate(113.55999999999999,655.6) rotate(-45)">A20/123</text>
<rect x="124.67999999999999" y="567.8789999999999" width="7.6" height="76.92100000000005" fill="#000" stroke="none" stroke-width="0"/>
<line x1="128.48" y1="567.8789999999999" x2="128.48" y2="562.328" stroke="#222" stroke-width="1.0"/>
<line x1="126.47999999999999" y1="562.328" x2="130.48" y2="562.328" stroke="#222" stroke-width="1.0"/>
<text x="0" y="0" font-size="9.8" text-anchor="end" font-weight="normal" fill="#111" transform="translate(132.28,655.6) rotate(-45)">A20/124</text>
<rect x="143.39999999999998" y="556.7769999999999" width="7.6" height="88.02300000000002" fill="#000" stroke="none" stroke-width="0"/>
<line x1="147.2" y1="556.7769999999999" x2="147.2" y2="548.847" stroke="#222" stroke-width="1.0"/>
<line x1="145.2" y1="548.847" x2="149.2" y2="548.847" stroke="#222" stroke-width="1.0"/>
<text x="0" y="0" font-size="9.8" text-anchor="end" font-weight="normal" fill="#111" transform="translate(151.0,655.6) rotate(-45)">A20/125</text>
<rect x="162.11999999999998" y="580.1705" width="7.6" height="64.62950000000001" fill="#000" stroke="none" stroke-width="0"/>
<line x1="165.92" y1="580.1705" x2="165.92" y2="567.4825" stroke="#222" stroke-width="1.0"/>
<line x1="163.92" y1="567.4825" x2="167.92" y2="567.4825" stroke="#222" stroke-width="1.0"/>
<text x="0" y="0" font-size="9.8" text-anchor="end" font-weight="normal" fill="#111" transform="translate(169.72,655.6) rotate(-45)">A20/126</text>
<rect x="180.83999999999997" y="565.5" width="7.6" height="79.29999999999995" fill="#000" stroke="none" stroke-width="0"/>
<line x1="184.64" y1="565.5" x2="184.64" y2="548.847" stroke="#222" stroke-width="1.0"/>
<line x1="182.64" y1="548.847" x2="186.64" y2="548.847" stroke="#222" stroke-width="1.0"/>
<text x="0" y="0" font-size="9.8" text-anchor="end" font-weight="normal" fill="#111" transform="translate(188.44,655.6) rotate(-45)">A20/127</text>
<rect x="199.55999999999997" y="565.5" width="7.6" height="79.29999999999995" fill="#000" stroke="none" stroke-width="0"/>
<line x1="203.35999999999999" y1="565.5" x2="203.35999999999999" y2="559.156" stroke="#222" stroke-width="1.0"/>
<line x1="201.35999999999999" y1="559.156" x2="205.35999999999999" y2="559.156" stroke="#222" stroke-width="1.0"/>
<text x="0" y="0" font-size="9.8" text-anchor="end" font-weight="normal" fill="#111" transform="translate(207.16,655.6) rotate(-45)">h IgG1</text>
<rect x="219.82999999999998" y="643.2139999999999" width="4.5" height="1.5860000000000127" fill="#000" stroke="none" stroke-width="0"/>
<line x1="222.07999999999998" y1="643.2139999999999" x2="222.07999999999998" y2="642.8175" stroke="#222" stroke-width="1.0"/>
<line x1="220.07999999999998" y1="642.8175" x2="224.07999999999998" y2="642.8175" stroke="#222" stroke-width="1.0"/>
<text x="0" y="0" font-size="9.8" text-anchor="end" font-weight="normal" fill="#111" transform="translate(225.88,655.6) rotate(-45)">CBH-2</text>
<rect x="236.99999999999997" y="640.8349999999999" width="7.6" height="3.965000000000032" fill="#000" stroke="none" stroke-width="0"/>
<line x1="240.79999999999998" y1="640.8349999999999" x2="240.79999999999998" y2="638.4559999999999" stroke="#222" stroke-width="1.0"/>
<line x1="238.79999999999998" y1="638.4559999999999" x2="242.79999999999998" y2="638.4559999999999" stroke="#222" stroke-width="1.0"/>
<text x="0" y="0" font-size="9.8" text-anchor="end" font-weight="normal" fill="#111" transform="translate(244.6,655.6) rotate(-45)">CBH-5</text>
<text x="0" y="0" font-size="10.8" text-anchor="middle" font-weight="normal" fill="#111" transform="translate(15.0,591.8) rotate(-90)">HCVcc Infection</text>
</svg>
</body></html>
